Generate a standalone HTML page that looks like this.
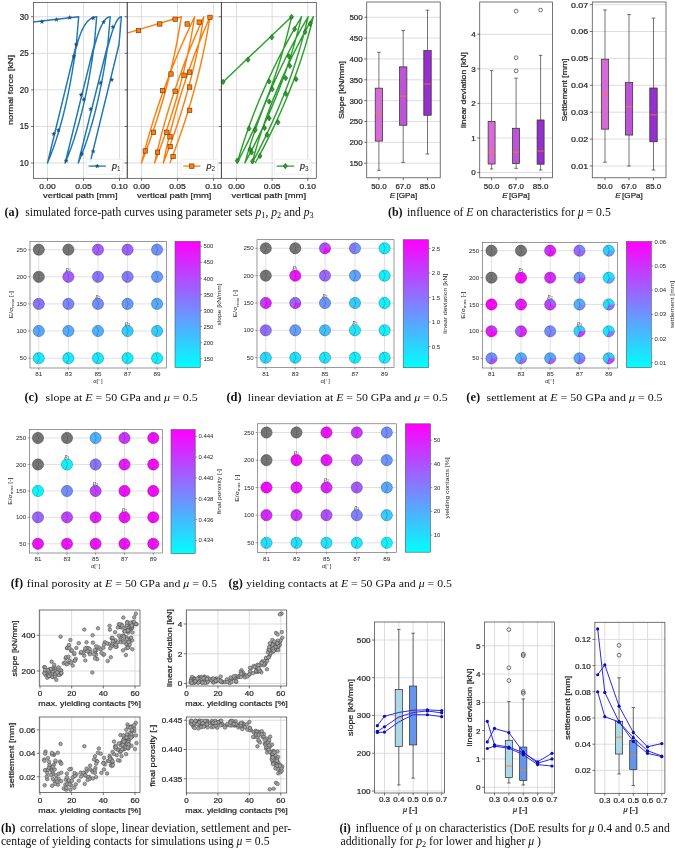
<!DOCTYPE html>
<html><head><meta charset="utf-8"><style>html,body{margin:0;padding:0;background:#fff;overflow:hidden;}svg{display:block;filter:blur(0.3px);}</style></head>
<body><svg width="675" height="849" viewBox="0 0 675 849">
<defs><clipPath id="ca1"><rect x="33.5" y="2.5" width="93.7" height="175.8"/></clipPath><clipPath id="ca2"><rect x="127.2" y="2.5" width="94.1" height="175.8"/></clipPath><clipPath id="ca3"><rect x="221.3" y="2.5" width="95" height="175.8"/></clipPath><linearGradient id="g175" x1="0" y1="1" x2="0" y2="0"><stop offset="0" stop-color="#00ffff"/><stop offset="1" stop-color="#ff00ff"/></linearGradient><linearGradient id="g403" x1="0" y1="1" x2="0" y2="0"><stop offset="0" stop-color="#00ffff"/><stop offset="1" stop-color="#ff00ff"/></linearGradient><linearGradient id="g626" x1="0" y1="1" x2="0" y2="0"><stop offset="0" stop-color="#00ffff"/><stop offset="1" stop-color="#ff00ff"/></linearGradient><linearGradient id="g171" x1="0" y1="1" x2="0" y2="0"><stop offset="0" stop-color="#00ffff"/><stop offset="1" stop-color="#ff00ff"/></linearGradient><linearGradient id="g405" x1="0" y1="1" x2="0" y2="0"><stop offset="0" stop-color="#00ffff"/><stop offset="1" stop-color="#ff00ff"/></linearGradient><clipPath id="c39_610"><rect x="39.25" y="610" width="100.75" height="76"/></clipPath><clipPath id="c186_610"><rect x="186.25" y="610" width="100.5" height="76"/></clipPath><clipPath id="c39_717"><rect x="39.25" y="717" width="100.75" height="75.5"/></clipPath><clipPath id="c186_717"><rect x="186.25" y="717" width="100.5" height="76"/></clipPath></defs>
<rect width="675" height="849" fill="#fff"/>
<line x1="33.5" y1="163" x2="127.2" y2="163" stroke="#d4d4d4" stroke-width="0.8" />
<line x1="33.5" y1="126.44" x2="127.2" y2="126.44" stroke="#d4d4d4" stroke-width="0.8" />
<line x1="33.5" y1="89.88" x2="127.2" y2="89.88" stroke="#d4d4d4" stroke-width="0.8" />
<line x1="33.5" y1="53.31" x2="127.2" y2="53.31" stroke="#d4d4d4" stroke-width="0.8" />
<line x1="33.5" y1="16.75" x2="127.2" y2="16.75" stroke="#d4d4d4" stroke-width="0.8" />
<line x1="47.5" y1="2.5" x2="47.5" y2="178.3" stroke="#d4d4d4" stroke-width="0.8" />
<line x1="83.5" y1="2.5" x2="83.5" y2="178.3" stroke="#d4d4d4" stroke-width="0.8" />
<line x1="119.5" y1="2.5" x2="119.5" y2="178.3" stroke="#d4d4d4" stroke-width="0.8" />
<line x1="127.2" y1="163" x2="221.3" y2="163" stroke="#d4d4d4" stroke-width="0.8" />
<line x1="127.2" y1="126.44" x2="221.3" y2="126.44" stroke="#d4d4d4" stroke-width="0.8" />
<line x1="127.2" y1="89.88" x2="221.3" y2="89.88" stroke="#d4d4d4" stroke-width="0.8" />
<line x1="127.2" y1="53.31" x2="221.3" y2="53.31" stroke="#d4d4d4" stroke-width="0.8" />
<line x1="127.2" y1="16.75" x2="221.3" y2="16.75" stroke="#d4d4d4" stroke-width="0.8" />
<line x1="141.5" y1="2.5" x2="141.5" y2="178.3" stroke="#d4d4d4" stroke-width="0.8" />
<line x1="177.5" y1="2.5" x2="177.5" y2="178.3" stroke="#d4d4d4" stroke-width="0.8" />
<line x1="213.5" y1="2.5" x2="213.5" y2="178.3" stroke="#d4d4d4" stroke-width="0.8" />
<line x1="221.3" y1="163" x2="316.3" y2="163" stroke="#d4d4d4" stroke-width="0.8" />
<line x1="221.3" y1="126.44" x2="316.3" y2="126.44" stroke="#d4d4d4" stroke-width="0.8" />
<line x1="221.3" y1="89.88" x2="316.3" y2="89.88" stroke="#d4d4d4" stroke-width="0.8" />
<line x1="221.3" y1="53.31" x2="316.3" y2="53.31" stroke="#d4d4d4" stroke-width="0.8" />
<line x1="221.3" y1="16.75" x2="316.3" y2="16.75" stroke="#d4d4d4" stroke-width="0.8" />
<line x1="236.5" y1="2.5" x2="236.5" y2="178.3" stroke="#d4d4d4" stroke-width="0.8" />
<line x1="272.12" y1="2.5" x2="272.12" y2="178.3" stroke="#d4d4d4" stroke-width="0.8" />
<line x1="307.75" y1="2.5" x2="307.75" y2="178.3" stroke="#d4d4d4" stroke-width="0.8" />
<polyline points="33.03,22.09 78.68,16.75 77.81,26.99 76.3,44.54 47.5,163 50.53,155.51 53.44,147.66 56.23,139.46 58.89,130.91 61.42,121.99 63.83,112.73 66.11,103.1 68.26,93.12 70.29,82.79 72.2,72.1 73.98,61.06 75.63,49.66 76.65,45.67 77.71,41.94 78.81,38.47 79.95,35.26 81.12,32.3 82.34,29.6 83.6,27.16 84.89,24.98 86.23,23.05 87.6,21.38 89.02,19.96 90.47,18.81 91.96,17.91 93.49,17.26 95.07,16.88 96.68,16.75 95.81,26.99 94.3,44.54 65.14,163 68.2,155.51 71.13,147.66 73.94,139.46 76.62,130.91 79.18,121.99 81.62,112.73 83.93,103.1 86.12,93.12 88.18,82.79 90.11,72.1 91.93,61.06 93.62,49.66 94.63,45.67 95.65,41.94 96.67,38.47 97.69,35.26 98.72,32.3 99.75,29.6 100.78,27.16 101.81,24.98 102.85,23.05 103.9,21.38 104.94,19.96 105.99,18.81 107.04,17.91 108.09,17.26 109.15,16.88 110.21,16.75 109.35,26.99 107.84,44.54 78.24,163 81.33,155.51 84.29,147.66 87.13,139.46 89.85,130.91 92.44,121.99 94.91,112.73 97.25,103.1 99.47,93.12 101.57,82.79 103.55,72.1 105.4,61.06 107.13,49.66 108.15,45.67 109.15,41.94 110.14,38.47 111.11,35.26 112.06,32.3 112.99,29.6 113.9,27.16 114.8,24.98 115.68,23.05 116.55,21.38 117.4,19.96 118.23,18.81 119.04,17.91 119.83,17.26 120.61,16.88 121.37,16.75 120.51,26.99 119,44.54 90.36,161.76" fill="none" stroke="#1f77b4" stroke-width="1.45" stroke-linejoin="round" clip-path="url(#ca1)"/>
<polyline points="127.03,33.13 181.39,16.75 179.68,27.2 177.81,37.64 175.75,48.09 173.52,58.54 171.11,68.98 168.52,79.43 165.76,89.88 162.83,100.32 159.71,110.77 156.42,121.21 152.96,131.66 149.31,142.11 145.5,152.55 141.5,163 144.15,152.55 146.97,142.11 149.98,131.66 153.16,121.21 156.51,110.77 160.04,100.32 163.75,89.88 167.63,79.43 171.69,68.98 175.93,58.54 180.34,48.09 184.93,37.64 189.69,27.2 194.64,16.75 192.92,27.2 191.03,37.64 188.97,48.09 186.72,58.54 184.31,68.98 181.71,79.43 178.94,89.88 175.99,100.32 172.87,110.77 169.57,121.21 166.09,131.66 162.44,142.11 158.61,152.55 154.6,163 156.97,152.55 159.51,142.11 162.23,131.66 165.13,121.21 168.2,110.77 171.45,100.32 174.87,89.88 178.47,79.43 182.25,68.98 186.2,58.54 190.33,48.09 194.64,37.64 199.12,27.2 203.78,16.75 202.04,27.2 200.12,37.64 198.02,48.09 195.75,58.54 193.3,68.98 190.67,79.43 187.87,89.88 184.89,100.32 181.73,110.77 178.4,121.21 174.9,131.66 171.21,142.11 167.35,152.55 163.32,163 165.5,152.55 167.87,142.11 170.4,131.66 173.12,121.21 176.01,110.77 179.08,100.32 182.32,89.88 185.74,79.43 189.34,68.98 193.12,58.54 197.06,48.09 201.19,37.64 205.49,27.2 209.97,16.75 208.26,27.2 206.37,37.64 204.3,48.09 202.06,58.54 199.64,68.98 197.05,79.43 194.28,89.88 191.33,100.32 188.2,110.77 184.9,121.21 181.43,131.66 177.77,142.11 173.95,152.55 169.94,163" fill="none" stroke="#ff7f0e" stroke-width="1.45" stroke-linejoin="round" clip-path="url(#ca2)"/>
<polyline points="223.1,81.9 291.5,16.75 289.14,27.2 286.54,37.64 283.71,48.09 280.65,58.54 277.35,68.98 273.82,79.43 270.06,89.88 266.06,100.32 261.84,110.77 257.38,121.21 252.69,131.66 247.76,142.11 242.6,152.55 237.21,163 240.29,152.55 243.6,142.11 247.15,131.66 250.92,121.21 254.93,110.77 259.17,100.32 263.65,89.88 268.35,79.43 273.29,68.98 278.46,58.54 283.87,48.09 289.51,37.64 295.38,27.2 301.48,16.75 298.95,27.2 296.19,37.64 293.2,48.09 289.97,58.54 286.51,68.98 282.82,79.43 278.89,89.88 274.74,100.32 270.35,110.77 265.72,121.21 260.87,131.66 255.78,142.11 250.46,152.55 244.91,163 247.91,152.55 251.14,142.11 254.61,131.66 258.31,121.21 262.24,110.77 266.41,100.32 270.81,89.88 275.44,79.43 280.3,68.98 285.4,58.54 290.72,48.09 296.29,37.64 302.08,27.2 308.11,16.75 305.62,27.2 302.9,37.64 299.94,48.09 296.76,58.54 293.34,68.98 289.69,79.43 285.81,89.88 281.69,100.32 277.34,110.77 272.76,121.21 267.94,131.66 262.9,142.11 257.62,152.55 252.1,163 254.96,152.55 258.06,142.11 261.38,131.66 264.94,121.21 268.73,110.77 272.75,100.32 277.01,89.88 281.49,79.43 286.21,68.98 291.17,58.54 296.35,48.09 301.77,37.64 307.42,27.2 313.31,16.75 310.67,27.2 307.8,37.64 304.7,48.09 301.37,58.54 297.8,68.98 294,79.43 289.97,89.88 285.71,100.32 281.21,110.77 276.48,121.21 271.52,131.66 266.33,142.11 260.9,152.55 255.24,163" fill="none" stroke="#2ca02c" stroke-width="1.45" stroke-linejoin="round" clip-path="url(#ca3)"/>
<polygon points="41.92,19.51 42.46,20.96 44.01,21.03 42.8,22 43.21,23.49 41.92,22.63 40.63,23.49 41.04,22 39.83,21.03 41.38,20.96" fill="#1f4e79" stroke="#1f4e79" stroke-width="0.3"/>
<polygon points="56.44,17.43 56.99,18.89 58.54,18.96 57.32,19.92 57.74,21.41 56.44,20.56 55.15,21.41 55.57,19.92 54.35,18.96 55.9,18.89" fill="#1f4e79" stroke="#1f4e79" stroke-width="0.3"/>
<polygon points="69.72,15.36 70.27,16.81 71.81,16.88 70.6,17.85 71.02,19.34 69.72,18.48 68.43,19.34 68.84,17.85 67.63,16.88 69.18,16.81" fill="#1f4e79" stroke="#1f4e79" stroke-width="0.3"/>
<polygon points="93.17,15.98 93.71,17.44 95.26,17.5 94.04,18.47 94.46,19.96 93.17,19.11 91.87,19.96 92.29,18.47 91.07,17.5 92.62,17.44" fill="#1f4e79" stroke="#1f4e79" stroke-width="0.3"/>
<polygon points="103.54,19.92 104.08,21.38 105.63,21.44 104.42,22.41 104.83,23.9 103.54,23.05 102.25,23.9 102.66,22.41 101.45,21.44 103,21.38" fill="#1f4e79" stroke="#1f4e79" stroke-width="0.3"/>
<polygon points="112.88,24.7 113.42,26.15 114.97,26.22 113.75,27.18 114.17,28.68 112.88,27.82 111.58,28.68 112,27.18 110.78,26.22 112.33,26.15" fill="#1f4e79" stroke="#1f4e79" stroke-width="0.3"/>
<polygon points="76.15,42.33 76.7,43.78 78.25,43.85 77.03,44.82 77.45,46.31 76.15,45.46 74.86,46.31 75.27,44.82 74.06,43.85 75.61,43.78" fill="#1f4e79" stroke="#1f4e79" stroke-width="0.3"/>
<polygon points="73.87,54.16 74.41,55.61 75.96,55.68 74.75,56.64 75.16,58.14 73.87,57.28 72.58,58.14 72.99,56.64 71.78,55.68 73.33,55.61" fill="#1f4e79" stroke="#1f4e79" stroke-width="0.3"/>
<polygon points="81.13,92.54 81.68,93.99 83.23,94.06 82.01,95.02 82.43,96.52 81.13,95.66 79.84,96.52 80.25,95.02 79.04,94.06 80.59,93.99" fill="#1f4e79" stroke="#1f4e79" stroke-width="0.3"/>
<polygon points="83.83,97.31 84.37,98.76 85.92,98.83 84.71,99.8 85.12,101.29 83.83,100.43 82.54,101.29 82.95,99.8 81.74,98.83 83.29,98.76" fill="#1f4e79" stroke="#1f4e79" stroke-width="0.3"/>
<polygon points="53.75,131.75 54.29,133.2 55.84,133.27 54.63,134.24 55.04,135.73 53.75,134.87 52.45,135.73 52.87,134.24 51.65,133.27 53.2,133.2" fill="#1f4e79" stroke="#1f4e79" stroke-width="0.3"/>
<polygon points="58.31,128.02 58.85,129.47 60.4,129.54 59.19,130.5 59.6,132 58.31,131.14 57.02,132 57.43,130.5 56.22,129.54 57.77,129.47" fill="#1f4e79" stroke="#1f4e79" stroke-width="0.3"/>
<polygon points="100.43,80.71 100.97,82.17 102.52,82.23 101.31,83.2 101.72,84.69 100.43,83.84 99.13,84.69 99.55,83.2 98.34,82.23 99.88,82.17" fill="#1f4e79" stroke="#1f4e79" stroke-width="0.3"/>
<polygon points="111.84,77.6 112.38,79.05 113.93,79.12 112.72,80.09 113.13,81.58 111.84,80.72 110.55,81.58 110.96,80.09 109.75,79.12 111.3,79.05" fill="#1f4e79" stroke="#1f4e79" stroke-width="0.3"/>
<polygon points="90.68,107.06 91.22,108.51 92.77,108.58 91.56,109.55 91.97,111.04 90.68,110.19 89.38,111.04 89.8,109.55 88.58,108.58 90.13,108.51" fill="#1f4e79" stroke="#1f4e79" stroke-width="0.3"/>
<polygon points="66.2,158.51 66.74,159.97 68.29,160.03 67.07,161 67.49,162.49 66.2,161.64 64.9,162.49 65.32,161 64.1,160.03 65.65,159.97" fill="#1f4e79" stroke="#1f4e79" stroke-width="0.3"/>
<polygon points="81.76,151.87 82.3,153.33 83.85,153.39 82.63,154.36 83.05,155.85 81.76,155 80.46,155.85 80.88,154.36 79.66,153.39 81.21,153.33" fill="#1f4e79" stroke="#1f4e79" stroke-width="0.3"/>
<polygon points="93.17,149.18 93.71,150.63 95.26,150.7 94.04,151.66 94.46,153.16 93.17,152.3 91.87,153.16 92.29,151.66 91.07,150.7 92.62,150.63" fill="#1f4e79" stroke="#1f4e79" stroke-width="0.3"/>
<rect x="136.21" y="28.43" width="4.4" height="4.4" fill="#ff7f0e" stroke="#5a3000" stroke-width="0.6"/>
<rect x="157.58" y="21.79" width="4.4" height="4.4" fill="#ff7f0e" stroke="#5a3000" stroke-width="0.6"/>
<rect x="172.93" y="17.02" width="4.4" height="4.4" fill="#ff7f0e" stroke="#5a3000" stroke-width="0.6"/>
<rect x="184.97" y="21.79" width="4.4" height="4.4" fill="#ff7f0e" stroke="#5a3000" stroke-width="0.6"/>
<rect x="197" y="19.92" width="4.4" height="4.4" fill="#ff7f0e" stroke="#5a3000" stroke-width="0.6"/>
<rect x="207.79" y="15.15" width="4.4" height="4.4" fill="#ff7f0e" stroke="#5a3000" stroke-width="0.6"/>
<rect x="168.78" y="71.79" width="4.4" height="4.4" fill="#ff7f0e" stroke="#5a3000" stroke-width="0.6"/>
<rect x="181.85" y="73.04" width="4.4" height="4.4" fill="#ff7f0e" stroke="#5a3000" stroke-width="0.6"/>
<rect x="187.46" y="69.92" width="4.4" height="4.4" fill="#ff7f0e" stroke="#5a3000" stroke-width="0.6"/>
<rect x="160.48" y="88.39" width="4.4" height="4.4" fill="#ff7f0e" stroke="#5a3000" stroke-width="0.6"/>
<rect x="172.93" y="89.01" width="4.4" height="4.4" fill="#ff7f0e" stroke="#5a3000" stroke-width="0.6"/>
<rect x="187.46" y="84.86" width="4.4" height="4.4" fill="#ff7f0e" stroke="#5a3000" stroke-width="0.6"/>
<rect x="187.46" y="108.1" width="4.4" height="4.4" fill="#ff7f0e" stroke="#5a3000" stroke-width="0.6"/>
<rect x="151.36" y="130.09" width="4.4" height="4.4" fill="#ff7f0e" stroke="#5a3000" stroke-width="0.6"/>
<rect x="164.63" y="130.09" width="4.4" height="4.4" fill="#ff7f0e" stroke="#5a3000" stroke-width="0.6"/>
<rect x="167.75" y="134.65" width="4.4" height="4.4" fill="#ff7f0e" stroke="#5a3000" stroke-width="0.6"/>
<rect x="143.06" y="148.76" width="4.4" height="4.4" fill="#ff7f0e" stroke="#5a3000" stroke-width="0.6"/>
<rect x="155.3" y="150.01" width="4.4" height="4.4" fill="#ff7f0e" stroke="#5a3000" stroke-width="0.6"/>
<rect x="167.95" y="144.41" width="4.4" height="4.4" fill="#ff7f0e" stroke="#5a3000" stroke-width="0.6"/>
<rect x="170.86" y="154.36" width="4.4" height="4.4" fill="#ff7f0e" stroke="#5a3000" stroke-width="0.6"/>
<polygon points="223.07,79.18 225.07,81.88 223.07,84.58 221.07,81.88" fill="#2ca02c" stroke="#145214" stroke-width="0.6"/>
<polygon points="247.97,56.98 249.97,59.68 247.97,62.38 245.97,59.68" fill="#2ca02c" stroke="#145214" stroke-width="0.6"/>
<polygon points="271.83,34.57 273.83,37.27 271.83,39.97 269.83,37.27" fill="#2ca02c" stroke="#145214" stroke-width="0.6"/>
<polygon points="291.54,14.24 293.54,16.94 291.54,19.64 289.54,16.94" fill="#2ca02c" stroke="#145214" stroke-width="0.6"/>
<polygon points="294.65,26.27 296.65,28.97 294.65,31.67 292.65,28.97" fill="#2ca02c" stroke="#145214" stroke-width="0.6"/>
<polygon points="305.02,29.38 307.02,32.08 305.02,34.78 303.02,32.08" fill="#2ca02c" stroke="#145214" stroke-width="0.6"/>
<polygon points="310.21,21.08 312.21,23.78 310.21,26.48 308.21,23.78" fill="#2ca02c" stroke="#145214" stroke-width="0.6"/>
<polygon points="288.84,53.66 290.84,56.36 288.84,59.06 286.84,56.36" fill="#2ca02c" stroke="#145214" stroke-width="0.6"/>
<polygon points="289.88,63.2 291.88,65.9 289.88,68.6 287.88,65.9" fill="#2ca02c" stroke="#145214" stroke-width="0.6"/>
<polygon points="285.73,75.44 287.73,78.14 285.73,80.84 283.73,78.14" fill="#2ca02c" stroke="#145214" stroke-width="0.6"/>
<polygon points="296.1,76.48 298.1,79.18 296.1,81.88 294.1,79.18" fill="#2ca02c" stroke="#145214" stroke-width="0.6"/>
<polygon points="269.13,78.76 271.13,81.46 269.13,84.16 267.13,81.46" fill="#2ca02c" stroke="#145214" stroke-width="0.6"/>
<polygon points="272.24,86.44 274.24,89.14 272.24,91.84 270.24,89.14" fill="#2ca02c" stroke="#145214" stroke-width="0.6"/>
<polygon points="269.13,98.89 271.13,101.59 269.13,104.29 267.13,101.59" fill="#2ca02c" stroke="#145214" stroke-width="0.6"/>
<polygon points="285.73,91 287.73,93.7 285.73,96.4 283.73,93.7" fill="#2ca02c" stroke="#145214" stroke-width="0.6"/>
<polygon points="269.13,115.48 271.13,118.18 269.13,120.88 267.13,118.18" fill="#2ca02c" stroke="#145214" stroke-width="0.6"/>
<polygon points="278.05,119.63 280.05,122.33 278.05,125.03 276.05,122.33" fill="#2ca02c" stroke="#145214" stroke-width="0.6"/>
<polygon points="249.01,125.86 251.01,128.56 249.01,131.26 247.01,128.56" fill="#2ca02c" stroke="#145214" stroke-width="0.6"/>
<polygon points="255.23,127.31 257.23,130.01 255.23,132.71 253.23,130.01" fill="#2ca02c" stroke="#145214" stroke-width="0.6"/>
<polygon points="264.57,125.23 266.57,127.93 264.57,130.63 262.57,127.93" fill="#2ca02c" stroke="#145214" stroke-width="0.6"/>
<polygon points="267.06,132.08 269.06,134.78 267.06,137.48 265.06,134.78" fill="#2ca02c" stroke="#145214" stroke-width="0.6"/>
<polygon points="250.05,146.6 252.05,149.3 250.05,152 248.05,149.3" fill="#2ca02c" stroke="#145214" stroke-width="0.6"/>
<polygon points="251.71,149.71 253.71,152.41 251.71,155.11 249.71,152.41" fill="#2ca02c" stroke="#145214" stroke-width="0.6"/>
<polygon points="260,153.24 262,155.94 260,158.64 258,155.94" fill="#2ca02c" stroke="#145214" stroke-width="0.6"/>
<polygon points="237.18,158.01 239.18,160.71 237.18,163.41 235.18,160.71" fill="#2ca02c" stroke="#145214" stroke-width="0.6"/>
<polygon points="252.54,158.64 254.54,161.34 252.54,164.04 250.54,161.34" fill="#2ca02c" stroke="#145214" stroke-width="0.6"/>
<rect x="86.4" y="159.2" width="36.6" height="15.2" rx="1.5" fill="#ffffff" fill-opacity="0.8" stroke="#e6e6e6" stroke-width="0.7"/>
<line x1="88.6" y1="166.1" x2="105.9" y2="166.1" stroke="#1f77b4" stroke-width="1.3" />
<polygon points="97.2,163.9 97.74,165.35 99.29,165.42 98.08,166.39 98.49,167.88 97.2,167.02 95.91,167.88 96.32,166.39 95.11,165.42 96.66,165.35" fill="#1f4e79" stroke="#1f4e79" stroke-width="0.3"/>
<text x="112" y="168.9" font-size="9" font-family="Liberation Sans" fill="#2a2a2a" font-style="italic" stroke="#2a2a2a" stroke-width="0.22">p</text>
<text x="117" y="170.6" font-size="6.4" font-family="Liberation Sans" fill="#2a2a2a">1</text>
<rect x="181" y="159.2" width="36.6" height="15.2" rx="1.5" fill="#ffffff" fill-opacity="0.8" stroke="#e6e6e6" stroke-width="0.7"/>
<line x1="183.2" y1="166.1" x2="200.5" y2="166.1" stroke="#ff7f0e" stroke-width="1.3" />
<rect x="189.6" y="163.9" width="4.4" height="4.4" fill="#ff7f0e" stroke="#5a3000" stroke-width="0.6"/>
<text x="206.6" y="168.9" font-size="9" font-family="Liberation Sans" fill="#2a2a2a" font-style="italic" stroke="#2a2a2a" stroke-width="0.22">p</text>
<text x="211.6" y="170.6" font-size="6.4" font-family="Liberation Sans" fill="#2a2a2a">2</text>
<rect x="274.5" y="159.2" width="36.6" height="15.2" rx="1.5" fill="#ffffff" fill-opacity="0.8" stroke="#e6e6e6" stroke-width="0.7"/>
<line x1="276.7" y1="166.1" x2="294" y2="166.1" stroke="#2ca02c" stroke-width="1.3" />
<polygon points="285.3,163.4 287.3,166.1 285.3,168.8 283.3,166.1" fill="#2ca02c" stroke="#145214" stroke-width="0.6"/>
<text x="300.1" y="168.9" font-size="9" font-family="Liberation Sans" fill="#2a2a2a" font-style="italic" stroke="#2a2a2a" stroke-width="0.22">p</text>
<text x="305.1" y="170.6" font-size="6.4" font-family="Liberation Sans" fill="#2a2a2a">3</text>
<rect x="33.5" y="2.5" width="93.7" height="175.8" fill="none" stroke="#3a3a3a" stroke-width="0.7"/>
<line x1="47.5" y1="178.3" x2="47.5" y2="180.8" stroke="#3a3a3a" stroke-width="0.7" />
<text x="47.5" y="188.6" font-size="8" font-family="Liberation Sans" fill="#262626" text-anchor="middle" textLength="16.6" lengthAdjust="spacingAndGlyphs" stroke="#262626" stroke-width="0.22">0.00</text>
<line x1="83.5" y1="178.3" x2="83.5" y2="180.8" stroke="#3a3a3a" stroke-width="0.7" />
<text x="83.5" y="188.6" font-size="8" font-family="Liberation Sans" fill="#262626" text-anchor="middle" textLength="16.6" lengthAdjust="spacingAndGlyphs" stroke="#262626" stroke-width="0.22">0.05</text>
<line x1="119.5" y1="178.3" x2="119.5" y2="180.8" stroke="#3a3a3a" stroke-width="0.7" />
<text x="119.5" y="188.6" font-size="8" font-family="Liberation Sans" fill="#262626" text-anchor="middle" textLength="16.6" lengthAdjust="spacingAndGlyphs" stroke="#262626" stroke-width="0.22">0.10</text>
<line x1="31" y1="163" x2="33.5" y2="163" stroke="#3a3a3a" stroke-width="0.7" />
<line x1="31" y1="126.44" x2="33.5" y2="126.44" stroke="#3a3a3a" stroke-width="0.7" />
<line x1="31" y1="89.88" x2="33.5" y2="89.88" stroke="#3a3a3a" stroke-width="0.7" />
<line x1="31" y1="53.31" x2="33.5" y2="53.31" stroke="#3a3a3a" stroke-width="0.7" />
<line x1="31" y1="16.75" x2="33.5" y2="16.75" stroke="#3a3a3a" stroke-width="0.7" />
<text x="80.35" y="197.6" font-size="8" font-family="Liberation Sans" fill="#262626" text-anchor="middle" textLength="74.5" lengthAdjust="spacingAndGlyphs" stroke="#262626" stroke-width="0.22">vertical path [mm]</text>
<rect x="127.2" y="2.5" width="94.1" height="175.8" fill="none" stroke="#3a3a3a" stroke-width="0.7"/>
<line x1="141.5" y1="178.3" x2="141.5" y2="180.8" stroke="#3a3a3a" stroke-width="0.7" />
<text x="141.5" y="188.6" font-size="8" font-family="Liberation Sans" fill="#262626" text-anchor="middle" textLength="16.6" lengthAdjust="spacingAndGlyphs" stroke="#262626" stroke-width="0.22">0.00</text>
<line x1="177.5" y1="178.3" x2="177.5" y2="180.8" stroke="#3a3a3a" stroke-width="0.7" />
<text x="177.5" y="188.6" font-size="8" font-family="Liberation Sans" fill="#262626" text-anchor="middle" textLength="16.6" lengthAdjust="spacingAndGlyphs" stroke="#262626" stroke-width="0.22">0.05</text>
<line x1="213.5" y1="178.3" x2="213.5" y2="180.8" stroke="#3a3a3a" stroke-width="0.7" />
<text x="213.5" y="188.6" font-size="8" font-family="Liberation Sans" fill="#262626" text-anchor="middle" textLength="16.6" lengthAdjust="spacingAndGlyphs" stroke="#262626" stroke-width="0.22">0.10</text>
<line x1="124.7" y1="163" x2="127.2" y2="163" stroke="#3a3a3a" stroke-width="0.7" />
<line x1="124.7" y1="126.44" x2="127.2" y2="126.44" stroke="#3a3a3a" stroke-width="0.7" />
<line x1="124.7" y1="89.88" x2="127.2" y2="89.88" stroke="#3a3a3a" stroke-width="0.7" />
<line x1="124.7" y1="53.31" x2="127.2" y2="53.31" stroke="#3a3a3a" stroke-width="0.7" />
<line x1="124.7" y1="16.75" x2="127.2" y2="16.75" stroke="#3a3a3a" stroke-width="0.7" />
<text x="174.25" y="197.6" font-size="8" font-family="Liberation Sans" fill="#262626" text-anchor="middle" textLength="74.5" lengthAdjust="spacingAndGlyphs" stroke="#262626" stroke-width="0.22">vertical path [mm]</text>
<rect x="221.3" y="2.5" width="95" height="175.8" fill="none" stroke="#3a3a3a" stroke-width="0.7"/>
<line x1="236.5" y1="178.3" x2="236.5" y2="180.8" stroke="#3a3a3a" stroke-width="0.7" />
<text x="236.5" y="188.6" font-size="8" font-family="Liberation Sans" fill="#262626" text-anchor="middle" textLength="16.6" lengthAdjust="spacingAndGlyphs" stroke="#262626" stroke-width="0.22">0.00</text>
<line x1="272.12" y1="178.3" x2="272.12" y2="180.8" stroke="#3a3a3a" stroke-width="0.7" />
<text x="272.12" y="188.6" font-size="8" font-family="Liberation Sans" fill="#262626" text-anchor="middle" textLength="16.6" lengthAdjust="spacingAndGlyphs" stroke="#262626" stroke-width="0.22">0.05</text>
<line x1="307.75" y1="178.3" x2="307.75" y2="180.8" stroke="#3a3a3a" stroke-width="0.7" />
<text x="307.75" y="188.6" font-size="8" font-family="Liberation Sans" fill="#262626" text-anchor="middle" textLength="16.6" lengthAdjust="spacingAndGlyphs" stroke="#262626" stroke-width="0.22">0.10</text>
<line x1="218.8" y1="163" x2="221.3" y2="163" stroke="#3a3a3a" stroke-width="0.7" />
<line x1="218.8" y1="126.44" x2="221.3" y2="126.44" stroke="#3a3a3a" stroke-width="0.7" />
<line x1="218.8" y1="89.88" x2="221.3" y2="89.88" stroke="#3a3a3a" stroke-width="0.7" />
<line x1="218.8" y1="53.31" x2="221.3" y2="53.31" stroke="#3a3a3a" stroke-width="0.7" />
<line x1="218.8" y1="16.75" x2="221.3" y2="16.75" stroke="#3a3a3a" stroke-width="0.7" />
<text x="268.8" y="197.6" font-size="8" font-family="Liberation Sans" fill="#262626" text-anchor="middle" textLength="74.5" lengthAdjust="spacingAndGlyphs" stroke="#262626" stroke-width="0.22">vertical path [mm]</text>
<text x="28.6" y="166" font-size="8.4" font-family="Liberation Sans" fill="#262626" text-anchor="end" textLength="8.9" lengthAdjust="spacingAndGlyphs" stroke="#262626" stroke-width="0.22">10</text>
<text x="28.6" y="129.44" font-size="8.4" font-family="Liberation Sans" fill="#262626" text-anchor="end" textLength="8.9" lengthAdjust="spacingAndGlyphs" stroke="#262626" stroke-width="0.22">15</text>
<text x="28.6" y="92.88" font-size="8.4" font-family="Liberation Sans" fill="#262626" text-anchor="end" textLength="8.9" lengthAdjust="spacingAndGlyphs" stroke="#262626" stroke-width="0.22">20</text>
<text x="28.6" y="56.31" font-size="8.4" font-family="Liberation Sans" fill="#262626" text-anchor="end" textLength="8.9" lengthAdjust="spacingAndGlyphs" stroke="#262626" stroke-width="0.22">25</text>
<text x="28.6" y="19.75" font-size="8.4" font-family="Liberation Sans" fill="#262626" text-anchor="end" textLength="8.9" lengthAdjust="spacingAndGlyphs" stroke="#262626" stroke-width="0.22">30</text>
<text x="13" y="90" font-size="8" font-family="Liberation Sans" fill="#262626" text-anchor="middle" textLength="70" lengthAdjust="spacingAndGlyphs" transform="rotate(-90 13 90)" stroke="#262626" stroke-width="0.22">normal force [kN]</text>
<line x1="366.75" y1="163.2" x2="440.2" y2="163.2" stroke="#d4d4d4" stroke-width="0.8" />
<line x1="366.75" y1="142.35" x2="440.2" y2="142.35" stroke="#d4d4d4" stroke-width="0.8" />
<line x1="366.75" y1="121.5" x2="440.2" y2="121.5" stroke="#d4d4d4" stroke-width="0.8" />
<line x1="366.75" y1="100.65" x2="440.2" y2="100.65" stroke="#d4d4d4" stroke-width="0.8" />
<line x1="366.75" y1="79.8" x2="440.2" y2="79.8" stroke="#d4d4d4" stroke-width="0.8" />
<line x1="366.75" y1="58.95" x2="440.2" y2="58.95" stroke="#d4d4d4" stroke-width="0.8" />
<line x1="366.75" y1="38.1" x2="440.2" y2="38.1" stroke="#d4d4d4" stroke-width="0.8" />
<line x1="366.75" y1="17.25" x2="440.2" y2="17.25" stroke="#d4d4d4" stroke-width="0.8" />
<line x1="479.75" y1="172.5" x2="552.5" y2="172.5" stroke="#d4d4d4" stroke-width="0.8" />
<line x1="479.75" y1="137.94" x2="552.5" y2="137.94" stroke="#d4d4d4" stroke-width="0.8" />
<line x1="479.75" y1="103.38" x2="552.5" y2="103.38" stroke="#d4d4d4" stroke-width="0.8" />
<line x1="479.75" y1="68.82" x2="552.5" y2="68.82" stroke="#d4d4d4" stroke-width="0.8" />
<line x1="479.75" y1="34.26" x2="552.5" y2="34.26" stroke="#d4d4d4" stroke-width="0.8" />
<line x1="592.25" y1="166" x2="666" y2="166" stroke="#d4d4d4" stroke-width="0.8" />
<line x1="592.25" y1="139.1" x2="666" y2="139.1" stroke="#d4d4d4" stroke-width="0.8" />
<line x1="592.25" y1="112.2" x2="666" y2="112.2" stroke="#d4d4d4" stroke-width="0.8" />
<line x1="592.25" y1="85.3" x2="666" y2="85.3" stroke="#d4d4d4" stroke-width="0.8" />
<line x1="592.25" y1="58.4" x2="666" y2="58.4" stroke="#d4d4d4" stroke-width="0.8" />
<line x1="592.25" y1="31.5" x2="666" y2="31.5" stroke="#d4d4d4" stroke-width="0.8" />
<line x1="592.25" y1="4.6" x2="666" y2="4.6" stroke="#d4d4d4" stroke-width="0.8" />
<line x1="378.9" y1="88.14" x2="378.9" y2="52.28" stroke="#3a3a3a" stroke-width="0.7" />
<line x1="378.9" y1="141.1" x2="378.9" y2="170.29" stroke="#3a3a3a" stroke-width="0.7" />
<line x1="377.05" y1="52.28" x2="380.75" y2="52.28" stroke="#3a3a3a" stroke-width="0.7" />
<line x1="377.05" y1="170.29" x2="380.75" y2="170.29" stroke="#3a3a3a" stroke-width="0.7" />
<rect x="375.2" y="88.14" width="7.4" height="52.96" fill="#d66ad6" stroke="#2a2a2a" stroke-width="0.7"/>
<line x1="375.6" y1="112.33" x2="382.2" y2="112.33" stroke="#ff7f0e" stroke-width="0.8" />
<line x1="491.6" y1="121.35" x2="491.6" y2="70.55" stroke="#3a3a3a" stroke-width="0.7" />
<line x1="491.6" y1="164.03" x2="491.6" y2="169.04" stroke="#3a3a3a" stroke-width="0.7" />
<line x1="489.85" y1="70.55" x2="493.35" y2="70.55" stroke="#3a3a3a" stroke-width="0.7" />
<line x1="489.85" y1="169.04" x2="493.35" y2="169.04" stroke="#3a3a3a" stroke-width="0.7" />
<rect x="488.1" y="121.35" width="7" height="42.68" fill="#d66ad6" stroke="#2a2a2a" stroke-width="0.7"/>
<line x1="488.5" y1="152.11" x2="494.7" y2="152.11" stroke="#ff7f0e" stroke-width="0.8" />
<line x1="605" y1="59.21" x2="605" y2="9.98" stroke="#3a3a3a" stroke-width="0.7" />
<line x1="605" y1="129.15" x2="605" y2="162.23" stroke="#3a3a3a" stroke-width="0.7" />
<line x1="603.15" y1="9.98" x2="606.85" y2="9.98" stroke="#3a3a3a" stroke-width="0.7" />
<line x1="603.15" y1="162.23" x2="606.85" y2="162.23" stroke="#3a3a3a" stroke-width="0.7" />
<rect x="601.3" y="59.21" width="7.4" height="69.94" fill="#d66ad6" stroke="#2a2a2a" stroke-width="0.7"/>
<line x1="601.7" y1="94.18" x2="608.3" y2="94.18" stroke="#ff7f0e" stroke-width="0.8" />
<line x1="403.2" y1="66.87" x2="403.2" y2="30.59" stroke="#3a3a3a" stroke-width="0.7" />
<line x1="403.2" y1="125.25" x2="403.2" y2="162.37" stroke="#3a3a3a" stroke-width="0.7" />
<line x1="401.35" y1="30.59" x2="405.05" y2="30.59" stroke="#3a3a3a" stroke-width="0.7" />
<line x1="401.35" y1="162.37" x2="405.05" y2="162.37" stroke="#3a3a3a" stroke-width="0.7" />
<rect x="399.5" y="66.87" width="7.4" height="58.38" fill="#bb55d6" stroke="#2a2a2a" stroke-width="0.7"/>
<line x1="399.9" y1="96.06" x2="406.5" y2="96.06" stroke="#ff7f0e" stroke-width="0.8" />
<line x1="516.1" y1="128.26" x2="516.1" y2="78.15" stroke="#3a3a3a" stroke-width="0.7" />
<line x1="516.1" y1="163.51" x2="516.1" y2="168.35" stroke="#3a3a3a" stroke-width="0.7" />
<line x1="514.35" y1="78.15" x2="517.85" y2="78.15" stroke="#3a3a3a" stroke-width="0.7" />
<line x1="514.35" y1="168.35" x2="517.85" y2="168.35" stroke="#3a3a3a" stroke-width="0.7" />
<rect x="512.6" y="128.26" width="7" height="35.25" fill="#bb55d6" stroke="#2a2a2a" stroke-width="0.7"/>
<line x1="513" y1="152.11" x2="519.2" y2="152.11" stroke="#ff7f0e" stroke-width="0.8" />
<circle cx="516.1" cy="70.89" r="1.9" fill="none" stroke="#3a3a3a" stroke-width="0.7"/>
<circle cx="516.1" cy="57.76" r="1.9" fill="none" stroke="#3a3a3a" stroke-width="0.7"/>
<circle cx="516.1" cy="11.1" r="1.9" fill="none" stroke="#3a3a3a" stroke-width="0.7"/>
<line x1="629" y1="82.61" x2="629" y2="14.55" stroke="#3a3a3a" stroke-width="0.7" />
<line x1="629" y1="135.06" x2="629" y2="166" stroke="#3a3a3a" stroke-width="0.7" />
<line x1="627.15" y1="14.55" x2="630.85" y2="14.55" stroke="#3a3a3a" stroke-width="0.7" />
<line x1="627.15" y1="166" x2="630.85" y2="166" stroke="#3a3a3a" stroke-width="0.7" />
<rect x="625.3" y="82.61" width="7.4" height="52.45" fill="#bb55d6" stroke="#2a2a2a" stroke-width="0.7"/>
<line x1="625.7" y1="106.82" x2="632.3" y2="106.82" stroke="#ff7f0e" stroke-width="0.8" />
<line x1="427.5" y1="50.61" x2="427.5" y2="10.16" stroke="#3a3a3a" stroke-width="0.7" />
<line x1="427.5" y1="115.24" x2="427.5" y2="154.03" stroke="#3a3a3a" stroke-width="0.7" />
<line x1="425.65" y1="10.16" x2="429.35" y2="10.16" stroke="#3a3a3a" stroke-width="0.7" />
<line x1="425.65" y1="154.03" x2="429.35" y2="154.03" stroke="#3a3a3a" stroke-width="0.7" />
<rect x="423.8" y="50.61" width="7.4" height="64.63" fill="#9530cc" stroke="#2a2a2a" stroke-width="0.7"/>
<line x1="424.2" y1="83.97" x2="430.8" y2="83.97" stroke="#ff7f0e" stroke-width="0.8" />
<line x1="540.6" y1="119.97" x2="540.6" y2="55.34" stroke="#3a3a3a" stroke-width="0.7" />
<line x1="540.6" y1="164.21" x2="540.6" y2="170.08" stroke="#3a3a3a" stroke-width="0.7" />
<line x1="538.85" y1="55.34" x2="542.35" y2="55.34" stroke="#3a3a3a" stroke-width="0.7" />
<line x1="538.85" y1="170.08" x2="542.35" y2="170.08" stroke="#3a3a3a" stroke-width="0.7" />
<rect x="537.1" y="119.97" width="7" height="44.24" fill="#9530cc" stroke="#2a2a2a" stroke-width="0.7"/>
<line x1="537.5" y1="151.07" x2="543.7" y2="151.07" stroke="#ff7f0e" stroke-width="0.8" />
<circle cx="540.6" cy="10.07" r="1.9" fill="none" stroke="#3a3a3a" stroke-width="0.7"/>
<line x1="653.5" y1="87.99" x2="653.5" y2="18.05" stroke="#3a3a3a" stroke-width="0.7" />
<line x1="653.5" y1="141.79" x2="653.5" y2="170.03" stroke="#3a3a3a" stroke-width="0.7" />
<line x1="651.65" y1="18.05" x2="655.35" y2="18.05" stroke="#3a3a3a" stroke-width="0.7" />
<line x1="651.65" y1="170.03" x2="655.35" y2="170.03" stroke="#3a3a3a" stroke-width="0.7" />
<rect x="649.8" y="87.99" width="7.4" height="53.8" fill="#9530cc" stroke="#2a2a2a" stroke-width="0.7"/>
<line x1="650.2" y1="114.89" x2="656.8" y2="114.89" stroke="#ff7f0e" stroke-width="0.8" />
<rect x="366.75" y="2" width="73.45" height="175.8" fill="none" stroke="#3a3a3a" stroke-width="0.7"/>
<line x1="378.9" y1="177.8" x2="378.9" y2="180.3" stroke="#3a3a3a" stroke-width="0.7" />
<text x="378.9" y="188.6" font-size="8" font-family="Liberation Sans" fill="#262626" text-anchor="middle" textLength="15.5" lengthAdjust="spacingAndGlyphs" stroke="#262626" stroke-width="0.22">50.0</text>
<line x1="403.2" y1="177.8" x2="403.2" y2="180.3" stroke="#3a3a3a" stroke-width="0.7" />
<text x="403.2" y="188.6" font-size="8" font-family="Liberation Sans" fill="#262626" text-anchor="middle" textLength="15.5" lengthAdjust="spacingAndGlyphs" stroke="#262626" stroke-width="0.22">67.0</text>
<line x1="427.5" y1="177.8" x2="427.5" y2="180.3" stroke="#3a3a3a" stroke-width="0.7" />
<text x="427.5" y="188.6" font-size="8" font-family="Liberation Sans" fill="#262626" text-anchor="middle" textLength="15.5" lengthAdjust="spacingAndGlyphs" stroke="#262626" stroke-width="0.22">85.0</text>
<text x="389.68" y="197.6" font-size="8" font-family="Liberation Sans" fill="#262626" font-style="italic" stroke="#262626" stroke-width="0.22">E</text>
<text x="396.48" y="197.6" font-size="8" font-family="Liberation Sans" fill="#262626" textLength="20.7" lengthAdjust="spacingAndGlyphs" stroke="#262626" stroke-width="0.22">[GPa]</text>
<rect x="479.75" y="2" width="72.75" height="175.8" fill="none" stroke="#3a3a3a" stroke-width="0.7"/>
<line x1="491.6" y1="177.8" x2="491.6" y2="180.3" stroke="#3a3a3a" stroke-width="0.7" />
<text x="491.6" y="188.6" font-size="8" font-family="Liberation Sans" fill="#262626" text-anchor="middle" textLength="15.5" lengthAdjust="spacingAndGlyphs" stroke="#262626" stroke-width="0.22">50.0</text>
<line x1="516.1" y1="177.8" x2="516.1" y2="180.3" stroke="#3a3a3a" stroke-width="0.7" />
<text x="516.1" y="188.6" font-size="8" font-family="Liberation Sans" fill="#262626" text-anchor="middle" textLength="15.5" lengthAdjust="spacingAndGlyphs" stroke="#262626" stroke-width="0.22">67.0</text>
<line x1="540.6" y1="177.8" x2="540.6" y2="180.3" stroke="#3a3a3a" stroke-width="0.7" />
<text x="540.6" y="188.6" font-size="8" font-family="Liberation Sans" fill="#262626" text-anchor="middle" textLength="15.5" lengthAdjust="spacingAndGlyphs" stroke="#262626" stroke-width="0.22">85.0</text>
<text x="502.32" y="197.6" font-size="8" font-family="Liberation Sans" fill="#262626" font-style="italic" stroke="#262626" stroke-width="0.22">E</text>
<text x="509.12" y="197.6" font-size="8" font-family="Liberation Sans" fill="#262626" textLength="20.7" lengthAdjust="spacingAndGlyphs" stroke="#262626" stroke-width="0.22">[GPa]</text>
<rect x="592.25" y="2" width="73.75" height="175.8" fill="none" stroke="#3a3a3a" stroke-width="0.7"/>
<line x1="605" y1="177.8" x2="605" y2="180.3" stroke="#3a3a3a" stroke-width="0.7" />
<text x="605" y="188.6" font-size="8" font-family="Liberation Sans" fill="#262626" text-anchor="middle" textLength="15.5" lengthAdjust="spacingAndGlyphs" stroke="#262626" stroke-width="0.22">50.0</text>
<line x1="629" y1="177.8" x2="629" y2="180.3" stroke="#3a3a3a" stroke-width="0.7" />
<text x="629" y="188.6" font-size="8" font-family="Liberation Sans" fill="#262626" text-anchor="middle" textLength="15.5" lengthAdjust="spacingAndGlyphs" stroke="#262626" stroke-width="0.22">67.0</text>
<line x1="653.5" y1="177.8" x2="653.5" y2="180.3" stroke="#3a3a3a" stroke-width="0.7" />
<text x="653.5" y="188.6" font-size="8" font-family="Liberation Sans" fill="#262626" text-anchor="middle" textLength="15.5" lengthAdjust="spacingAndGlyphs" stroke="#262626" stroke-width="0.22">85.0</text>
<text x="615.33" y="197.6" font-size="8" font-family="Liberation Sans" fill="#262626" font-style="italic" stroke="#262626" stroke-width="0.22">E</text>
<text x="622.12" y="197.6" font-size="8" font-family="Liberation Sans" fill="#262626" textLength="20.7" lengthAdjust="spacingAndGlyphs" stroke="#262626" stroke-width="0.22">[GPa]</text>
<line x1="364.25" y1="163.2" x2="366.75" y2="163.2" stroke="#3a3a3a" stroke-width="0.7" />
<text x="362.75" y="166.1" font-size="8" font-family="Liberation Sans" fill="#262626" text-anchor="end" textLength="13.3" lengthAdjust="spacingAndGlyphs" stroke="#262626" stroke-width="0.22">150</text>
<line x1="364.25" y1="142.35" x2="366.75" y2="142.35" stroke="#3a3a3a" stroke-width="0.7" />
<text x="362.75" y="145.25" font-size="8" font-family="Liberation Sans" fill="#262626" text-anchor="end" textLength="13.3" lengthAdjust="spacingAndGlyphs" stroke="#262626" stroke-width="0.22">200</text>
<line x1="364.25" y1="121.5" x2="366.75" y2="121.5" stroke="#3a3a3a" stroke-width="0.7" />
<text x="362.75" y="124.4" font-size="8" font-family="Liberation Sans" fill="#262626" text-anchor="end" textLength="13.3" lengthAdjust="spacingAndGlyphs" stroke="#262626" stroke-width="0.22">250</text>
<line x1="364.25" y1="100.65" x2="366.75" y2="100.65" stroke="#3a3a3a" stroke-width="0.7" />
<text x="362.75" y="103.55" font-size="8" font-family="Liberation Sans" fill="#262626" text-anchor="end" textLength="13.3" lengthAdjust="spacingAndGlyphs" stroke="#262626" stroke-width="0.22">300</text>
<line x1="364.25" y1="79.8" x2="366.75" y2="79.8" stroke="#3a3a3a" stroke-width="0.7" />
<text x="362.75" y="82.7" font-size="8" font-family="Liberation Sans" fill="#262626" text-anchor="end" textLength="13.3" lengthAdjust="spacingAndGlyphs" stroke="#262626" stroke-width="0.22">350</text>
<line x1="364.25" y1="58.95" x2="366.75" y2="58.95" stroke="#3a3a3a" stroke-width="0.7" />
<text x="362.75" y="61.85" font-size="8" font-family="Liberation Sans" fill="#262626" text-anchor="end" textLength="13.3" lengthAdjust="spacingAndGlyphs" stroke="#262626" stroke-width="0.22">400</text>
<line x1="364.25" y1="38.1" x2="366.75" y2="38.1" stroke="#3a3a3a" stroke-width="0.7" />
<text x="362.75" y="41" font-size="8" font-family="Liberation Sans" fill="#262626" text-anchor="end" textLength="13.3" lengthAdjust="spacingAndGlyphs" stroke="#262626" stroke-width="0.22">450</text>
<line x1="364.25" y1="17.25" x2="366.75" y2="17.25" stroke="#3a3a3a" stroke-width="0.7" />
<text x="362.75" y="20.15" font-size="8" font-family="Liberation Sans" fill="#262626" text-anchor="end" textLength="13.3" lengthAdjust="spacingAndGlyphs" stroke="#262626" stroke-width="0.22">500</text>
<line x1="477.25" y1="172.5" x2="479.75" y2="172.5" stroke="#3a3a3a" stroke-width="0.7" />
<text x="475.75" y="175.4" font-size="8" font-family="Liberation Sans" fill="#262626" text-anchor="end" textLength="4.5" lengthAdjust="spacingAndGlyphs" stroke="#262626" stroke-width="0.22">0</text>
<line x1="477.25" y1="137.94" x2="479.75" y2="137.94" stroke="#3a3a3a" stroke-width="0.7" />
<text x="475.75" y="140.84" font-size="8" font-family="Liberation Sans" fill="#262626" text-anchor="end" textLength="4.5" lengthAdjust="spacingAndGlyphs" stroke="#262626" stroke-width="0.22">1</text>
<line x1="477.25" y1="103.38" x2="479.75" y2="103.38" stroke="#3a3a3a" stroke-width="0.7" />
<text x="475.75" y="106.28" font-size="8" font-family="Liberation Sans" fill="#262626" text-anchor="end" textLength="4.5" lengthAdjust="spacingAndGlyphs" stroke="#262626" stroke-width="0.22">2</text>
<line x1="477.25" y1="68.82" x2="479.75" y2="68.82" stroke="#3a3a3a" stroke-width="0.7" />
<text x="475.75" y="71.72" font-size="8" font-family="Liberation Sans" fill="#262626" text-anchor="end" textLength="4.5" lengthAdjust="spacingAndGlyphs" stroke="#262626" stroke-width="0.22">3</text>
<line x1="477.25" y1="34.26" x2="479.75" y2="34.26" stroke="#3a3a3a" stroke-width="0.7" />
<text x="475.75" y="37.16" font-size="8" font-family="Liberation Sans" fill="#262626" text-anchor="end" textLength="4.5" lengthAdjust="spacingAndGlyphs" stroke="#262626" stroke-width="0.22">4</text>
<line x1="589.75" y1="166" x2="592.25" y2="166" stroke="#3a3a3a" stroke-width="0.7" />
<text x="588.25" y="168.9" font-size="8" font-family="Liberation Sans" fill="#262626" text-anchor="end" textLength="17.3" lengthAdjust="spacingAndGlyphs" stroke="#262626" stroke-width="0.22">0.01</text>
<line x1="589.75" y1="139.1" x2="592.25" y2="139.1" stroke="#3a3a3a" stroke-width="0.7" />
<text x="588.25" y="142" font-size="8" font-family="Liberation Sans" fill="#262626" text-anchor="end" textLength="17.3" lengthAdjust="spacingAndGlyphs" stroke="#262626" stroke-width="0.22">0.02</text>
<line x1="589.75" y1="112.2" x2="592.25" y2="112.2" stroke="#3a3a3a" stroke-width="0.7" />
<text x="588.25" y="115.1" font-size="8" font-family="Liberation Sans" fill="#262626" text-anchor="end" textLength="17.3" lengthAdjust="spacingAndGlyphs" stroke="#262626" stroke-width="0.22">0.03</text>
<line x1="589.75" y1="85.3" x2="592.25" y2="85.3" stroke="#3a3a3a" stroke-width="0.7" />
<text x="588.25" y="88.2" font-size="8" font-family="Liberation Sans" fill="#262626" text-anchor="end" textLength="17.3" lengthAdjust="spacingAndGlyphs" stroke="#262626" stroke-width="0.22">0.04</text>
<line x1="589.75" y1="58.4" x2="592.25" y2="58.4" stroke="#3a3a3a" stroke-width="0.7" />
<text x="588.25" y="61.3" font-size="8" font-family="Liberation Sans" fill="#262626" text-anchor="end" textLength="17.3" lengthAdjust="spacingAndGlyphs" stroke="#262626" stroke-width="0.22">0.05</text>
<line x1="589.75" y1="31.5" x2="592.25" y2="31.5" stroke="#3a3a3a" stroke-width="0.7" />
<text x="588.25" y="34.4" font-size="8" font-family="Liberation Sans" fill="#262626" text-anchor="end" textLength="17.3" lengthAdjust="spacingAndGlyphs" stroke="#262626" stroke-width="0.22">0.06</text>
<line x1="589.75" y1="4.6" x2="592.25" y2="4.6" stroke="#3a3a3a" stroke-width="0.7" />
<text x="588.25" y="7.5" font-size="8" font-family="Liberation Sans" fill="#262626" text-anchor="end" textLength="17.3" lengthAdjust="spacingAndGlyphs" stroke="#262626" stroke-width="0.22">0.07</text>
<text x="344" y="90" font-size="7.6" font-family="Liberation Sans" fill="#262626" text-anchor="middle" textLength="58" lengthAdjust="spacingAndGlyphs" transform="rotate(-90 344 90)" stroke="#262626" stroke-width="0.22">Slope [kN/mm]</text>
<text x="466" y="90" font-size="7.6" font-family="Liberation Sans" fill="#262626" text-anchor="middle" textLength="76" lengthAdjust="spacingAndGlyphs" transform="rotate(-90 466 90)" stroke="#262626" stroke-width="0.22">linear deviation [kN]</text>
<text x="567" y="90" font-size="7.6" font-family="Liberation Sans" fill="#262626" text-anchor="middle" textLength="63" lengthAdjust="spacingAndGlyphs" transform="rotate(-90 567 90)" stroke="#262626" stroke-width="0.22">Settlement [mm]</text>
<line x1="38.8" y1="241.3" x2="38.8" y2="368" stroke="#d4d4d4" stroke-width="0.7" />
<line x1="68.4" y1="241.3" x2="68.4" y2="368" stroke="#d4d4d4" stroke-width="0.7" />
<line x1="98" y1="241.3" x2="98" y2="368" stroke="#d4d4d4" stroke-width="0.7" />
<line x1="127.6" y1="241.3" x2="127.6" y2="368" stroke="#d4d4d4" stroke-width="0.7" />
<line x1="157.1" y1="241.3" x2="157.1" y2="368" stroke="#d4d4d4" stroke-width="0.7" />
<line x1="30" y1="249.7" x2="166.3" y2="249.7" stroke="#d4d4d4" stroke-width="0.7" />
<line x1="30" y1="276.8" x2="166.3" y2="276.8" stroke="#d4d4d4" stroke-width="0.7" />
<line x1="30" y1="303.9" x2="166.3" y2="303.9" stroke="#d4d4d4" stroke-width="0.7" />
<line x1="30" y1="331" x2="166.3" y2="331" stroke="#d4d4d4" stroke-width="0.7" />
<line x1="30" y1="358.2" x2="166.3" y2="358.2" stroke="#d4d4d4" stroke-width="0.7" />
<path d="M38.8,249.7 L44.4,249.7 A5.6,5.6 0 0 0 37.07,244.37 Z" fill="#747474" stroke="#747474" stroke-width="0.3"/>
<path d="M38.8,249.7 L37.07,244.37 A5.6,5.6 0 0 0 37.07,255.03 Z" fill="#747474" stroke="#747474" stroke-width="0.3"/>
<path d="M38.8,249.7 L37.07,255.03 A5.6,5.6 0 0 0 44.4,249.7 Z" fill="#747474" stroke="#747474" stroke-width="0.3"/>
<path d="M37.07,244.37 L39.4,249.7 L37.07,255.03" fill="none" stroke="#1e1e1e" stroke-opacity="0.6" stroke-width="0.5"/>
<circle cx="38.8" cy="249.7" r="5.6" fill="none" stroke="#1e1e1e" stroke-opacity="0.5" stroke-width="0.5"/>
<path d="M68.4,249.7 L74,249.7 A5.6,5.6 0 0 0 66.67,244.37 Z" fill="#747474" stroke="#747474" stroke-width="0.3"/>
<path d="M68.4,249.7 L66.67,244.37 A5.6,5.6 0 0 0 66.67,255.03 Z" fill="#747474" stroke="#747474" stroke-width="0.3"/>
<path d="M68.4,249.7 L66.67,255.03 A5.6,5.6 0 0 0 74,249.7 Z" fill="#747474" stroke="#747474" stroke-width="0.3"/>
<path d="M66.67,244.37 L69,249.7 L66.67,255.03" fill="none" stroke="#1e1e1e" stroke-opacity="0.6" stroke-width="0.5"/>
<circle cx="68.4" cy="249.7" r="5.6" fill="none" stroke="#1e1e1e" stroke-opacity="0.5" stroke-width="0.5"/>
<path d="M98,249.7 L103.6,249.7 A5.6,5.6 0 0 0 96.27,244.37 Z" fill="#a35cff" stroke="#a35cff" stroke-width="0.3"/>
<path d="M98,249.7 L96.27,244.37 A5.6,5.6 0 0 0 96.27,255.03 Z" fill="#a35cff" stroke="#a35cff" stroke-width="0.3"/>
<path d="M98,249.7 L96.27,255.03 A5.6,5.6 0 0 0 103.6,249.7 Z" fill="#a35cff" stroke="#a35cff" stroke-width="0.3"/>
<path d="M96.27,244.37 L98.6,249.7 L96.27,255.03" fill="none" stroke="#1e1e1e" stroke-opacity="0.6" stroke-width="0.5"/>
<circle cx="98" cy="249.7" r="5.6" fill="none" stroke="#1e1e1e" stroke-opacity="0.5" stroke-width="0.5"/>
<path d="M127.6,249.7 L133.2,249.7 A5.6,5.6 0 0 0 125.87,244.37 Z" fill="#9e61ff" stroke="#9e61ff" stroke-width="0.3"/>
<path d="M127.6,249.7 L125.87,244.37 A5.6,5.6 0 0 0 125.87,255.03 Z" fill="#9e61ff" stroke="#9e61ff" stroke-width="0.3"/>
<path d="M127.6,249.7 L125.87,255.03 A5.6,5.6 0 0 0 133.2,249.7 Z" fill="#9e61ff" stroke="#9e61ff" stroke-width="0.3"/>
<path d="M125.87,244.37 L128.2,249.7 L125.87,255.03" fill="none" stroke="#1e1e1e" stroke-opacity="0.6" stroke-width="0.5"/>
<circle cx="127.6" cy="249.7" r="5.6" fill="none" stroke="#1e1e1e" stroke-opacity="0.5" stroke-width="0.5"/>
<path d="M157.1,249.7 L162.7,249.7 A5.6,5.6 0 0 0 155.37,244.37 Z" fill="#708fff" stroke="#708fff" stroke-width="0.3"/>
<path d="M157.1,249.7 L155.37,244.37 A5.6,5.6 0 0 0 155.37,255.03 Z" fill="#708fff" stroke="#708fff" stroke-width="0.3"/>
<path d="M157.1,249.7 L155.37,255.03 A5.6,5.6 0 0 0 162.7,249.7 Z" fill="#708fff" stroke="#708fff" stroke-width="0.3"/>
<path d="M155.37,244.37 L157.7,249.7 L155.37,255.03" fill="none" stroke="#1e1e1e" stroke-opacity="0.6" stroke-width="0.5"/>
<circle cx="157.1" cy="249.7" r="5.6" fill="none" stroke="#1e1e1e" stroke-opacity="0.5" stroke-width="0.5"/>
<path d="M38.8,276.8 L44.4,276.8 A5.6,5.6 0 0 0 37.07,271.47 Z" fill="#747474" stroke="#747474" stroke-width="0.3"/>
<path d="M38.8,276.8 L37.07,271.47 A5.6,5.6 0 0 0 37.07,282.13 Z" fill="#747474" stroke="#747474" stroke-width="0.3"/>
<path d="M38.8,276.8 L37.07,282.13 A5.6,5.6 0 0 0 44.4,276.8 Z" fill="#747474" stroke="#747474" stroke-width="0.3"/>
<path d="M37.07,271.47 L39.4,276.8 L37.07,282.13" fill="none" stroke="#1e1e1e" stroke-opacity="0.6" stroke-width="0.5"/>
<circle cx="38.8" cy="276.8" r="5.6" fill="none" stroke="#1e1e1e" stroke-opacity="0.5" stroke-width="0.5"/>
<path d="M68.4,276.8 L74,276.8 A5.6,5.6 0 0 0 66.67,271.47 Z" fill="#a35cff" stroke="#a35cff" stroke-width="0.3"/>
<path d="M68.4,276.8 L66.67,271.47 A5.6,5.6 0 0 0 66.67,282.13 Z" fill="#a35cff" stroke="#a35cff" stroke-width="0.3"/>
<path d="M68.4,276.8 L66.67,282.13 A5.6,5.6 0 0 0 74,276.8 Z" fill="#a35cff" stroke="#a35cff" stroke-width="0.3"/>
<path d="M66.67,271.47 L69,276.8 L66.67,282.13" fill="none" stroke="#1e1e1e" stroke-opacity="0.6" stroke-width="0.5"/>
<circle cx="68.4" cy="276.8" r="5.6" fill="none" stroke="#1e1e1e" stroke-opacity="0.5" stroke-width="0.5"/>
<path d="M98,276.8 L103.6,276.8 A5.6,5.6 0 0 0 96.27,271.47 Z" fill="#8c73ff" stroke="#8c73ff" stroke-width="0.3"/>
<path d="M98,276.8 L96.27,271.47 A5.6,5.6 0 0 0 96.27,282.13 Z" fill="#8c73ff" stroke="#8c73ff" stroke-width="0.3"/>
<path d="M98,276.8 L96.27,282.13 A5.6,5.6 0 0 0 103.6,276.8 Z" fill="#8c73ff" stroke="#8c73ff" stroke-width="0.3"/>
<path d="M96.27,271.47 L98.6,276.8 L96.27,282.13" fill="none" stroke="#1e1e1e" stroke-opacity="0.6" stroke-width="0.5"/>
<circle cx="98" cy="276.8" r="5.6" fill="none" stroke="#1e1e1e" stroke-opacity="0.5" stroke-width="0.5"/>
<path d="M127.6,276.8 L133.2,276.8 A5.6,5.6 0 0 0 125.87,271.47 Z" fill="#857aff" stroke="#857aff" stroke-width="0.3"/>
<path d="M127.6,276.8 L125.87,271.47 A5.6,5.6 0 0 0 125.87,282.13 Z" fill="#857aff" stroke="#857aff" stroke-width="0.3"/>
<path d="M127.6,276.8 L125.87,282.13 A5.6,5.6 0 0 0 133.2,276.8 Z" fill="#857aff" stroke="#857aff" stroke-width="0.3"/>
<path d="M125.87,271.47 L128.2,276.8 L125.87,282.13" fill="none" stroke="#1e1e1e" stroke-opacity="0.6" stroke-width="0.5"/>
<circle cx="127.6" cy="276.8" r="5.6" fill="none" stroke="#1e1e1e" stroke-opacity="0.5" stroke-width="0.5"/>
<path d="M157.1,276.8 L162.7,276.8 A5.6,5.6 0 0 0 155.37,271.47 Z" fill="#6699ff" stroke="#6699ff" stroke-width="0.3"/>
<path d="M157.1,276.8 L155.37,271.47 A5.6,5.6 0 0 0 155.37,282.13 Z" fill="#6699ff" stroke="#6699ff" stroke-width="0.3"/>
<path d="M157.1,276.8 L155.37,282.13 A5.6,5.6 0 0 0 162.7,276.8 Z" fill="#6699ff" stroke="#6699ff" stroke-width="0.3"/>
<path d="M155.37,271.47 L157.7,276.8 L155.37,282.13" fill="none" stroke="#1e1e1e" stroke-opacity="0.6" stroke-width="0.5"/>
<circle cx="157.1" cy="276.8" r="5.6" fill="none" stroke="#1e1e1e" stroke-opacity="0.5" stroke-width="0.5"/>
<path d="M38.8,303.9 L44.4,303.9 A5.6,5.6 0 0 0 37.07,298.57 Z" fill="#8c73ff" stroke="#8c73ff" stroke-width="0.3"/>
<path d="M38.8,303.9 L37.07,298.57 A5.6,5.6 0 0 0 37.07,309.23 Z" fill="#8c73ff" stroke="#8c73ff" stroke-width="0.3"/>
<path d="M38.8,303.9 L37.07,309.23 A5.6,5.6 0 0 0 44.4,303.9 Z" fill="#8c73ff" stroke="#8c73ff" stroke-width="0.3"/>
<path d="M37.07,298.57 L39.4,303.9 L37.07,309.23" fill="none" stroke="#1e1e1e" stroke-opacity="0.6" stroke-width="0.5"/>
<circle cx="38.8" cy="303.9" r="5.6" fill="none" stroke="#1e1e1e" stroke-opacity="0.5" stroke-width="0.5"/>
<path d="M68.4,303.9 L74,303.9 A5.6,5.6 0 0 0 66.67,298.57 Z" fill="#7a85ff" stroke="#7a85ff" stroke-width="0.3"/>
<path d="M68.4,303.9 L66.67,298.57 A5.6,5.6 0 0 0 66.67,309.23 Z" fill="#7a85ff" stroke="#7a85ff" stroke-width="0.3"/>
<path d="M68.4,303.9 L66.67,309.23 A5.6,5.6 0 0 0 74,303.9 Z" fill="#7a85ff" stroke="#7a85ff" stroke-width="0.3"/>
<path d="M66.67,298.57 L69,303.9 L66.67,309.23" fill="none" stroke="#1e1e1e" stroke-opacity="0.6" stroke-width="0.5"/>
<circle cx="68.4" cy="303.9" r="5.6" fill="none" stroke="#1e1e1e" stroke-opacity="0.5" stroke-width="0.5"/>
<path d="M98,303.9 L103.6,303.9 A5.6,5.6 0 0 0 96.27,298.57 Z" fill="#708fff" stroke="#708fff" stroke-width="0.3"/>
<path d="M98,303.9 L96.27,298.57 A5.6,5.6 0 0 0 96.27,309.23 Z" fill="#708fff" stroke="#708fff" stroke-width="0.3"/>
<path d="M98,303.9 L96.27,309.23 A5.6,5.6 0 0 0 103.6,303.9 Z" fill="#708fff" stroke="#708fff" stroke-width="0.3"/>
<path d="M96.27,298.57 L98.6,303.9 L96.27,309.23" fill="none" stroke="#1e1e1e" stroke-opacity="0.6" stroke-width="0.5"/>
<circle cx="98" cy="303.9" r="5.6" fill="none" stroke="#1e1e1e" stroke-opacity="0.5" stroke-width="0.5"/>
<path d="M127.6,303.9 L133.2,303.9 A5.6,5.6 0 0 0 125.87,298.57 Z" fill="#6699ff" stroke="#6699ff" stroke-width="0.3"/>
<path d="M127.6,303.9 L125.87,298.57 A5.6,5.6 0 0 0 125.87,309.23 Z" fill="#6699ff" stroke="#6699ff" stroke-width="0.3"/>
<path d="M127.6,303.9 L125.87,309.23 A5.6,5.6 0 0 0 133.2,303.9 Z" fill="#6699ff" stroke="#6699ff" stroke-width="0.3"/>
<path d="M125.87,298.57 L128.2,303.9 L125.87,309.23" fill="none" stroke="#1e1e1e" stroke-opacity="0.6" stroke-width="0.5"/>
<circle cx="127.6" cy="303.9" r="5.6" fill="none" stroke="#1e1e1e" stroke-opacity="0.5" stroke-width="0.5"/>
<path d="M157.1,303.9 L162.7,303.9 A5.6,5.6 0 0 0 155.37,298.57 Z" fill="#54abff" stroke="#54abff" stroke-width="0.3"/>
<path d="M157.1,303.9 L155.37,298.57 A5.6,5.6 0 0 0 155.37,309.23 Z" fill="#54abff" stroke="#54abff" stroke-width="0.3"/>
<path d="M157.1,303.9 L155.37,309.23 A5.6,5.6 0 0 0 162.7,303.9 Z" fill="#54abff" stroke="#54abff" stroke-width="0.3"/>
<path d="M155.37,298.57 L157.7,303.9 L155.37,309.23" fill="none" stroke="#1e1e1e" stroke-opacity="0.6" stroke-width="0.5"/>
<circle cx="157.1" cy="303.9" r="5.6" fill="none" stroke="#1e1e1e" stroke-opacity="0.5" stroke-width="0.5"/>
<path d="M38.8,331 L44.4,331 A5.6,5.6 0 0 0 37.07,325.67 Z" fill="#59a6ff" stroke="#59a6ff" stroke-width="0.3"/>
<path d="M38.8,331 L37.07,325.67 A5.6,5.6 0 0 0 37.07,336.33 Z" fill="#59a6ff" stroke="#59a6ff" stroke-width="0.3"/>
<path d="M38.8,331 L37.07,336.33 A5.6,5.6 0 0 0 44.4,331 Z" fill="#59a6ff" stroke="#59a6ff" stroke-width="0.3"/>
<path d="M37.07,325.67 L39.4,331 L37.07,336.33" fill="none" stroke="#1e1e1e" stroke-opacity="0.6" stroke-width="0.5"/>
<circle cx="38.8" cy="331" r="5.6" fill="none" stroke="#1e1e1e" stroke-opacity="0.5" stroke-width="0.5"/>
<path d="M68.4,331 L74,331 A5.6,5.6 0 0 0 66.67,325.67 Z" fill="#54abff" stroke="#54abff" stroke-width="0.3"/>
<path d="M68.4,331 L66.67,325.67 A5.6,5.6 0 0 0 66.67,336.33 Z" fill="#54abff" stroke="#54abff" stroke-width="0.3"/>
<path d="M68.4,331 L66.67,336.33 A5.6,5.6 0 0 0 74,331 Z" fill="#54abff" stroke="#54abff" stroke-width="0.3"/>
<path d="M66.67,325.67 L69,331 L66.67,336.33" fill="none" stroke="#1e1e1e" stroke-opacity="0.6" stroke-width="0.5"/>
<circle cx="68.4" cy="331" r="5.6" fill="none" stroke="#1e1e1e" stroke-opacity="0.5" stroke-width="0.5"/>
<path d="M98,331 L103.6,331 A5.6,5.6 0 0 0 96.27,325.67 Z" fill="#4fb0ff" stroke="#4fb0ff" stroke-width="0.3"/>
<path d="M98,331 L96.27,325.67 A5.6,5.6 0 0 0 96.27,336.33 Z" fill="#4fb0ff" stroke="#4fb0ff" stroke-width="0.3"/>
<path d="M98,331 L96.27,336.33 A5.6,5.6 0 0 0 103.6,331 Z" fill="#4fb0ff" stroke="#4fb0ff" stroke-width="0.3"/>
<path d="M96.27,325.67 L98.6,331 L96.27,336.33" fill="none" stroke="#1e1e1e" stroke-opacity="0.6" stroke-width="0.5"/>
<circle cx="98" cy="331" r="5.6" fill="none" stroke="#1e1e1e" stroke-opacity="0.5" stroke-width="0.5"/>
<path d="M127.6,331 L133.2,331 A5.6,5.6 0 0 0 125.87,325.67 Z" fill="#33ccff" stroke="#33ccff" stroke-width="0.3"/>
<path d="M127.6,331 L125.87,325.67 A5.6,5.6 0 0 0 125.87,336.33 Z" fill="#33ccff" stroke="#33ccff" stroke-width="0.3"/>
<path d="M127.6,331 L125.87,336.33 A5.6,5.6 0 0 0 133.2,331 Z" fill="#33ccff" stroke="#33ccff" stroke-width="0.3"/>
<path d="M125.87,325.67 L128.2,331 L125.87,336.33" fill="none" stroke="#1e1e1e" stroke-opacity="0.6" stroke-width="0.5"/>
<circle cx="127.6" cy="331" r="5.6" fill="none" stroke="#1e1e1e" stroke-opacity="0.5" stroke-width="0.5"/>
<path d="M157.1,331 L162.7,331 A5.6,5.6 0 0 0 155.37,325.67 Z" fill="#33ccff" stroke="#33ccff" stroke-width="0.3"/>
<path d="M157.1,331 L155.37,325.67 A5.6,5.6 0 0 0 155.37,336.33 Z" fill="#33ccff" stroke="#33ccff" stroke-width="0.3"/>
<path d="M157.1,331 L155.37,336.33 A5.6,5.6 0 0 0 162.7,331 Z" fill="#33ccff" stroke="#33ccff" stroke-width="0.3"/>
<path d="M155.37,325.67 L157.7,331 L155.37,336.33" fill="none" stroke="#1e1e1e" stroke-opacity="0.6" stroke-width="0.5"/>
<circle cx="157.1" cy="331" r="5.6" fill="none" stroke="#1e1e1e" stroke-opacity="0.5" stroke-width="0.5"/>
<path d="M38.8,358.2 L44.4,358.2 A5.6,5.6 0 0 0 37.07,352.87 Z" fill="#14ebff" stroke="#14ebff" stroke-width="0.3"/>
<path d="M38.8,358.2 L37.07,352.87 A5.6,5.6 0 0 0 37.07,363.53 Z" fill="#14ebff" stroke="#14ebff" stroke-width="0.3"/>
<path d="M38.8,358.2 L37.07,363.53 A5.6,5.6 0 0 0 44.4,358.2 Z" fill="#14ebff" stroke="#14ebff" stroke-width="0.3"/>
<path d="M37.07,352.87 L39.4,358.2 L37.07,363.53" fill="none" stroke="#1e1e1e" stroke-opacity="0.6" stroke-width="0.5"/>
<circle cx="38.8" cy="358.2" r="5.6" fill="none" stroke="#1e1e1e" stroke-opacity="0.5" stroke-width="0.5"/>
<path d="M68.4,358.2 L74,358.2 A5.6,5.6 0 0 0 66.67,352.87 Z" fill="#14ebff" stroke="#14ebff" stroke-width="0.3"/>
<path d="M68.4,358.2 L66.67,352.87 A5.6,5.6 0 0 0 66.67,363.53 Z" fill="#14ebff" stroke="#14ebff" stroke-width="0.3"/>
<path d="M68.4,358.2 L66.67,363.53 A5.6,5.6 0 0 0 74,358.2 Z" fill="#14ebff" stroke="#14ebff" stroke-width="0.3"/>
<path d="M66.67,352.87 L69,358.2 L66.67,363.53" fill="none" stroke="#1e1e1e" stroke-opacity="0.6" stroke-width="0.5"/>
<circle cx="68.4" cy="358.2" r="5.6" fill="none" stroke="#1e1e1e" stroke-opacity="0.5" stroke-width="0.5"/>
<path d="M98,358.2 L103.6,358.2 A5.6,5.6 0 0 0 96.27,352.87 Z" fill="#14ebff" stroke="#14ebff" stroke-width="0.3"/>
<path d="M98,358.2 L96.27,352.87 A5.6,5.6 0 0 0 96.27,363.53 Z" fill="#14ebff" stroke="#14ebff" stroke-width="0.3"/>
<path d="M98,358.2 L96.27,363.53 A5.6,5.6 0 0 0 103.6,358.2 Z" fill="#14ebff" stroke="#14ebff" stroke-width="0.3"/>
<path d="M96.27,352.87 L98.6,358.2 L96.27,363.53" fill="none" stroke="#1e1e1e" stroke-opacity="0.6" stroke-width="0.5"/>
<circle cx="98" cy="358.2" r="5.6" fill="none" stroke="#1e1e1e" stroke-opacity="0.5" stroke-width="0.5"/>
<path d="M127.6,358.2 L133.2,358.2 A5.6,5.6 0 0 0 125.87,352.87 Z" fill="#12edff" stroke="#12edff" stroke-width="0.3"/>
<path d="M127.6,358.2 L125.87,352.87 A5.6,5.6 0 0 0 125.87,363.53 Z" fill="#12edff" stroke="#12edff" stroke-width="0.3"/>
<path d="M127.6,358.2 L125.87,363.53 A5.6,5.6 0 0 0 133.2,358.2 Z" fill="#12edff" stroke="#12edff" stroke-width="0.3"/>
<path d="M125.87,352.87 L128.2,358.2 L125.87,363.53" fill="none" stroke="#1e1e1e" stroke-opacity="0.6" stroke-width="0.5"/>
<circle cx="127.6" cy="358.2" r="5.6" fill="none" stroke="#1e1e1e" stroke-opacity="0.5" stroke-width="0.5"/>
<path d="M157.1,358.2 L162.7,358.2 A5.6,5.6 0 0 0 155.37,352.87 Z" fill="#0df2ff" stroke="#0df2ff" stroke-width="0.3"/>
<path d="M157.1,358.2 L155.37,352.87 A5.6,5.6 0 0 0 155.37,363.53 Z" fill="#0df2ff" stroke="#0df2ff" stroke-width="0.3"/>
<path d="M157.1,358.2 L155.37,363.53 A5.6,5.6 0 0 0 162.7,358.2 Z" fill="#0df2ff" stroke="#0df2ff" stroke-width="0.3"/>
<path d="M155.37,352.87 L157.7,358.2 L155.37,363.53" fill="none" stroke="#1e1e1e" stroke-opacity="0.6" stroke-width="0.5"/>
<circle cx="157.1" cy="358.2" r="5.6" fill="none" stroke="#1e1e1e" stroke-opacity="0.5" stroke-width="0.5"/>
<text x="65.8" y="270.5" font-size="6.0" font-family="Liberation Serif" fill="#3a3a3a" font-style="italic">p</text>
<text x="68.9" y="271.4" font-size="4.0" font-family="Liberation Serif" fill="#3a3a3a">1</text>
<text x="95.4" y="297.6" font-size="6.0" font-family="Liberation Serif" fill="#3a3a3a" font-style="italic">p</text>
<text x="98.5" y="298.5" font-size="4.0" font-family="Liberation Serif" fill="#3a3a3a">2</text>
<text x="125" y="324.7" font-size="6.0" font-family="Liberation Serif" fill="#3a3a3a" font-style="italic">p</text>
<text x="128.1" y="325.6" font-size="4.0" font-family="Liberation Serif" fill="#3a3a3a">3</text>
<rect x="30" y="241.3" width="136.3" height="126.7" fill="none" stroke="#555" stroke-width="0.6"/>
<line x1="38.8" y1="368" x2="38.8" y2="369.8" stroke="#555" stroke-width="0.6" />
<text x="38.8" y="376.2" font-size="5.8" font-family="Liberation Sans" fill="#262626" text-anchor="middle" textLength="7" lengthAdjust="spacingAndGlyphs">81</text>
<line x1="68.4" y1="368" x2="68.4" y2="369.8" stroke="#555" stroke-width="0.6" />
<text x="68.4" y="376.2" font-size="5.8" font-family="Liberation Sans" fill="#262626" text-anchor="middle" textLength="7" lengthAdjust="spacingAndGlyphs">83</text>
<line x1="98" y1="368" x2="98" y2="369.8" stroke="#555" stroke-width="0.6" />
<text x="98" y="376.2" font-size="5.8" font-family="Liberation Sans" fill="#262626" text-anchor="middle" textLength="7" lengthAdjust="spacingAndGlyphs">85</text>
<line x1="127.6" y1="368" x2="127.6" y2="369.8" stroke="#555" stroke-width="0.6" />
<text x="127.6" y="376.2" font-size="5.8" font-family="Liberation Sans" fill="#262626" text-anchor="middle" textLength="7" lengthAdjust="spacingAndGlyphs">87</text>
<line x1="157.1" y1="368" x2="157.1" y2="369.8" stroke="#555" stroke-width="0.6" />
<text x="157.1" y="376.2" font-size="5.8" font-family="Liberation Sans" fill="#262626" text-anchor="middle" textLength="7" lengthAdjust="spacingAndGlyphs">89</text>
<line x1="28.2" y1="249.7" x2="30" y2="249.7" stroke="#555" stroke-width="0.6" />
<text x="26.6" y="251.8" font-size="5.8" font-family="Liberation Sans" fill="#262626" text-anchor="end" textLength="10.2" lengthAdjust="spacingAndGlyphs">250</text>
<line x1="28.2" y1="276.8" x2="30" y2="276.8" stroke="#555" stroke-width="0.6" />
<text x="26.6" y="278.9" font-size="5.8" font-family="Liberation Sans" fill="#262626" text-anchor="end" textLength="10.2" lengthAdjust="spacingAndGlyphs">200</text>
<line x1="28.2" y1="303.9" x2="30" y2="303.9" stroke="#555" stroke-width="0.6" />
<text x="26.6" y="306" font-size="5.8" font-family="Liberation Sans" fill="#262626" text-anchor="end" textLength="10.2" lengthAdjust="spacingAndGlyphs">150</text>
<line x1="28.2" y1="331" x2="30" y2="331" stroke="#555" stroke-width="0.6" />
<text x="26.6" y="333.1" font-size="5.8" font-family="Liberation Sans" fill="#262626" text-anchor="end" textLength="10.2" lengthAdjust="spacingAndGlyphs">100</text>
<line x1="28.2" y1="358.2" x2="30" y2="358.2" stroke="#555" stroke-width="0.6" />
<text x="26.6" y="360.3" font-size="5.8" font-family="Liberation Sans" fill="#262626" text-anchor="end" textLength="6.8" lengthAdjust="spacingAndGlyphs">50</text>
<text x="93.15" y="383" font-size="5.8" font-family="Liberation Sans" fill="#262626">α[</text>
<text x="98.35" y="382.2" font-size="4.2" font-family="Liberation Sans" fill="#262626">°</text>
<text x="100.95" y="383" font-size="5.8" font-family="Liberation Sans" fill="#262626">]</text>
<text transform="translate(12.7,304.65) rotate(-90)" font-family="Liberation Sans" font-size="5.8" fill="#262626" text-anchor="middle" textLength="27" lengthAdjust="spacingAndGlyphs">E/σ<tspan font-size="4.0" dy="1.3">max</tspan><tspan dy="-1.3"> [-]</tspan></text>
<rect x="175" y="241.3" width="25.2" height="126.2" fill="url(#g175)" stroke="#555" stroke-width="0.6"/>
<line x1="200.2" y1="358.7" x2="202" y2="358.7" stroke="#555" stroke-width="0.6" />
<text x="203.4" y="360.8" font-size="5.8" font-family="Liberation Sans" fill="#262626" textLength="9.9" lengthAdjust="spacingAndGlyphs">150</text>
<line x1="200.2" y1="342.65" x2="202" y2="342.65" stroke="#555" stroke-width="0.6" />
<text x="203.4" y="344.75" font-size="5.8" font-family="Liberation Sans" fill="#262626" textLength="9.9" lengthAdjust="spacingAndGlyphs">200</text>
<line x1="200.2" y1="326.59" x2="202" y2="326.59" stroke="#555" stroke-width="0.6" />
<text x="203.4" y="328.69" font-size="5.8" font-family="Liberation Sans" fill="#262626" textLength="9.9" lengthAdjust="spacingAndGlyphs">250</text>
<line x1="200.2" y1="310.53" x2="202" y2="310.53" stroke="#555" stroke-width="0.6" />
<text x="203.4" y="312.63" font-size="5.8" font-family="Liberation Sans" fill="#262626" textLength="9.9" lengthAdjust="spacingAndGlyphs">300</text>
<line x1="200.2" y1="294.48" x2="202" y2="294.48" stroke="#555" stroke-width="0.6" />
<text x="203.4" y="296.58" font-size="5.8" font-family="Liberation Sans" fill="#262626" textLength="9.9" lengthAdjust="spacingAndGlyphs">350</text>
<line x1="200.2" y1="278.42" x2="202" y2="278.42" stroke="#555" stroke-width="0.6" />
<text x="203.4" y="280.52" font-size="5.8" font-family="Liberation Sans" fill="#262626" textLength="9.9" lengthAdjust="spacingAndGlyphs">400</text>
<line x1="200.2" y1="262.37" x2="202" y2="262.37" stroke="#555" stroke-width="0.6" />
<text x="203.4" y="264.47" font-size="5.8" font-family="Liberation Sans" fill="#262626" textLength="9.9" lengthAdjust="spacingAndGlyphs">450</text>
<line x1="200.2" y1="246.31" x2="202" y2="246.31" stroke="#555" stroke-width="0.6" />
<text x="203.4" y="248.41" font-size="5.8" font-family="Liberation Sans" fill="#262626" textLength="9.9" lengthAdjust="spacingAndGlyphs">500</text>
<text transform="translate(220.8,304.4) rotate(-90)" font-family="Liberation Sans" font-size="5.8" fill="#262626" text-anchor="middle" textLength="42" lengthAdjust="spacingAndGlyphs">slope [kN/mm]</text>
<line x1="265.8" y1="239.7" x2="265.8" y2="367.6" stroke="#d4d4d4" stroke-width="0.7" />
<line x1="295.3" y1="239.7" x2="295.3" y2="367.6" stroke="#d4d4d4" stroke-width="0.7" />
<line x1="325" y1="239.7" x2="325" y2="367.6" stroke="#d4d4d4" stroke-width="0.7" />
<line x1="355" y1="239.7" x2="355" y2="367.6" stroke="#d4d4d4" stroke-width="0.7" />
<line x1="384.6" y1="239.7" x2="384.6" y2="367.6" stroke="#d4d4d4" stroke-width="0.7" />
<line x1="257" y1="248.3" x2="394" y2="248.3" stroke="#d4d4d4" stroke-width="0.7" />
<line x1="257" y1="275.7" x2="394" y2="275.7" stroke="#d4d4d4" stroke-width="0.7" />
<line x1="257" y1="303" x2="394" y2="303" stroke="#d4d4d4" stroke-width="0.7" />
<line x1="257" y1="330.3" x2="394" y2="330.3" stroke="#d4d4d4" stroke-width="0.7" />
<line x1="257" y1="357.7" x2="394" y2="357.7" stroke="#d4d4d4" stroke-width="0.7" />
<path d="M265.8,248.3 L271.4,248.3 A5.6,5.6 0 0 0 264.07,242.97 Z" fill="#747474" stroke="#747474" stroke-width="0.3"/>
<path d="M265.8,248.3 L264.07,242.97 A5.6,5.6 0 0 0 264.07,253.63 Z" fill="#747474" stroke="#747474" stroke-width="0.3"/>
<path d="M265.8,248.3 L264.07,253.63 A5.6,5.6 0 0 0 271.4,248.3 Z" fill="#747474" stroke="#747474" stroke-width="0.3"/>
<path d="M264.07,242.97 L266.4,248.3 L264.07,253.63" fill="none" stroke="#1e1e1e" stroke-opacity="0.6" stroke-width="0.5"/>
<circle cx="265.8" cy="248.3" r="5.6" fill="none" stroke="#1e1e1e" stroke-opacity="0.5" stroke-width="0.5"/>
<path d="M295.3,248.3 L300.9,248.3 A5.6,5.6 0 0 0 293.57,242.97 Z" fill="#747474" stroke="#747474" stroke-width="0.3"/>
<path d="M295.3,248.3 L293.57,242.97 A5.6,5.6 0 0 0 293.57,253.63 Z" fill="#747474" stroke="#747474" stroke-width="0.3"/>
<path d="M295.3,248.3 L293.57,253.63 A5.6,5.6 0 0 0 300.9,248.3 Z" fill="#747474" stroke="#747474" stroke-width="0.3"/>
<path d="M293.57,242.97 L295.9,248.3 L293.57,253.63" fill="none" stroke="#1e1e1e" stroke-opacity="0.6" stroke-width="0.5"/>
<circle cx="295.3" cy="248.3" r="5.6" fill="none" stroke="#1e1e1e" stroke-opacity="0.5" stroke-width="0.5"/>
<path d="M325,248.3 L330.6,248.3 A5.6,5.6 0 0 0 323.27,242.97 Z" fill="#b24dff" stroke="#b24dff" stroke-width="0.3"/>
<path d="M325,248.3 L323.27,242.97 A5.6,5.6 0 0 0 323.27,253.63 Z" fill="#b24dff" stroke="#b24dff" stroke-width="0.3"/>
<path d="M325,248.3 L323.27,253.63 A5.6,5.6 0 0 0 330.6,248.3 Z" fill="#f708ff" stroke="#f708ff" stroke-width="0.3"/>
<path d="M323.27,242.97 L325.6,248.3 L323.27,253.63" fill="none" stroke="#1e1e1e" stroke-opacity="0.6" stroke-width="0.5"/>
<circle cx="325" cy="248.3" r="5.6" fill="none" stroke="#1e1e1e" stroke-opacity="0.5" stroke-width="0.5"/>
<path d="M355,248.3 L360.6,248.3 A5.6,5.6 0 0 0 353.27,242.97 Z" fill="#6b94ff" stroke="#6b94ff" stroke-width="0.3"/>
<path d="M355,248.3 L353.27,242.97 A5.6,5.6 0 0 0 353.27,253.63 Z" fill="#8c73ff" stroke="#8c73ff" stroke-width="0.3"/>
<path d="M355,248.3 L353.27,253.63 A5.6,5.6 0 0 0 360.6,248.3 Z" fill="#6b94ff" stroke="#6b94ff" stroke-width="0.3"/>
<path d="M353.27,242.97 L355.6,248.3 L353.27,253.63" fill="none" stroke="#1e1e1e" stroke-opacity="0.6" stroke-width="0.5"/>
<circle cx="355" cy="248.3" r="5.6" fill="none" stroke="#1e1e1e" stroke-opacity="0.5" stroke-width="0.5"/>
<path d="M384.6,248.3 L390.2,248.3 A5.6,5.6 0 0 0 382.87,242.97 Z" fill="#0df2ff" stroke="#0df2ff" stroke-width="0.3"/>
<path d="M384.6,248.3 L382.87,242.97 A5.6,5.6 0 0 0 382.87,253.63 Z" fill="#0df2ff" stroke="#0df2ff" stroke-width="0.3"/>
<path d="M384.6,248.3 L382.87,253.63 A5.6,5.6 0 0 0 390.2,248.3 Z" fill="#0df2ff" stroke="#0df2ff" stroke-width="0.3"/>
<path d="M382.87,242.97 L385.2,248.3 L382.87,253.63" fill="none" stroke="#1e1e1e" stroke-opacity="0.6" stroke-width="0.5"/>
<circle cx="384.6" cy="248.3" r="5.6" fill="none" stroke="#1e1e1e" stroke-opacity="0.5" stroke-width="0.5"/>
<path d="M265.8,275.7 L271.4,275.7 A5.6,5.6 0 0 0 264.07,270.37 Z" fill="#747474" stroke="#747474" stroke-width="0.3"/>
<path d="M265.8,275.7 L264.07,270.37 A5.6,5.6 0 0 0 264.07,281.03 Z" fill="#747474" stroke="#747474" stroke-width="0.3"/>
<path d="M265.8,275.7 L264.07,281.03 A5.6,5.6 0 0 0 271.4,275.7 Z" fill="#747474" stroke="#747474" stroke-width="0.3"/>
<path d="M264.07,270.37 L266.4,275.7 L264.07,281.03" fill="none" stroke="#1e1e1e" stroke-opacity="0.6" stroke-width="0.5"/>
<circle cx="265.8" cy="275.7" r="5.6" fill="none" stroke="#1e1e1e" stroke-opacity="0.5" stroke-width="0.5"/>
<path d="M295.3,275.7 L300.9,275.7 A5.6,5.6 0 0 0 293.57,270.37 Z" fill="#f20dff" stroke="#f20dff" stroke-width="0.3"/>
<path d="M295.3,275.7 L293.57,270.37 A5.6,5.6 0 0 0 293.57,281.03 Z" fill="#e619ff" stroke="#e619ff" stroke-width="0.3"/>
<path d="M295.3,275.7 L293.57,281.03 A5.6,5.6 0 0 0 300.9,275.7 Z" fill="#f20dff" stroke="#f20dff" stroke-width="0.3"/>
<path d="M293.57,270.37 L295.9,275.7 L293.57,281.03" fill="none" stroke="#1e1e1e" stroke-opacity="0.6" stroke-width="0.5"/>
<circle cx="295.3" cy="275.7" r="5.6" fill="none" stroke="#1e1e1e" stroke-opacity="0.5" stroke-width="0.5"/>
<path d="M325,275.7 L330.6,275.7 A5.6,5.6 0 0 0 323.27,270.37 Z" fill="#9966ff" stroke="#9966ff" stroke-width="0.3"/>
<path d="M325,275.7 L323.27,270.37 A5.6,5.6 0 0 0 323.27,281.03 Z" fill="#9966ff" stroke="#9966ff" stroke-width="0.3"/>
<path d="M325,275.7 L323.27,281.03 A5.6,5.6 0 0 0 330.6,275.7 Z" fill="#9966ff" stroke="#9966ff" stroke-width="0.3"/>
<path d="M323.27,270.37 L325.6,275.7 L323.27,281.03" fill="none" stroke="#1e1e1e" stroke-opacity="0.6" stroke-width="0.5"/>
<circle cx="325" cy="275.7" r="5.6" fill="none" stroke="#1e1e1e" stroke-opacity="0.5" stroke-width="0.5"/>
<path d="M355,275.7 L360.6,275.7 A5.6,5.6 0 0 0 353.27,270.37 Z" fill="#619eff" stroke="#619eff" stroke-width="0.3"/>
<path d="M355,275.7 L353.27,270.37 A5.6,5.6 0 0 0 353.27,281.03 Z" fill="#54abff" stroke="#54abff" stroke-width="0.3"/>
<path d="M355,275.7 L353.27,281.03 A5.6,5.6 0 0 0 360.6,275.7 Z" fill="#619eff" stroke="#619eff" stroke-width="0.3"/>
<path d="M353.27,270.37 L355.6,275.7 L353.27,281.03" fill="none" stroke="#1e1e1e" stroke-opacity="0.6" stroke-width="0.5"/>
<circle cx="355" cy="275.7" r="5.6" fill="none" stroke="#1e1e1e" stroke-opacity="0.5" stroke-width="0.5"/>
<path d="M384.6,275.7 L390.2,275.7 A5.6,5.6 0 0 0 382.87,270.37 Z" fill="#0df2ff" stroke="#0df2ff" stroke-width="0.3"/>
<path d="M384.6,275.7 L382.87,270.37 A5.6,5.6 0 0 0 382.87,281.03 Z" fill="#0df2ff" stroke="#0df2ff" stroke-width="0.3"/>
<path d="M384.6,275.7 L382.87,281.03 A5.6,5.6 0 0 0 390.2,275.7 Z" fill="#0df2ff" stroke="#0df2ff" stroke-width="0.3"/>
<path d="M382.87,270.37 L385.2,275.7 L382.87,281.03" fill="none" stroke="#1e1e1e" stroke-opacity="0.6" stroke-width="0.5"/>
<circle cx="384.6" cy="275.7" r="5.6" fill="none" stroke="#1e1e1e" stroke-opacity="0.5" stroke-width="0.5"/>
<path d="M265.8,303 L271.4,303 A5.6,5.6 0 0 0 264.07,297.67 Z" fill="#d926ff" stroke="#d926ff" stroke-width="0.3"/>
<path d="M265.8,303 L264.07,297.67 A5.6,5.6 0 0 0 264.07,308.33 Z" fill="#bf40ff" stroke="#bf40ff" stroke-width="0.3"/>
<path d="M265.8,303 L264.07,308.33 A5.6,5.6 0 0 0 271.4,303 Z" fill="#e619ff" stroke="#e619ff" stroke-width="0.3"/>
<path d="M264.07,297.67 L266.4,303 L264.07,308.33" fill="none" stroke="#1e1e1e" stroke-opacity="0.6" stroke-width="0.5"/>
<circle cx="265.8" cy="303" r="5.6" fill="none" stroke="#1e1e1e" stroke-opacity="0.5" stroke-width="0.5"/>
<path d="M295.3,303 L300.9,303 A5.6,5.6 0 0 0 293.57,297.67 Z" fill="#9966ff" stroke="#9966ff" stroke-width="0.3"/>
<path d="M295.3,303 L293.57,297.67 A5.6,5.6 0 0 0 293.57,308.33 Z" fill="#9966ff" stroke="#9966ff" stroke-width="0.3"/>
<path d="M295.3,303 L293.57,308.33 A5.6,5.6 0 0 0 300.9,303 Z" fill="#d926ff" stroke="#d926ff" stroke-width="0.3"/>
<path d="M293.57,297.67 L295.9,303 L293.57,308.33" fill="none" stroke="#1e1e1e" stroke-opacity="0.6" stroke-width="0.5"/>
<circle cx="295.3" cy="303" r="5.6" fill="none" stroke="#1e1e1e" stroke-opacity="0.5" stroke-width="0.5"/>
<path d="M325,303 L330.6,303 A5.6,5.6 0 0 0 323.27,297.67 Z" fill="#6b94ff" stroke="#6b94ff" stroke-width="0.3"/>
<path d="M325,303 L323.27,297.67 A5.6,5.6 0 0 0 323.27,308.33 Z" fill="#6b94ff" stroke="#6b94ff" stroke-width="0.3"/>
<path d="M325,303 L323.27,308.33 A5.6,5.6 0 0 0 330.6,303 Z" fill="#6b94ff" stroke="#6b94ff" stroke-width="0.3"/>
<path d="M323.27,297.67 L325.6,303 L323.27,308.33" fill="none" stroke="#1e1e1e" stroke-opacity="0.6" stroke-width="0.5"/>
<circle cx="325" cy="303" r="5.6" fill="none" stroke="#1e1e1e" stroke-opacity="0.5" stroke-width="0.5"/>
<path d="M355,303 L360.6,303 A5.6,5.6 0 0 0 353.27,297.67 Z" fill="#33ccff" stroke="#33ccff" stroke-width="0.3"/>
<path d="M355,303 L353.27,297.67 A5.6,5.6 0 0 0 353.27,308.33 Z" fill="#33ccff" stroke="#33ccff" stroke-width="0.3"/>
<path d="M355,303 L353.27,308.33 A5.6,5.6 0 0 0 360.6,303 Z" fill="#33ccff" stroke="#33ccff" stroke-width="0.3"/>
<path d="M353.27,297.67 L355.6,303 L353.27,308.33" fill="none" stroke="#1e1e1e" stroke-opacity="0.6" stroke-width="0.5"/>
<circle cx="355" cy="303" r="5.6" fill="none" stroke="#1e1e1e" stroke-opacity="0.5" stroke-width="0.5"/>
<path d="M384.6,303 L390.2,303 A5.6,5.6 0 0 0 382.87,297.67 Z" fill="#0df2ff" stroke="#0df2ff" stroke-width="0.3"/>
<path d="M384.6,303 L382.87,297.67 A5.6,5.6 0 0 0 382.87,308.33 Z" fill="#0df2ff" stroke="#0df2ff" stroke-width="0.3"/>
<path d="M384.6,303 L382.87,308.33 A5.6,5.6 0 0 0 390.2,303 Z" fill="#0df2ff" stroke="#0df2ff" stroke-width="0.3"/>
<path d="M382.87,297.67 L385.2,303 L382.87,308.33" fill="none" stroke="#1e1e1e" stroke-opacity="0.6" stroke-width="0.5"/>
<circle cx="384.6" cy="303" r="5.6" fill="none" stroke="#1e1e1e" stroke-opacity="0.5" stroke-width="0.5"/>
<path d="M265.8,330.3 L271.4,330.3 A5.6,5.6 0 0 0 264.07,324.97 Z" fill="#8c73ff" stroke="#8c73ff" stroke-width="0.3"/>
<path d="M265.8,330.3 L264.07,324.97 A5.6,5.6 0 0 0 264.07,335.63 Z" fill="#9966ff" stroke="#9966ff" stroke-width="0.3"/>
<path d="M265.8,330.3 L264.07,335.63 A5.6,5.6 0 0 0 271.4,330.3 Z" fill="#8c73ff" stroke="#8c73ff" stroke-width="0.3"/>
<path d="M264.07,324.97 L266.4,330.3 L264.07,335.63" fill="none" stroke="#1e1e1e" stroke-opacity="0.6" stroke-width="0.5"/>
<circle cx="265.8" cy="330.3" r="5.6" fill="none" stroke="#1e1e1e" stroke-opacity="0.5" stroke-width="0.5"/>
<path d="M295.3,330.3 L300.9,330.3 A5.6,5.6 0 0 0 293.57,324.97 Z" fill="#619eff" stroke="#619eff" stroke-width="0.3"/>
<path d="M295.3,330.3 L293.57,324.97 A5.6,5.6 0 0 0 293.57,335.63 Z" fill="#619eff" stroke="#619eff" stroke-width="0.3"/>
<path d="M295.3,330.3 L293.57,335.63 A5.6,5.6 0 0 0 300.9,330.3 Z" fill="#619eff" stroke="#619eff" stroke-width="0.3"/>
<path d="M293.57,324.97 L295.9,330.3 L293.57,335.63" fill="none" stroke="#1e1e1e" stroke-opacity="0.6" stroke-width="0.5"/>
<circle cx="295.3" cy="330.3" r="5.6" fill="none" stroke="#1e1e1e" stroke-opacity="0.5" stroke-width="0.5"/>
<path d="M325,330.3 L330.6,330.3 A5.6,5.6 0 0 0 323.27,324.97 Z" fill="#40bfff" stroke="#40bfff" stroke-width="0.3"/>
<path d="M325,330.3 L323.27,324.97 A5.6,5.6 0 0 0 323.27,335.63 Z" fill="#40bfff" stroke="#40bfff" stroke-width="0.3"/>
<path d="M325,330.3 L323.27,335.63 A5.6,5.6 0 0 0 330.6,330.3 Z" fill="#40bfff" stroke="#40bfff" stroke-width="0.3"/>
<path d="M323.27,324.97 L325.6,330.3 L323.27,335.63" fill="none" stroke="#1e1e1e" stroke-opacity="0.6" stroke-width="0.5"/>
<circle cx="325" cy="330.3" r="5.6" fill="none" stroke="#1e1e1e" stroke-opacity="0.5" stroke-width="0.5"/>
<path d="M355,330.3 L360.6,330.3 A5.6,5.6 0 0 0 353.27,324.97 Z" fill="#1ae6ff" stroke="#1ae6ff" stroke-width="0.3"/>
<path d="M355,330.3 L353.27,324.97 A5.6,5.6 0 0 0 353.27,335.63 Z" fill="#1ae6ff" stroke="#1ae6ff" stroke-width="0.3"/>
<path d="M355,330.3 L353.27,335.63 A5.6,5.6 0 0 0 360.6,330.3 Z" fill="#1ae6ff" stroke="#1ae6ff" stroke-width="0.3"/>
<path d="M353.27,324.97 L355.6,330.3 L353.27,335.63" fill="none" stroke="#1e1e1e" stroke-opacity="0.6" stroke-width="0.5"/>
<circle cx="355" cy="330.3" r="5.6" fill="none" stroke="#1e1e1e" stroke-opacity="0.5" stroke-width="0.5"/>
<path d="M384.6,330.3 L390.2,330.3 A5.6,5.6 0 0 0 382.87,324.97 Z" fill="#0df2ff" stroke="#0df2ff" stroke-width="0.3"/>
<path d="M384.6,330.3 L382.87,324.97 A5.6,5.6 0 0 0 382.87,335.63 Z" fill="#0df2ff" stroke="#0df2ff" stroke-width="0.3"/>
<path d="M384.6,330.3 L382.87,335.63 A5.6,5.6 0 0 0 390.2,330.3 Z" fill="#0df2ff" stroke="#0df2ff" stroke-width="0.3"/>
<path d="M382.87,324.97 L385.2,330.3 L382.87,335.63" fill="none" stroke="#1e1e1e" stroke-opacity="0.6" stroke-width="0.5"/>
<circle cx="384.6" cy="330.3" r="5.6" fill="none" stroke="#1e1e1e" stroke-opacity="0.5" stroke-width="0.5"/>
<path d="M265.8,357.7 L271.4,357.7 A5.6,5.6 0 0 0 264.07,352.37 Z" fill="#26d9ff" stroke="#26d9ff" stroke-width="0.3"/>
<path d="M265.8,357.7 L264.07,352.37 A5.6,5.6 0 0 0 264.07,363.03 Z" fill="#26d9ff" stroke="#26d9ff" stroke-width="0.3"/>
<path d="M265.8,357.7 L264.07,363.03 A5.6,5.6 0 0 0 271.4,357.7 Z" fill="#26d9ff" stroke="#26d9ff" stroke-width="0.3"/>
<path d="M264.07,352.37 L266.4,357.7 L264.07,363.03" fill="none" stroke="#1e1e1e" stroke-opacity="0.6" stroke-width="0.5"/>
<circle cx="265.8" cy="357.7" r="5.6" fill="none" stroke="#1e1e1e" stroke-opacity="0.5" stroke-width="0.5"/>
<path d="M295.3,357.7 L300.9,357.7 A5.6,5.6 0 0 0 293.57,352.37 Z" fill="#1fe0ff" stroke="#1fe0ff" stroke-width="0.3"/>
<path d="M295.3,357.7 L293.57,352.37 A5.6,5.6 0 0 0 293.57,363.03 Z" fill="#1fe0ff" stroke="#1fe0ff" stroke-width="0.3"/>
<path d="M295.3,357.7 L293.57,363.03 A5.6,5.6 0 0 0 300.9,357.7 Z" fill="#1fe0ff" stroke="#1fe0ff" stroke-width="0.3"/>
<path d="M293.57,352.37 L295.9,357.7 L293.57,363.03" fill="none" stroke="#1e1e1e" stroke-opacity="0.6" stroke-width="0.5"/>
<circle cx="295.3" cy="357.7" r="5.6" fill="none" stroke="#1e1e1e" stroke-opacity="0.5" stroke-width="0.5"/>
<path d="M325,357.7 L330.6,357.7 A5.6,5.6 0 0 0 323.27,352.37 Z" fill="#1ae6ff" stroke="#1ae6ff" stroke-width="0.3"/>
<path d="M325,357.7 L323.27,352.37 A5.6,5.6 0 0 0 323.27,363.03 Z" fill="#1ae6ff" stroke="#1ae6ff" stroke-width="0.3"/>
<path d="M325,357.7 L323.27,363.03 A5.6,5.6 0 0 0 330.6,357.7 Z" fill="#1ae6ff" stroke="#1ae6ff" stroke-width="0.3"/>
<path d="M323.27,352.37 L325.6,357.7 L323.27,363.03" fill="none" stroke="#1e1e1e" stroke-opacity="0.6" stroke-width="0.5"/>
<circle cx="325" cy="357.7" r="5.6" fill="none" stroke="#1e1e1e" stroke-opacity="0.5" stroke-width="0.5"/>
<path d="M355,357.7 L360.6,357.7 A5.6,5.6 0 0 0 353.27,352.37 Z" fill="#0ff0ff" stroke="#0ff0ff" stroke-width="0.3"/>
<path d="M355,357.7 L353.27,352.37 A5.6,5.6 0 0 0 353.27,363.03 Z" fill="#0ff0ff" stroke="#0ff0ff" stroke-width="0.3"/>
<path d="M355,357.7 L353.27,363.03 A5.6,5.6 0 0 0 360.6,357.7 Z" fill="#0ff0ff" stroke="#0ff0ff" stroke-width="0.3"/>
<path d="M353.27,352.37 L355.6,357.7 L353.27,363.03" fill="none" stroke="#1e1e1e" stroke-opacity="0.6" stroke-width="0.5"/>
<circle cx="355" cy="357.7" r="5.6" fill="none" stroke="#1e1e1e" stroke-opacity="0.5" stroke-width="0.5"/>
<path d="M384.6,357.7 L390.2,357.7 A5.6,5.6 0 0 0 382.87,352.37 Z" fill="#0ff0ff" stroke="#0ff0ff" stroke-width="0.3"/>
<path d="M384.6,357.7 L382.87,352.37 A5.6,5.6 0 0 0 382.87,363.03 Z" fill="#0ff0ff" stroke="#0ff0ff" stroke-width="0.3"/>
<path d="M384.6,357.7 L382.87,363.03 A5.6,5.6 0 0 0 390.2,357.7 Z" fill="#0ff0ff" stroke="#0ff0ff" stroke-width="0.3"/>
<path d="M382.87,352.37 L385.2,357.7 L382.87,363.03" fill="none" stroke="#1e1e1e" stroke-opacity="0.6" stroke-width="0.5"/>
<circle cx="384.6" cy="357.7" r="5.6" fill="none" stroke="#1e1e1e" stroke-opacity="0.5" stroke-width="0.5"/>
<text x="292.7" y="269.4" font-size="6.0" font-family="Liberation Serif" fill="#3a3a3a" font-style="italic">p</text>
<text x="295.8" y="270.3" font-size="4.0" font-family="Liberation Serif" fill="#3a3a3a">1</text>
<text x="322.4" y="296.7" font-size="6.0" font-family="Liberation Serif" fill="#3a3a3a" font-style="italic">p</text>
<text x="325.5" y="297.6" font-size="4.0" font-family="Liberation Serif" fill="#3a3a3a">2</text>
<text x="352.4" y="324" font-size="6.0" font-family="Liberation Serif" fill="#3a3a3a" font-style="italic">p</text>
<text x="355.5" y="324.9" font-size="4.0" font-family="Liberation Serif" fill="#3a3a3a">3</text>
<rect x="257" y="239.7" width="137" height="127.9" fill="none" stroke="#555" stroke-width="0.6"/>
<line x1="265.8" y1="367.6" x2="265.8" y2="369.4" stroke="#555" stroke-width="0.6" />
<text x="265.8" y="375.8" font-size="5.8" font-family="Liberation Sans" fill="#262626" text-anchor="middle" textLength="7" lengthAdjust="spacingAndGlyphs">81</text>
<line x1="295.3" y1="367.6" x2="295.3" y2="369.4" stroke="#555" stroke-width="0.6" />
<text x="295.3" y="375.8" font-size="5.8" font-family="Liberation Sans" fill="#262626" text-anchor="middle" textLength="7" lengthAdjust="spacingAndGlyphs">83</text>
<line x1="325" y1="367.6" x2="325" y2="369.4" stroke="#555" stroke-width="0.6" />
<text x="325" y="375.8" font-size="5.8" font-family="Liberation Sans" fill="#262626" text-anchor="middle" textLength="7" lengthAdjust="spacingAndGlyphs">85</text>
<line x1="355" y1="367.6" x2="355" y2="369.4" stroke="#555" stroke-width="0.6" />
<text x="355" y="375.8" font-size="5.8" font-family="Liberation Sans" fill="#262626" text-anchor="middle" textLength="7" lengthAdjust="spacingAndGlyphs">87</text>
<line x1="384.6" y1="367.6" x2="384.6" y2="369.4" stroke="#555" stroke-width="0.6" />
<text x="384.6" y="375.8" font-size="5.8" font-family="Liberation Sans" fill="#262626" text-anchor="middle" textLength="7" lengthAdjust="spacingAndGlyphs">89</text>
<line x1="255.2" y1="248.3" x2="257" y2="248.3" stroke="#555" stroke-width="0.6" />
<text x="253.6" y="250.4" font-size="5.8" font-family="Liberation Sans" fill="#262626" text-anchor="end" textLength="10.2" lengthAdjust="spacingAndGlyphs">250</text>
<line x1="255.2" y1="275.7" x2="257" y2="275.7" stroke="#555" stroke-width="0.6" />
<text x="253.6" y="277.8" font-size="5.8" font-family="Liberation Sans" fill="#262626" text-anchor="end" textLength="10.2" lengthAdjust="spacingAndGlyphs">200</text>
<line x1="255.2" y1="303" x2="257" y2="303" stroke="#555" stroke-width="0.6" />
<text x="253.6" y="305.1" font-size="5.8" font-family="Liberation Sans" fill="#262626" text-anchor="end" textLength="10.2" lengthAdjust="spacingAndGlyphs">150</text>
<line x1="255.2" y1="330.3" x2="257" y2="330.3" stroke="#555" stroke-width="0.6" />
<text x="253.6" y="332.4" font-size="5.8" font-family="Liberation Sans" fill="#262626" text-anchor="end" textLength="10.2" lengthAdjust="spacingAndGlyphs">100</text>
<line x1="255.2" y1="357.7" x2="257" y2="357.7" stroke="#555" stroke-width="0.6" />
<text x="253.6" y="359.8" font-size="5.8" font-family="Liberation Sans" fill="#262626" text-anchor="end" textLength="6.8" lengthAdjust="spacingAndGlyphs">50</text>
<text x="320.5" y="382.6" font-size="5.8" font-family="Liberation Sans" fill="#262626">α[</text>
<text x="325.7" y="381.8" font-size="4.2" font-family="Liberation Sans" fill="#262626">°</text>
<text x="328.3" y="382.6" font-size="5.8" font-family="Liberation Sans" fill="#262626">]</text>
<text transform="translate(237.2,303.65) rotate(-90)" font-family="Liberation Sans" font-size="5.8" fill="#262626" text-anchor="middle" textLength="27" lengthAdjust="spacingAndGlyphs">E/σ<tspan font-size="4.0" dy="1.3">max</tspan><tspan dy="-1.3"> [-]</tspan></text>
<rect x="403.2" y="239.7" width="25.4" height="128" fill="url(#g403)" stroke="#555" stroke-width="0.6"/>
<line x1="428.6" y1="346.61" x2="430.4" y2="346.61" stroke="#555" stroke-width="0.6" />
<text x="431.8" y="348.71" font-size="5.8" font-family="Liberation Sans" fill="#262626" textLength="8.4" lengthAdjust="spacingAndGlyphs">0.5</text>
<line x1="428.6" y1="322.09" x2="430.4" y2="322.09" stroke="#555" stroke-width="0.6" />
<text x="431.8" y="324.19" font-size="5.8" font-family="Liberation Sans" fill="#262626" textLength="8.4" lengthAdjust="spacingAndGlyphs">1.0</text>
<line x1="428.6" y1="297.57" x2="430.4" y2="297.57" stroke="#555" stroke-width="0.6" />
<text x="431.8" y="299.67" font-size="5.8" font-family="Liberation Sans" fill="#262626" textLength="8.4" lengthAdjust="spacingAndGlyphs">1.5</text>
<line x1="428.6" y1="273.05" x2="430.4" y2="273.05" stroke="#555" stroke-width="0.6" />
<text x="431.8" y="275.15" font-size="5.8" font-family="Liberation Sans" fill="#262626" textLength="8.4" lengthAdjust="spacingAndGlyphs">2.0</text>
<line x1="428.6" y1="248.53" x2="430.4" y2="248.53" stroke="#555" stroke-width="0.6" />
<text x="431.8" y="250.63" font-size="5.8" font-family="Liberation Sans" fill="#262626" textLength="8.4" lengthAdjust="spacingAndGlyphs">2.5</text>
<text transform="translate(447.1,303.7) rotate(-90)" font-family="Liberation Sans" font-size="5.8" fill="#262626" text-anchor="middle" textLength="60" lengthAdjust="spacingAndGlyphs">linear deviation [kN]</text>
<line x1="491.5" y1="242.3" x2="491.5" y2="368" stroke="#d4d4d4" stroke-width="0.7" />
<line x1="521" y1="242.3" x2="521" y2="368" stroke="#d4d4d4" stroke-width="0.7" />
<line x1="550.2" y1="242.3" x2="550.2" y2="368" stroke="#d4d4d4" stroke-width="0.7" />
<line x1="579.5" y1="242.3" x2="579.5" y2="368" stroke="#d4d4d4" stroke-width="0.7" />
<line x1="608.8" y1="242.3" x2="608.8" y2="368" stroke="#d4d4d4" stroke-width="0.7" />
<line x1="482.5" y1="250.7" x2="617.5" y2="250.7" stroke="#d4d4d4" stroke-width="0.7" />
<line x1="482.5" y1="277.7" x2="617.5" y2="277.7" stroke="#d4d4d4" stroke-width="0.7" />
<line x1="482.5" y1="304.5" x2="617.5" y2="304.5" stroke="#d4d4d4" stroke-width="0.7" />
<line x1="482.5" y1="331.3" x2="617.5" y2="331.3" stroke="#d4d4d4" stroke-width="0.7" />
<line x1="482.5" y1="358.3" x2="617.5" y2="358.3" stroke="#d4d4d4" stroke-width="0.7" />
<path d="M491.5,250.7 L497.1,250.7 A5.6,5.6 0 0 0 489.77,245.37 Z" fill="#747474" stroke="#747474" stroke-width="0.3"/>
<path d="M491.5,250.7 L489.77,245.37 A5.6,5.6 0 0 0 489.77,256.03 Z" fill="#747474" stroke="#747474" stroke-width="0.3"/>
<path d="M491.5,250.7 L489.77,256.03 A5.6,5.6 0 0 0 497.1,250.7 Z" fill="#747474" stroke="#747474" stroke-width="0.3"/>
<path d="M489.77,245.37 L492.1,250.7 L489.77,256.03" fill="none" stroke="#1e1e1e" stroke-opacity="0.6" stroke-width="0.5"/>
<circle cx="491.5" cy="250.7" r="5.6" fill="none" stroke="#1e1e1e" stroke-opacity="0.5" stroke-width="0.5"/>
<path d="M521,250.7 L526.6,250.7 A5.6,5.6 0 0 0 519.27,245.37 Z" fill="#747474" stroke="#747474" stroke-width="0.3"/>
<path d="M521,250.7 L519.27,245.37 A5.6,5.6 0 0 0 519.27,256.03 Z" fill="#747474" stroke="#747474" stroke-width="0.3"/>
<path d="M521,250.7 L519.27,256.03 A5.6,5.6 0 0 0 526.6,250.7 Z" fill="#747474" stroke="#747474" stroke-width="0.3"/>
<path d="M519.27,245.37 L521.6,250.7 L519.27,256.03" fill="none" stroke="#1e1e1e" stroke-opacity="0.6" stroke-width="0.5"/>
<circle cx="521" cy="250.7" r="5.6" fill="none" stroke="#1e1e1e" stroke-opacity="0.5" stroke-width="0.5"/>
<path d="M550.2,250.7 L555.8,250.7 A5.6,5.6 0 0 0 548.47,245.37 Z" fill="#d926ff" stroke="#d926ff" stroke-width="0.3"/>
<path d="M550.2,250.7 L548.47,245.37 A5.6,5.6 0 0 0 548.47,256.03 Z" fill="#cc33ff" stroke="#cc33ff" stroke-width="0.3"/>
<path d="M550.2,250.7 L548.47,256.03 A5.6,5.6 0 0 0 555.8,250.7 Z" fill="#f20dff" stroke="#f20dff" stroke-width="0.3"/>
<path d="M548.47,245.37 L550.8,250.7 L548.47,256.03" fill="none" stroke="#1e1e1e" stroke-opacity="0.6" stroke-width="0.5"/>
<circle cx="550.2" cy="250.7" r="5.6" fill="none" stroke="#1e1e1e" stroke-opacity="0.5" stroke-width="0.5"/>
<path d="M579.5,250.7 L585.1,250.7 A5.6,5.6 0 0 0 577.77,245.37 Z" fill="#738cff" stroke="#738cff" stroke-width="0.3"/>
<path d="M579.5,250.7 L577.77,245.37 A5.6,5.6 0 0 0 577.77,256.03 Z" fill="#9966ff" stroke="#9966ff" stroke-width="0.3"/>
<path d="M579.5,250.7 L577.77,256.03 A5.6,5.6 0 0 0 585.1,250.7 Z" fill="#9966ff" stroke="#9966ff" stroke-width="0.3"/>
<path d="M577.77,245.37 L580.1,250.7 L577.77,256.03" fill="none" stroke="#1e1e1e" stroke-opacity="0.6" stroke-width="0.5"/>
<circle cx="579.5" cy="250.7" r="5.6" fill="none" stroke="#1e1e1e" stroke-opacity="0.5" stroke-width="0.5"/>
<path d="M608.8,250.7 L614.4,250.7 A5.6,5.6 0 0 0 607.07,245.37 Z" fill="#26d9ff" stroke="#26d9ff" stroke-width="0.3"/>
<path d="M608.8,250.7 L607.07,245.37 A5.6,5.6 0 0 0 607.07,256.03 Z" fill="#33ccff" stroke="#33ccff" stroke-width="0.3"/>
<path d="M608.8,250.7 L607.07,256.03 A5.6,5.6 0 0 0 614.4,250.7 Z" fill="#59a6ff" stroke="#59a6ff" stroke-width="0.3"/>
<path d="M607.07,245.37 L609.4,250.7 L607.07,256.03" fill="none" stroke="#1e1e1e" stroke-opacity="0.6" stroke-width="0.5"/>
<circle cx="608.8" cy="250.7" r="5.6" fill="none" stroke="#1e1e1e" stroke-opacity="0.5" stroke-width="0.5"/>
<path d="M491.5,277.7 L497.1,277.7 A5.6,5.6 0 0 0 489.77,272.37 Z" fill="#747474" stroke="#747474" stroke-width="0.3"/>
<path d="M491.5,277.7 L489.77,272.37 A5.6,5.6 0 0 0 489.77,283.03 Z" fill="#747474" stroke="#747474" stroke-width="0.3"/>
<path d="M491.5,277.7 L489.77,283.03 A5.6,5.6 0 0 0 497.1,277.7 Z" fill="#747474" stroke="#747474" stroke-width="0.3"/>
<path d="M489.77,272.37 L492.1,277.7 L489.77,283.03" fill="none" stroke="#1e1e1e" stroke-opacity="0.6" stroke-width="0.5"/>
<circle cx="491.5" cy="277.7" r="5.6" fill="none" stroke="#1e1e1e" stroke-opacity="0.5" stroke-width="0.5"/>
<path d="M521,277.7 L526.6,277.7 A5.6,5.6 0 0 0 519.27,272.37 Z" fill="#f708ff" stroke="#f708ff" stroke-width="0.3"/>
<path d="M521,277.7 L519.27,272.37 A5.6,5.6 0 0 0 519.27,283.03 Z" fill="#f708ff" stroke="#f708ff" stroke-width="0.3"/>
<path d="M521,277.7 L519.27,283.03 A5.6,5.6 0 0 0 526.6,277.7 Z" fill="#f708ff" stroke="#f708ff" stroke-width="0.3"/>
<path d="M519.27,272.37 L521.6,277.7 L519.27,283.03" fill="none" stroke="#1e1e1e" stroke-opacity="0.6" stroke-width="0.5"/>
<circle cx="521" cy="277.7" r="5.6" fill="none" stroke="#1e1e1e" stroke-opacity="0.5" stroke-width="0.5"/>
<path d="M550.2,277.7 L555.8,277.7 A5.6,5.6 0 0 0 548.47,272.37 Z" fill="#d926ff" stroke="#d926ff" stroke-width="0.3"/>
<path d="M550.2,277.7 L548.47,272.37 A5.6,5.6 0 0 0 548.47,283.03 Z" fill="#d926ff" stroke="#d926ff" stroke-width="0.3"/>
<path d="M550.2,277.7 L548.47,283.03 A5.6,5.6 0 0 0 555.8,277.7 Z" fill="#d926ff" stroke="#d926ff" stroke-width="0.3"/>
<path d="M548.47,272.37 L550.8,277.7 L548.47,283.03" fill="none" stroke="#1e1e1e" stroke-opacity="0.6" stroke-width="0.5"/>
<circle cx="550.2" cy="277.7" r="5.6" fill="none" stroke="#1e1e1e" stroke-opacity="0.5" stroke-width="0.5"/>
<path d="M579.5,277.7 L585.1,277.7 A5.6,5.6 0 0 0 577.77,272.37 Z" fill="#6699ff" stroke="#6699ff" stroke-width="0.3"/>
<path d="M579.5,277.7 L577.77,272.37 A5.6,5.6 0 0 0 577.77,283.03 Z" fill="#6699ff" stroke="#6699ff" stroke-width="0.3"/>
<path d="M579.5,277.7 L577.77,283.03 A5.6,5.6 0 0 0 585.1,277.7 Z" fill="#bf40ff" stroke="#bf40ff" stroke-width="0.3"/>
<path d="M577.77,272.37 L580.1,277.7 L577.77,283.03" fill="none" stroke="#1e1e1e" stroke-opacity="0.6" stroke-width="0.5"/>
<circle cx="579.5" cy="277.7" r="5.6" fill="none" stroke="#1e1e1e" stroke-opacity="0.5" stroke-width="0.5"/>
<path d="M608.8,277.7 L614.4,277.7 A5.6,5.6 0 0 0 607.07,272.37 Z" fill="#1ae6ff" stroke="#1ae6ff" stroke-width="0.3"/>
<path d="M608.8,277.7 L607.07,272.37 A5.6,5.6 0 0 0 607.07,283.03 Z" fill="#1ae6ff" stroke="#1ae6ff" stroke-width="0.3"/>
<path d="M608.8,277.7 L607.07,283.03 A5.6,5.6 0 0 0 614.4,277.7 Z" fill="#4cb2ff" stroke="#4cb2ff" stroke-width="0.3"/>
<path d="M607.07,272.37 L609.4,277.7 L607.07,283.03" fill="none" stroke="#1e1e1e" stroke-opacity="0.6" stroke-width="0.5"/>
<circle cx="608.8" cy="277.7" r="5.6" fill="none" stroke="#1e1e1e" stroke-opacity="0.5" stroke-width="0.5"/>
<path d="M491.5,304.5 L497.1,304.5 A5.6,5.6 0 0 0 489.77,299.17 Z" fill="#ff00ff" stroke="#ff00ff" stroke-width="0.3"/>
<path d="M491.5,304.5 L489.77,299.17 A5.6,5.6 0 0 0 489.77,309.83 Z" fill="#ff00ff" stroke="#ff00ff" stroke-width="0.3"/>
<path d="M491.5,304.5 L489.77,309.83 A5.6,5.6 0 0 0 497.1,304.5 Z" fill="#ff00ff" stroke="#ff00ff" stroke-width="0.3"/>
<path d="M489.77,299.17 L492.1,304.5 L489.77,309.83" fill="none" stroke="#1e1e1e" stroke-opacity="0.6" stroke-width="0.5"/>
<circle cx="491.5" cy="304.5" r="5.6" fill="none" stroke="#1e1e1e" stroke-opacity="0.5" stroke-width="0.5"/>
<path d="M521,304.5 L526.6,304.5 A5.6,5.6 0 0 0 519.27,299.17 Z" fill="#e619ff" stroke="#e619ff" stroke-width="0.3"/>
<path d="M521,304.5 L519.27,299.17 A5.6,5.6 0 0 0 519.27,309.83 Z" fill="#d926ff" stroke="#d926ff" stroke-width="0.3"/>
<path d="M521,304.5 L519.27,309.83 A5.6,5.6 0 0 0 526.6,304.5 Z" fill="#f20dff" stroke="#f20dff" stroke-width="0.3"/>
<path d="M519.27,299.17 L521.6,304.5 L519.27,309.83" fill="none" stroke="#1e1e1e" stroke-opacity="0.6" stroke-width="0.5"/>
<circle cx="521" cy="304.5" r="5.6" fill="none" stroke="#1e1e1e" stroke-opacity="0.5" stroke-width="0.5"/>
<path d="M550.2,304.5 L555.8,304.5 A5.6,5.6 0 0 0 548.47,299.17 Z" fill="#9966ff" stroke="#9966ff" stroke-width="0.3"/>
<path d="M550.2,304.5 L548.47,299.17 A5.6,5.6 0 0 0 548.47,309.83 Z" fill="#bf40ff" stroke="#bf40ff" stroke-width="0.3"/>
<path d="M550.2,304.5 L548.47,309.83 A5.6,5.6 0 0 0 555.8,304.5 Z" fill="#cc33ff" stroke="#cc33ff" stroke-width="0.3"/>
<path d="M548.47,299.17 L550.8,304.5 L548.47,309.83" fill="none" stroke="#1e1e1e" stroke-opacity="0.6" stroke-width="0.5"/>
<circle cx="550.2" cy="304.5" r="5.6" fill="none" stroke="#1e1e1e" stroke-opacity="0.5" stroke-width="0.5"/>
<path d="M579.5,304.5 L585.1,304.5 A5.6,5.6 0 0 0 577.77,299.17 Z" fill="#4cb2ff" stroke="#4cb2ff" stroke-width="0.3"/>
<path d="M579.5,304.5 L577.77,299.17 A5.6,5.6 0 0 0 577.77,309.83 Z" fill="#4cb2ff" stroke="#4cb2ff" stroke-width="0.3"/>
<path d="M579.5,304.5 L577.77,309.83 A5.6,5.6 0 0 0 585.1,304.5 Z" fill="#738cff" stroke="#738cff" stroke-width="0.3"/>
<path d="M577.77,299.17 L580.1,304.5 L577.77,309.83" fill="none" stroke="#1e1e1e" stroke-opacity="0.6" stroke-width="0.5"/>
<circle cx="579.5" cy="304.5" r="5.6" fill="none" stroke="#1e1e1e" stroke-opacity="0.5" stroke-width="0.5"/>
<path d="M608.8,304.5 L614.4,304.5 A5.6,5.6 0 0 0 607.07,299.17 Z" fill="#1ae6ff" stroke="#1ae6ff" stroke-width="0.3"/>
<path d="M608.8,304.5 L607.07,299.17 A5.6,5.6 0 0 0 607.07,309.83 Z" fill="#26d9ff" stroke="#26d9ff" stroke-width="0.3"/>
<path d="M608.8,304.5 L607.07,309.83 A5.6,5.6 0 0 0 614.4,304.5 Z" fill="#8c73ff" stroke="#8c73ff" stroke-width="0.3"/>
<path d="M607.07,299.17 L609.4,304.5 L607.07,309.83" fill="none" stroke="#1e1e1e" stroke-opacity="0.6" stroke-width="0.5"/>
<circle cx="608.8" cy="304.5" r="5.6" fill="none" stroke="#1e1e1e" stroke-opacity="0.5" stroke-width="0.5"/>
<path d="M491.5,331.3 L497.1,331.3 A5.6,5.6 0 0 0 489.77,325.97 Z" fill="#cc33ff" stroke="#cc33ff" stroke-width="0.3"/>
<path d="M491.5,331.3 L489.77,325.97 A5.6,5.6 0 0 0 489.77,336.63 Z" fill="#e619ff" stroke="#e619ff" stroke-width="0.3"/>
<path d="M491.5,331.3 L489.77,336.63 A5.6,5.6 0 0 0 497.1,331.3 Z" fill="#ff00ff" stroke="#ff00ff" stroke-width="0.3"/>
<path d="M489.77,325.97 L492.1,331.3 L489.77,336.63" fill="none" stroke="#1e1e1e" stroke-opacity="0.6" stroke-width="0.5"/>
<circle cx="491.5" cy="331.3" r="5.6" fill="none" stroke="#1e1e1e" stroke-opacity="0.5" stroke-width="0.5"/>
<path d="M521,331.3 L526.6,331.3 A5.6,5.6 0 0 0 519.27,325.97 Z" fill="#d926ff" stroke="#d926ff" stroke-width="0.3"/>
<path d="M521,331.3 L519.27,325.97 A5.6,5.6 0 0 0 519.27,336.63 Z" fill="#a659ff" stroke="#a659ff" stroke-width="0.3"/>
<path d="M521,331.3 L519.27,336.63 A5.6,5.6 0 0 0 526.6,331.3 Z" fill="#e619ff" stroke="#e619ff" stroke-width="0.3"/>
<path d="M519.27,325.97 L521.6,331.3 L519.27,336.63" fill="none" stroke="#1e1e1e" stroke-opacity="0.6" stroke-width="0.5"/>
<circle cx="521" cy="331.3" r="5.6" fill="none" stroke="#1e1e1e" stroke-opacity="0.5" stroke-width="0.5"/>
<path d="M550.2,331.3 L555.8,331.3 A5.6,5.6 0 0 0 548.47,325.97 Z" fill="#738cff" stroke="#738cff" stroke-width="0.3"/>
<path d="M550.2,331.3 L548.47,325.97 A5.6,5.6 0 0 0 548.47,336.63 Z" fill="#738cff" stroke="#738cff" stroke-width="0.3"/>
<path d="M550.2,331.3 L548.47,336.63 A5.6,5.6 0 0 0 555.8,331.3 Z" fill="#8080ff" stroke="#8080ff" stroke-width="0.3"/>
<path d="M548.47,325.97 L550.8,331.3 L548.47,336.63" fill="none" stroke="#1e1e1e" stroke-opacity="0.6" stroke-width="0.5"/>
<circle cx="550.2" cy="331.3" r="5.6" fill="none" stroke="#1e1e1e" stroke-opacity="0.5" stroke-width="0.5"/>
<path d="M579.5,331.3 L585.1,331.3 A5.6,5.6 0 0 0 577.77,325.97 Z" fill="#33ccff" stroke="#33ccff" stroke-width="0.3"/>
<path d="M579.5,331.3 L577.77,325.97 A5.6,5.6 0 0 0 577.77,336.63 Z" fill="#26d9ff" stroke="#26d9ff" stroke-width="0.3"/>
<path d="M579.5,331.3 L577.77,336.63 A5.6,5.6 0 0 0 585.1,331.3 Z" fill="#bf40ff" stroke="#bf40ff" stroke-width="0.3"/>
<path d="M577.77,325.97 L580.1,331.3 L577.77,336.63" fill="none" stroke="#1e1e1e" stroke-opacity="0.6" stroke-width="0.5"/>
<circle cx="579.5" cy="331.3" r="5.6" fill="none" stroke="#1e1e1e" stroke-opacity="0.5" stroke-width="0.5"/>
<path d="M608.8,331.3 L614.4,331.3 A5.6,5.6 0 0 0 607.07,325.97 Z" fill="#1ae6ff" stroke="#1ae6ff" stroke-width="0.3"/>
<path d="M608.8,331.3 L607.07,325.97 A5.6,5.6 0 0 0 607.07,336.63 Z" fill="#1ae6ff" stroke="#1ae6ff" stroke-width="0.3"/>
<path d="M608.8,331.3 L607.07,336.63 A5.6,5.6 0 0 0 614.4,331.3 Z" fill="#8080ff" stroke="#8080ff" stroke-width="0.3"/>
<path d="M607.07,325.97 L609.4,331.3 L607.07,336.63" fill="none" stroke="#1e1e1e" stroke-opacity="0.6" stroke-width="0.5"/>
<circle cx="608.8" cy="331.3" r="5.6" fill="none" stroke="#1e1e1e" stroke-opacity="0.5" stroke-width="0.5"/>
<path d="M491.5,358.3 L497.1,358.3 A5.6,5.6 0 0 0 489.77,352.97 Z" fill="#6699ff" stroke="#6699ff" stroke-width="0.3"/>
<path d="M491.5,358.3 L489.77,352.97 A5.6,5.6 0 0 0 489.77,363.63 Z" fill="#738cff" stroke="#738cff" stroke-width="0.3"/>
<path d="M491.5,358.3 L489.77,363.63 A5.6,5.6 0 0 0 497.1,358.3 Z" fill="#b24dff" stroke="#b24dff" stroke-width="0.3"/>
<path d="M489.77,352.97 L492.1,358.3 L489.77,363.63" fill="none" stroke="#1e1e1e" stroke-opacity="0.6" stroke-width="0.5"/>
<circle cx="491.5" cy="358.3" r="5.6" fill="none" stroke="#1e1e1e" stroke-opacity="0.5" stroke-width="0.5"/>
<path d="M521,358.3 L526.6,358.3 A5.6,5.6 0 0 0 519.27,352.97 Z" fill="#4cb2ff" stroke="#4cb2ff" stroke-width="0.3"/>
<path d="M521,358.3 L519.27,352.97 A5.6,5.6 0 0 0 519.27,363.63 Z" fill="#4cb2ff" stroke="#4cb2ff" stroke-width="0.3"/>
<path d="M521,358.3 L519.27,363.63 A5.6,5.6 0 0 0 526.6,358.3 Z" fill="#8c73ff" stroke="#8c73ff" stroke-width="0.3"/>
<path d="M519.27,352.97 L521.6,358.3 L519.27,363.63" fill="none" stroke="#1e1e1e" stroke-opacity="0.6" stroke-width="0.5"/>
<circle cx="521" cy="358.3" r="5.6" fill="none" stroke="#1e1e1e" stroke-opacity="0.5" stroke-width="0.5"/>
<path d="M550.2,358.3 L555.8,358.3 A5.6,5.6 0 0 0 548.47,352.97 Z" fill="#4cb2ff" stroke="#4cb2ff" stroke-width="0.3"/>
<path d="M550.2,358.3 L548.47,352.97 A5.6,5.6 0 0 0 548.47,363.63 Z" fill="#59a6ff" stroke="#59a6ff" stroke-width="0.3"/>
<path d="M550.2,358.3 L548.47,363.63 A5.6,5.6 0 0 0 555.8,358.3 Z" fill="#9966ff" stroke="#9966ff" stroke-width="0.3"/>
<path d="M548.47,352.97 L550.8,358.3 L548.47,363.63" fill="none" stroke="#1e1e1e" stroke-opacity="0.6" stroke-width="0.5"/>
<circle cx="550.2" cy="358.3" r="5.6" fill="none" stroke="#1e1e1e" stroke-opacity="0.5" stroke-width="0.5"/>
<path d="M579.5,358.3 L585.1,358.3 A5.6,5.6 0 0 0 577.77,352.97 Z" fill="#6699ff" stroke="#6699ff" stroke-width="0.3"/>
<path d="M579.5,358.3 L577.77,352.97 A5.6,5.6 0 0 0 577.77,363.63 Z" fill="#59a6ff" stroke="#59a6ff" stroke-width="0.3"/>
<path d="M579.5,358.3 L577.77,363.63 A5.6,5.6 0 0 0 585.1,358.3 Z" fill="#8c73ff" stroke="#8c73ff" stroke-width="0.3"/>
<path d="M577.77,352.97 L580.1,358.3 L577.77,363.63" fill="none" stroke="#1e1e1e" stroke-opacity="0.6" stroke-width="0.5"/>
<circle cx="579.5" cy="358.3" r="5.6" fill="none" stroke="#1e1e1e" stroke-opacity="0.5" stroke-width="0.5"/>
<path d="M608.8,358.3 L614.4,358.3 A5.6,5.6 0 0 0 607.07,352.97 Z" fill="#33ccff" stroke="#33ccff" stroke-width="0.3"/>
<path d="M608.8,358.3 L607.07,352.97 A5.6,5.6 0 0 0 607.07,363.63 Z" fill="#33ccff" stroke="#33ccff" stroke-width="0.3"/>
<path d="M608.8,358.3 L607.07,363.63 A5.6,5.6 0 0 0 614.4,358.3 Z" fill="#b24dff" stroke="#b24dff" stroke-width="0.3"/>
<path d="M607.07,352.97 L609.4,358.3 L607.07,363.63" fill="none" stroke="#1e1e1e" stroke-opacity="0.6" stroke-width="0.5"/>
<circle cx="608.8" cy="358.3" r="5.6" fill="none" stroke="#1e1e1e" stroke-opacity="0.5" stroke-width="0.5"/>
<text x="518.4" y="271.4" font-size="6.0" font-family="Liberation Serif" fill="#3a3a3a" font-style="italic">p</text>
<text x="521.5" y="272.3" font-size="4.0" font-family="Liberation Serif" fill="#3a3a3a">1</text>
<text x="547.6" y="298.2" font-size="6.0" font-family="Liberation Serif" fill="#3a3a3a" font-style="italic">p</text>
<text x="550.7" y="299.1" font-size="4.0" font-family="Liberation Serif" fill="#3a3a3a">2</text>
<text x="576.9" y="325" font-size="6.0" font-family="Liberation Serif" fill="#3a3a3a" font-style="italic">p</text>
<text x="580" y="325.9" font-size="4.0" font-family="Liberation Serif" fill="#3a3a3a">3</text>
<rect x="482.5" y="242.3" width="135" height="125.7" fill="none" stroke="#555" stroke-width="0.6"/>
<line x1="491.5" y1="368" x2="491.5" y2="369.8" stroke="#555" stroke-width="0.6" />
<text x="491.5" y="376.2" font-size="5.8" font-family="Liberation Sans" fill="#262626" text-anchor="middle" textLength="7" lengthAdjust="spacingAndGlyphs">81</text>
<line x1="521" y1="368" x2="521" y2="369.8" stroke="#555" stroke-width="0.6" />
<text x="521" y="376.2" font-size="5.8" font-family="Liberation Sans" fill="#262626" text-anchor="middle" textLength="7" lengthAdjust="spacingAndGlyphs">83</text>
<line x1="550.2" y1="368" x2="550.2" y2="369.8" stroke="#555" stroke-width="0.6" />
<text x="550.2" y="376.2" font-size="5.8" font-family="Liberation Sans" fill="#262626" text-anchor="middle" textLength="7" lengthAdjust="spacingAndGlyphs">85</text>
<line x1="579.5" y1="368" x2="579.5" y2="369.8" stroke="#555" stroke-width="0.6" />
<text x="579.5" y="376.2" font-size="5.8" font-family="Liberation Sans" fill="#262626" text-anchor="middle" textLength="7" lengthAdjust="spacingAndGlyphs">87</text>
<line x1="608.8" y1="368" x2="608.8" y2="369.8" stroke="#555" stroke-width="0.6" />
<text x="608.8" y="376.2" font-size="5.8" font-family="Liberation Sans" fill="#262626" text-anchor="middle" textLength="7" lengthAdjust="spacingAndGlyphs">89</text>
<line x1="480.7" y1="250.7" x2="482.5" y2="250.7" stroke="#555" stroke-width="0.6" />
<text x="479.1" y="252.8" font-size="5.8" font-family="Liberation Sans" fill="#262626" text-anchor="end" textLength="10.2" lengthAdjust="spacingAndGlyphs">250</text>
<line x1="480.7" y1="277.7" x2="482.5" y2="277.7" stroke="#555" stroke-width="0.6" />
<text x="479.1" y="279.8" font-size="5.8" font-family="Liberation Sans" fill="#262626" text-anchor="end" textLength="10.2" lengthAdjust="spacingAndGlyphs">200</text>
<line x1="480.7" y1="304.5" x2="482.5" y2="304.5" stroke="#555" stroke-width="0.6" />
<text x="479.1" y="306.6" font-size="5.8" font-family="Liberation Sans" fill="#262626" text-anchor="end" textLength="10.2" lengthAdjust="spacingAndGlyphs">150</text>
<line x1="480.7" y1="331.3" x2="482.5" y2="331.3" stroke="#555" stroke-width="0.6" />
<text x="479.1" y="333.4" font-size="5.8" font-family="Liberation Sans" fill="#262626" text-anchor="end" textLength="10.2" lengthAdjust="spacingAndGlyphs">100</text>
<line x1="480.7" y1="358.3" x2="482.5" y2="358.3" stroke="#555" stroke-width="0.6" />
<text x="479.1" y="360.4" font-size="5.8" font-family="Liberation Sans" fill="#262626" text-anchor="end" textLength="6.8" lengthAdjust="spacingAndGlyphs">50</text>
<text x="545" y="383" font-size="5.8" font-family="Liberation Sans" fill="#262626">α[</text>
<text x="550.2" y="382.2" font-size="4.2" font-family="Liberation Sans" fill="#262626">°</text>
<text x="552.8" y="383" font-size="5.8" font-family="Liberation Sans" fill="#262626">]</text>
<text transform="translate(464.6,305.15) rotate(-90)" font-family="Liberation Sans" font-size="5.8" fill="#262626" text-anchor="middle" textLength="27" lengthAdjust="spacingAndGlyphs">E/σ<tspan font-size="4.0" dy="1.3">max</tspan><tspan dy="-1.3"> [-]</tspan></text>
<rect x="626.3" y="241.5" width="25" height="126.1" fill="url(#g626)" stroke="#555" stroke-width="0.6"/>
<line x1="651.3" y1="362.71" x2="653.1" y2="362.71" stroke="#555" stroke-width="0.6" />
<text x="654.5" y="364.81" font-size="5.8" font-family="Liberation Sans" fill="#262626" textLength="11.7" lengthAdjust="spacingAndGlyphs">0.01</text>
<line x1="651.3" y1="338.52" x2="653.1" y2="338.52" stroke="#555" stroke-width="0.6" />
<text x="654.5" y="340.62" font-size="5.8" font-family="Liberation Sans" fill="#262626" textLength="11.7" lengthAdjust="spacingAndGlyphs">0.02</text>
<line x1="651.3" y1="314.32" x2="653.1" y2="314.32" stroke="#555" stroke-width="0.6" />
<text x="654.5" y="316.42" font-size="5.8" font-family="Liberation Sans" fill="#262626" textLength="11.7" lengthAdjust="spacingAndGlyphs">0.03</text>
<line x1="651.3" y1="290.13" x2="653.1" y2="290.13" stroke="#555" stroke-width="0.6" />
<text x="654.5" y="292.23" font-size="5.8" font-family="Liberation Sans" fill="#262626" textLength="11.7" lengthAdjust="spacingAndGlyphs">0.04</text>
<line x1="651.3" y1="265.94" x2="653.1" y2="265.94" stroke="#555" stroke-width="0.6" />
<text x="654.5" y="268.04" font-size="5.8" font-family="Liberation Sans" fill="#262626" textLength="11.7" lengthAdjust="spacingAndGlyphs">0.05</text>
<line x1="651.3" y1="241.74" x2="653.1" y2="241.74" stroke="#555" stroke-width="0.6" />
<text x="654.5" y="243.84" font-size="5.8" font-family="Liberation Sans" fill="#262626" textLength="11.7" lengthAdjust="spacingAndGlyphs">0.06</text>
<text transform="translate(674.4,304.55) rotate(-90)" font-family="Liberation Sans" font-size="5.8" fill="#262626" text-anchor="middle" textLength="47.4" lengthAdjust="spacingAndGlyphs">settlement [mm]</text>
<line x1="38" y1="429.5" x2="38" y2="553" stroke="#d4d4d4" stroke-width="0.7" />
<line x1="67" y1="429.5" x2="67" y2="553" stroke="#d4d4d4" stroke-width="0.7" />
<line x1="95.6" y1="429.5" x2="95.6" y2="553" stroke="#d4d4d4" stroke-width="0.7" />
<line x1="124.5" y1="429.5" x2="124.5" y2="553" stroke="#d4d4d4" stroke-width="0.7" />
<line x1="153.3" y1="429.5" x2="153.3" y2="553" stroke="#d4d4d4" stroke-width="0.7" />
<line x1="29.5" y1="438" x2="162.5" y2="438" stroke="#d4d4d4" stroke-width="0.7" />
<line x1="29.5" y1="464.5" x2="162.5" y2="464.5" stroke="#d4d4d4" stroke-width="0.7" />
<line x1="29.5" y1="491" x2="162.5" y2="491" stroke="#d4d4d4" stroke-width="0.7" />
<line x1="29.5" y1="517.3" x2="162.5" y2="517.3" stroke="#d4d4d4" stroke-width="0.7" />
<line x1="29.5" y1="543.8" x2="162.5" y2="543.8" stroke="#d4d4d4" stroke-width="0.7" />
<path d="M38,438 L43.6,438 A5.6,5.6 0 0 0 36.27,432.67 Z" fill="#747474" stroke="#747474" stroke-width="0.3"/>
<path d="M38,438 L36.27,432.67 A5.6,5.6 0 0 0 36.27,443.33 Z" fill="#747474" stroke="#747474" stroke-width="0.3"/>
<path d="M38,438 L36.27,443.33 A5.6,5.6 0 0 0 43.6,438 Z" fill="#747474" stroke="#747474" stroke-width="0.3"/>
<path d="M36.27,432.67 L38.6,438 L36.27,443.33" fill="none" stroke="#1e1e1e" stroke-opacity="0.6" stroke-width="0.5"/>
<circle cx="38" cy="438" r="5.6" fill="none" stroke="#1e1e1e" stroke-opacity="0.5" stroke-width="0.5"/>
<path d="M67,438 L72.6,438 A5.6,5.6 0 0 0 65.27,432.67 Z" fill="#747474" stroke="#747474" stroke-width="0.3"/>
<path d="M67,438 L65.27,432.67 A5.6,5.6 0 0 0 65.27,443.33 Z" fill="#747474" stroke="#747474" stroke-width="0.3"/>
<path d="M67,438 L65.27,443.33 A5.6,5.6 0 0 0 72.6,438 Z" fill="#747474" stroke="#747474" stroke-width="0.3"/>
<path d="M65.27,432.67 L67.6,438 L65.27,443.33" fill="none" stroke="#1e1e1e" stroke-opacity="0.6" stroke-width="0.5"/>
<circle cx="67" cy="438" r="5.6" fill="none" stroke="#1e1e1e" stroke-opacity="0.5" stroke-width="0.5"/>
<path d="M95.6,438 L101.2,438 A5.6,5.6 0 0 0 93.87,432.67 Z" fill="#4cb2ff" stroke="#4cb2ff" stroke-width="0.3"/>
<path d="M95.6,438 L93.87,432.67 A5.6,5.6 0 0 0 93.87,443.33 Z" fill="#4cb2ff" stroke="#4cb2ff" stroke-width="0.3"/>
<path d="M95.6,438 L93.87,443.33 A5.6,5.6 0 0 0 101.2,438 Z" fill="#4cb2ff" stroke="#4cb2ff" stroke-width="0.3"/>
<path d="M93.87,432.67 L96.2,438 L93.87,443.33" fill="none" stroke="#1e1e1e" stroke-opacity="0.6" stroke-width="0.5"/>
<circle cx="95.6" cy="438" r="5.6" fill="none" stroke="#1e1e1e" stroke-opacity="0.5" stroke-width="0.5"/>
<path d="M124.5,438 L130.1,438 A5.6,5.6 0 0 0 122.77,432.67 Z" fill="#cc33ff" stroke="#cc33ff" stroke-width="0.3"/>
<path d="M124.5,438 L122.77,432.67 A5.6,5.6 0 0 0 122.77,443.33 Z" fill="#cc33ff" stroke="#cc33ff" stroke-width="0.3"/>
<path d="M124.5,438 L122.77,443.33 A5.6,5.6 0 0 0 130.1,438 Z" fill="#cc33ff" stroke="#cc33ff" stroke-width="0.3"/>
<path d="M122.77,432.67 L125.1,438 L122.77,443.33" fill="none" stroke="#1e1e1e" stroke-opacity="0.6" stroke-width="0.5"/>
<circle cx="124.5" cy="438" r="5.6" fill="none" stroke="#1e1e1e" stroke-opacity="0.5" stroke-width="0.5"/>
<path d="M153.3,438 L158.9,438 A5.6,5.6 0 0 0 151.57,432.67 Z" fill="#f20dff" stroke="#f20dff" stroke-width="0.3"/>
<path d="M153.3,438 L151.57,432.67 A5.6,5.6 0 0 0 151.57,443.33 Z" fill="#f20dff" stroke="#f20dff" stroke-width="0.3"/>
<path d="M153.3,438 L151.57,443.33 A5.6,5.6 0 0 0 158.9,438 Z" fill="#f20dff" stroke="#f20dff" stroke-width="0.3"/>
<path d="M151.57,432.67 L153.9,438 L151.57,443.33" fill="none" stroke="#1e1e1e" stroke-opacity="0.6" stroke-width="0.5"/>
<circle cx="153.3" cy="438" r="5.6" fill="none" stroke="#1e1e1e" stroke-opacity="0.5" stroke-width="0.5"/>
<path d="M38,464.5 L43.6,464.5 A5.6,5.6 0 0 0 36.27,459.17 Z" fill="#747474" stroke="#747474" stroke-width="0.3"/>
<path d="M38,464.5 L36.27,459.17 A5.6,5.6 0 0 0 36.27,469.83 Z" fill="#747474" stroke="#747474" stroke-width="0.3"/>
<path d="M38,464.5 L36.27,469.83 A5.6,5.6 0 0 0 43.6,464.5 Z" fill="#747474" stroke="#747474" stroke-width="0.3"/>
<path d="M36.27,459.17 L38.6,464.5 L36.27,469.83" fill="none" stroke="#1e1e1e" stroke-opacity="0.6" stroke-width="0.5"/>
<circle cx="38" cy="464.5" r="5.6" fill="none" stroke="#1e1e1e" stroke-opacity="0.5" stroke-width="0.5"/>
<path d="M67,464.5 L72.6,464.5 A5.6,5.6 0 0 0 65.27,459.17 Z" fill="#0df2ff" stroke="#0df2ff" stroke-width="0.3"/>
<path d="M67,464.5 L65.27,459.17 A5.6,5.6 0 0 0 65.27,469.83 Z" fill="#0df2ff" stroke="#0df2ff" stroke-width="0.3"/>
<path d="M67,464.5 L65.27,469.83 A5.6,5.6 0 0 0 72.6,464.5 Z" fill="#0df2ff" stroke="#0df2ff" stroke-width="0.3"/>
<path d="M65.27,459.17 L67.6,464.5 L65.27,469.83" fill="none" stroke="#1e1e1e" stroke-opacity="0.6" stroke-width="0.5"/>
<circle cx="67" cy="464.5" r="5.6" fill="none" stroke="#1e1e1e" stroke-opacity="0.5" stroke-width="0.5"/>
<path d="M95.6,464.5 L101.2,464.5 A5.6,5.6 0 0 0 93.87,459.17 Z" fill="#8c73ff" stroke="#8c73ff" stroke-width="0.3"/>
<path d="M95.6,464.5 L93.87,459.17 A5.6,5.6 0 0 0 93.87,469.83 Z" fill="#8c73ff" stroke="#8c73ff" stroke-width="0.3"/>
<path d="M95.6,464.5 L93.87,469.83 A5.6,5.6 0 0 0 101.2,464.5 Z" fill="#8c73ff" stroke="#8c73ff" stroke-width="0.3"/>
<path d="M93.87,459.17 L96.2,464.5 L93.87,469.83" fill="none" stroke="#1e1e1e" stroke-opacity="0.6" stroke-width="0.5"/>
<circle cx="95.6" cy="464.5" r="5.6" fill="none" stroke="#1e1e1e" stroke-opacity="0.5" stroke-width="0.5"/>
<path d="M124.5,464.5 L130.1,464.5 A5.6,5.6 0 0 0 122.77,459.17 Z" fill="#e619ff" stroke="#e619ff" stroke-width="0.3"/>
<path d="M124.5,464.5 L122.77,459.17 A5.6,5.6 0 0 0 122.77,469.83 Z" fill="#e619ff" stroke="#e619ff" stroke-width="0.3"/>
<path d="M124.5,464.5 L122.77,469.83 A5.6,5.6 0 0 0 130.1,464.5 Z" fill="#e619ff" stroke="#e619ff" stroke-width="0.3"/>
<path d="M122.77,459.17 L125.1,464.5 L122.77,469.83" fill="none" stroke="#1e1e1e" stroke-opacity="0.6" stroke-width="0.5"/>
<circle cx="124.5" cy="464.5" r="5.6" fill="none" stroke="#1e1e1e" stroke-opacity="0.5" stroke-width="0.5"/>
<path d="M153.3,464.5 L158.9,464.5 A5.6,5.6 0 0 0 151.57,459.17 Z" fill="#f708ff" stroke="#f708ff" stroke-width="0.3"/>
<path d="M153.3,464.5 L151.57,459.17 A5.6,5.6 0 0 0 151.57,469.83 Z" fill="#f708ff" stroke="#f708ff" stroke-width="0.3"/>
<path d="M153.3,464.5 L151.57,469.83 A5.6,5.6 0 0 0 158.9,464.5 Z" fill="#f708ff" stroke="#f708ff" stroke-width="0.3"/>
<path d="M151.57,459.17 L153.9,464.5 L151.57,469.83" fill="none" stroke="#1e1e1e" stroke-opacity="0.6" stroke-width="0.5"/>
<circle cx="153.3" cy="464.5" r="5.6" fill="none" stroke="#1e1e1e" stroke-opacity="0.5" stroke-width="0.5"/>
<path d="M38,491 L43.6,491 A5.6,5.6 0 0 0 36.27,485.67 Z" fill="#05faff" stroke="#05faff" stroke-width="0.3"/>
<path d="M38,491 L36.27,485.67 A5.6,5.6 0 0 0 36.27,496.33 Z" fill="#05faff" stroke="#05faff" stroke-width="0.3"/>
<path d="M38,491 L36.27,496.33 A5.6,5.6 0 0 0 43.6,491 Z" fill="#05faff" stroke="#05faff" stroke-width="0.3"/>
<path d="M36.27,485.67 L38.6,491 L36.27,496.33" fill="none" stroke="#1e1e1e" stroke-opacity="0.6" stroke-width="0.5"/>
<circle cx="38" cy="491" r="5.6" fill="none" stroke="#1e1e1e" stroke-opacity="0.5" stroke-width="0.5"/>
<path d="M67,491 L72.6,491 A5.6,5.6 0 0 0 65.27,485.67 Z" fill="#738cff" stroke="#738cff" stroke-width="0.3"/>
<path d="M67,491 L65.27,485.67 A5.6,5.6 0 0 0 65.27,496.33 Z" fill="#738cff" stroke="#738cff" stroke-width="0.3"/>
<path d="M67,491 L65.27,496.33 A5.6,5.6 0 0 0 72.6,491 Z" fill="#738cff" stroke="#738cff" stroke-width="0.3"/>
<path d="M65.27,485.67 L67.6,491 L65.27,496.33" fill="none" stroke="#1e1e1e" stroke-opacity="0.6" stroke-width="0.5"/>
<circle cx="67" cy="491" r="5.6" fill="none" stroke="#1e1e1e" stroke-opacity="0.5" stroke-width="0.5"/>
<path d="M95.6,491 L101.2,491 A5.6,5.6 0 0 0 93.87,485.67 Z" fill="#bf40ff" stroke="#bf40ff" stroke-width="0.3"/>
<path d="M95.6,491 L93.87,485.67 A5.6,5.6 0 0 0 93.87,496.33 Z" fill="#bf40ff" stroke="#bf40ff" stroke-width="0.3"/>
<path d="M95.6,491 L93.87,496.33 A5.6,5.6 0 0 0 101.2,491 Z" fill="#bf40ff" stroke="#bf40ff" stroke-width="0.3"/>
<path d="M93.87,485.67 L96.2,491 L93.87,496.33" fill="none" stroke="#1e1e1e" stroke-opacity="0.6" stroke-width="0.5"/>
<circle cx="95.6" cy="491" r="5.6" fill="none" stroke="#1e1e1e" stroke-opacity="0.5" stroke-width="0.5"/>
<path d="M124.5,491 L130.1,491 A5.6,5.6 0 0 0 122.77,485.67 Z" fill="#f20dff" stroke="#f20dff" stroke-width="0.3"/>
<path d="M124.5,491 L122.77,485.67 A5.6,5.6 0 0 0 122.77,496.33 Z" fill="#f20dff" stroke="#f20dff" stroke-width="0.3"/>
<path d="M124.5,491 L122.77,496.33 A5.6,5.6 0 0 0 130.1,491 Z" fill="#f20dff" stroke="#f20dff" stroke-width="0.3"/>
<path d="M122.77,485.67 L125.1,491 L122.77,496.33" fill="none" stroke="#1e1e1e" stroke-opacity="0.6" stroke-width="0.5"/>
<circle cx="124.5" cy="491" r="5.6" fill="none" stroke="#1e1e1e" stroke-opacity="0.5" stroke-width="0.5"/>
<path d="M153.3,491 L158.9,491 A5.6,5.6 0 0 0 151.57,485.67 Z" fill="#f708ff" stroke="#f708ff" stroke-width="0.3"/>
<path d="M153.3,491 L151.57,485.67 A5.6,5.6 0 0 0 151.57,496.33 Z" fill="#f708ff" stroke="#f708ff" stroke-width="0.3"/>
<path d="M153.3,491 L151.57,496.33 A5.6,5.6 0 0 0 158.9,491 Z" fill="#f708ff" stroke="#f708ff" stroke-width="0.3"/>
<path d="M151.57,485.67 L153.9,491 L151.57,496.33" fill="none" stroke="#1e1e1e" stroke-opacity="0.6" stroke-width="0.5"/>
<circle cx="153.3" cy="491" r="5.6" fill="none" stroke="#1e1e1e" stroke-opacity="0.5" stroke-width="0.5"/>
<path d="M38,517.3 L43.6,517.3 A5.6,5.6 0 0 0 36.27,511.97 Z" fill="#9966ff" stroke="#9966ff" stroke-width="0.3"/>
<path d="M38,517.3 L36.27,511.97 A5.6,5.6 0 0 0 36.27,522.63 Z" fill="#9966ff" stroke="#9966ff" stroke-width="0.3"/>
<path d="M38,517.3 L36.27,522.63 A5.6,5.6 0 0 0 43.6,517.3 Z" fill="#9966ff" stroke="#9966ff" stroke-width="0.3"/>
<path d="M36.27,511.97 L38.6,517.3 L36.27,522.63" fill="none" stroke="#1e1e1e" stroke-opacity="0.6" stroke-width="0.5"/>
<circle cx="38" cy="517.3" r="5.6" fill="none" stroke="#1e1e1e" stroke-opacity="0.5" stroke-width="0.5"/>
<path d="M67,517.3 L72.6,517.3 A5.6,5.6 0 0 0 65.27,511.97 Z" fill="#bf40ff" stroke="#bf40ff" stroke-width="0.3"/>
<path d="M67,517.3 L65.27,511.97 A5.6,5.6 0 0 0 65.27,522.63 Z" fill="#bf40ff" stroke="#bf40ff" stroke-width="0.3"/>
<path d="M67,517.3 L65.27,522.63 A5.6,5.6 0 0 0 72.6,517.3 Z" fill="#bf40ff" stroke="#bf40ff" stroke-width="0.3"/>
<path d="M65.27,511.97 L67.6,517.3 L65.27,522.63" fill="none" stroke="#1e1e1e" stroke-opacity="0.6" stroke-width="0.5"/>
<circle cx="67" cy="517.3" r="5.6" fill="none" stroke="#1e1e1e" stroke-opacity="0.5" stroke-width="0.5"/>
<path d="M95.6,517.3 L101.2,517.3 A5.6,5.6 0 0 0 93.87,511.97 Z" fill="#e619ff" stroke="#e619ff" stroke-width="0.3"/>
<path d="M95.6,517.3 L93.87,511.97 A5.6,5.6 0 0 0 93.87,522.63 Z" fill="#e619ff" stroke="#e619ff" stroke-width="0.3"/>
<path d="M95.6,517.3 L93.87,522.63 A5.6,5.6 0 0 0 101.2,517.3 Z" fill="#e619ff" stroke="#e619ff" stroke-width="0.3"/>
<path d="M93.87,511.97 L96.2,517.3 L93.87,522.63" fill="none" stroke="#1e1e1e" stroke-opacity="0.6" stroke-width="0.5"/>
<circle cx="95.6" cy="517.3" r="5.6" fill="none" stroke="#1e1e1e" stroke-opacity="0.5" stroke-width="0.5"/>
<path d="M124.5,517.3 L130.1,517.3 A5.6,5.6 0 0 0 122.77,511.97 Z" fill="#f20dff" stroke="#f20dff" stroke-width="0.3"/>
<path d="M124.5,517.3 L122.77,511.97 A5.6,5.6 0 0 0 122.77,522.63 Z" fill="#f20dff" stroke="#f20dff" stroke-width="0.3"/>
<path d="M124.5,517.3 L122.77,522.63 A5.6,5.6 0 0 0 130.1,517.3 Z" fill="#f20dff" stroke="#f20dff" stroke-width="0.3"/>
<path d="M122.77,511.97 L125.1,517.3 L122.77,522.63" fill="none" stroke="#1e1e1e" stroke-opacity="0.6" stroke-width="0.5"/>
<circle cx="124.5" cy="517.3" r="5.6" fill="none" stroke="#1e1e1e" stroke-opacity="0.5" stroke-width="0.5"/>
<path d="M153.3,517.3 L158.9,517.3 A5.6,5.6 0 0 0 151.57,511.97 Z" fill="#f708ff" stroke="#f708ff" stroke-width="0.3"/>
<path d="M153.3,517.3 L151.57,511.97 A5.6,5.6 0 0 0 151.57,522.63 Z" fill="#f708ff" stroke="#f708ff" stroke-width="0.3"/>
<path d="M153.3,517.3 L151.57,522.63 A5.6,5.6 0 0 0 158.9,517.3 Z" fill="#f708ff" stroke="#f708ff" stroke-width="0.3"/>
<path d="M151.57,511.97 L153.9,517.3 L151.57,522.63" fill="none" stroke="#1e1e1e" stroke-opacity="0.6" stroke-width="0.5"/>
<circle cx="153.3" cy="517.3" r="5.6" fill="none" stroke="#1e1e1e" stroke-opacity="0.5" stroke-width="0.5"/>
<path d="M38,543.8 L43.6,543.8 A5.6,5.6 0 0 0 36.27,538.47 Z" fill="#f20dff" stroke="#f20dff" stroke-width="0.3"/>
<path d="M38,543.8 L36.27,538.47 A5.6,5.6 0 0 0 36.27,549.13 Z" fill="#f20dff" stroke="#f20dff" stroke-width="0.3"/>
<path d="M38,543.8 L36.27,549.13 A5.6,5.6 0 0 0 43.6,543.8 Z" fill="#f20dff" stroke="#f20dff" stroke-width="0.3"/>
<path d="M36.27,538.47 L38.6,543.8 L36.27,549.13" fill="none" stroke="#1e1e1e" stroke-opacity="0.6" stroke-width="0.5"/>
<circle cx="38" cy="543.8" r="5.6" fill="none" stroke="#1e1e1e" stroke-opacity="0.5" stroke-width="0.5"/>
<path d="M67,543.8 L72.6,543.8 A5.6,5.6 0 0 0 65.27,538.47 Z" fill="#f20dff" stroke="#f20dff" stroke-width="0.3"/>
<path d="M67,543.8 L65.27,538.47 A5.6,5.6 0 0 0 65.27,549.13 Z" fill="#f20dff" stroke="#f20dff" stroke-width="0.3"/>
<path d="M67,543.8 L65.27,549.13 A5.6,5.6 0 0 0 72.6,543.8 Z" fill="#f20dff" stroke="#f20dff" stroke-width="0.3"/>
<path d="M65.27,538.47 L67.6,543.8 L65.27,549.13" fill="none" stroke="#1e1e1e" stroke-opacity="0.6" stroke-width="0.5"/>
<circle cx="67" cy="543.8" r="5.6" fill="none" stroke="#1e1e1e" stroke-opacity="0.5" stroke-width="0.5"/>
<path d="M95.6,543.8 L101.2,543.8 A5.6,5.6 0 0 0 93.87,538.47 Z" fill="#f20dff" stroke="#f20dff" stroke-width="0.3"/>
<path d="M95.6,543.8 L93.87,538.47 A5.6,5.6 0 0 0 93.87,549.13 Z" fill="#f20dff" stroke="#f20dff" stroke-width="0.3"/>
<path d="M95.6,543.8 L93.87,549.13 A5.6,5.6 0 0 0 101.2,543.8 Z" fill="#f20dff" stroke="#f20dff" stroke-width="0.3"/>
<path d="M93.87,538.47 L96.2,543.8 L93.87,549.13" fill="none" stroke="#1e1e1e" stroke-opacity="0.6" stroke-width="0.5"/>
<circle cx="95.6" cy="543.8" r="5.6" fill="none" stroke="#1e1e1e" stroke-opacity="0.5" stroke-width="0.5"/>
<path d="M124.5,543.8 L130.1,543.8 A5.6,5.6 0 0 0 122.77,538.47 Z" fill="#f20dff" stroke="#f20dff" stroke-width="0.3"/>
<path d="M124.5,543.8 L122.77,538.47 A5.6,5.6 0 0 0 122.77,549.13 Z" fill="#f20dff" stroke="#f20dff" stroke-width="0.3"/>
<path d="M124.5,543.8 L122.77,549.13 A5.6,5.6 0 0 0 130.1,543.8 Z" fill="#f20dff" stroke="#f20dff" stroke-width="0.3"/>
<path d="M122.77,538.47 L125.1,543.8 L122.77,549.13" fill="none" stroke="#1e1e1e" stroke-opacity="0.6" stroke-width="0.5"/>
<circle cx="124.5" cy="543.8" r="5.6" fill="none" stroke="#1e1e1e" stroke-opacity="0.5" stroke-width="0.5"/>
<path d="M153.3,543.8 L158.9,543.8 A5.6,5.6 0 0 0 151.57,538.47 Z" fill="#f20dff" stroke="#f20dff" stroke-width="0.3"/>
<path d="M153.3,543.8 L151.57,538.47 A5.6,5.6 0 0 0 151.57,549.13 Z" fill="#f20dff" stroke="#f20dff" stroke-width="0.3"/>
<path d="M153.3,543.8 L151.57,549.13 A5.6,5.6 0 0 0 158.9,543.8 Z" fill="#f20dff" stroke="#f20dff" stroke-width="0.3"/>
<path d="M151.57,538.47 L153.9,543.8 L151.57,549.13" fill="none" stroke="#1e1e1e" stroke-opacity="0.6" stroke-width="0.5"/>
<circle cx="153.3" cy="543.8" r="5.6" fill="none" stroke="#1e1e1e" stroke-opacity="0.5" stroke-width="0.5"/>
<text x="64.4" y="458.2" font-size="6.0" font-family="Liberation Serif" fill="#3a3a3a" font-style="italic">p</text>
<text x="67.5" y="459.1" font-size="4.0" font-family="Liberation Serif" fill="#3a3a3a">1</text>
<text x="93" y="484.7" font-size="6.0" font-family="Liberation Serif" fill="#3a3a3a" font-style="italic">p</text>
<text x="96.1" y="485.6" font-size="4.0" font-family="Liberation Serif" fill="#3a3a3a">2</text>
<text x="121.9" y="511" font-size="6.0" font-family="Liberation Serif" fill="#3a3a3a" font-style="italic">p</text>
<text x="125" y="511.9" font-size="4.0" font-family="Liberation Serif" fill="#3a3a3a">3</text>
<rect x="29.5" y="429.5" width="133" height="123.5" fill="none" stroke="#555" stroke-width="0.6"/>
<line x1="38" y1="553" x2="38" y2="554.8" stroke="#555" stroke-width="0.6" />
<text x="38" y="561.2" font-size="5.8" font-family="Liberation Sans" fill="#262626" text-anchor="middle" textLength="7" lengthAdjust="spacingAndGlyphs">81</text>
<line x1="67" y1="553" x2="67" y2="554.8" stroke="#555" stroke-width="0.6" />
<text x="67" y="561.2" font-size="5.8" font-family="Liberation Sans" fill="#262626" text-anchor="middle" textLength="7" lengthAdjust="spacingAndGlyphs">83</text>
<line x1="95.6" y1="553" x2="95.6" y2="554.8" stroke="#555" stroke-width="0.6" />
<text x="95.6" y="561.2" font-size="5.8" font-family="Liberation Sans" fill="#262626" text-anchor="middle" textLength="7" lengthAdjust="spacingAndGlyphs">85</text>
<line x1="124.5" y1="553" x2="124.5" y2="554.8" stroke="#555" stroke-width="0.6" />
<text x="124.5" y="561.2" font-size="5.8" font-family="Liberation Sans" fill="#262626" text-anchor="middle" textLength="7" lengthAdjust="spacingAndGlyphs">87</text>
<line x1="153.3" y1="553" x2="153.3" y2="554.8" stroke="#555" stroke-width="0.6" />
<text x="153.3" y="561.2" font-size="5.8" font-family="Liberation Sans" fill="#262626" text-anchor="middle" textLength="7" lengthAdjust="spacingAndGlyphs">89</text>
<line x1="27.7" y1="438" x2="29.5" y2="438" stroke="#555" stroke-width="0.6" />
<text x="26.1" y="440.1" font-size="5.8" font-family="Liberation Sans" fill="#262626" text-anchor="end" textLength="10.2" lengthAdjust="spacingAndGlyphs">250</text>
<line x1="27.7" y1="464.5" x2="29.5" y2="464.5" stroke="#555" stroke-width="0.6" />
<text x="26.1" y="466.6" font-size="5.8" font-family="Liberation Sans" fill="#262626" text-anchor="end" textLength="10.2" lengthAdjust="spacingAndGlyphs">200</text>
<line x1="27.7" y1="491" x2="29.5" y2="491" stroke="#555" stroke-width="0.6" />
<text x="26.1" y="493.1" font-size="5.8" font-family="Liberation Sans" fill="#262626" text-anchor="end" textLength="10.2" lengthAdjust="spacingAndGlyphs">150</text>
<line x1="27.7" y1="517.3" x2="29.5" y2="517.3" stroke="#555" stroke-width="0.6" />
<text x="26.1" y="519.4" font-size="5.8" font-family="Liberation Sans" fill="#262626" text-anchor="end" textLength="10.2" lengthAdjust="spacingAndGlyphs">100</text>
<line x1="27.7" y1="543.8" x2="29.5" y2="543.8" stroke="#555" stroke-width="0.6" />
<text x="26.1" y="545.9" font-size="5.8" font-family="Liberation Sans" fill="#262626" text-anchor="end" textLength="6.8" lengthAdjust="spacingAndGlyphs">50</text>
<text x="91" y="568" font-size="5.8" font-family="Liberation Sans" fill="#262626">α[</text>
<text x="96.2" y="567.2" font-size="4.2" font-family="Liberation Sans" fill="#262626">°</text>
<text x="98.8" y="568" font-size="5.8" font-family="Liberation Sans" fill="#262626">]</text>
<text transform="translate(12,491.25) rotate(-90)" font-family="Liberation Sans" font-size="5.8" fill="#262626" text-anchor="middle" textLength="27" lengthAdjust="spacingAndGlyphs">E/σ<tspan font-size="4.0" dy="1.3">max</tspan><tspan dy="-1.3"> [-]</tspan></text>
<rect x="171" y="429.5" width="24.2" height="124.1" fill="url(#g171)" stroke="#555" stroke-width="0.6"/>
<line x1="195.2" y1="540.38" x2="197" y2="540.38" stroke="#555" stroke-width="0.6" />
<text x="198.4" y="542.48" font-size="5.8" font-family="Liberation Sans" fill="#262626" textLength="15" lengthAdjust="spacingAndGlyphs">0.434</text>
<line x1="195.2" y1="519.56" x2="197" y2="519.56" stroke="#555" stroke-width="0.6" />
<text x="198.4" y="521.66" font-size="5.8" font-family="Liberation Sans" fill="#262626" textLength="15" lengthAdjust="spacingAndGlyphs">0.436</text>
<line x1="195.2" y1="498.73" x2="197" y2="498.73" stroke="#555" stroke-width="0.6" />
<text x="198.4" y="500.83" font-size="5.8" font-family="Liberation Sans" fill="#262626" textLength="15" lengthAdjust="spacingAndGlyphs">0.438</text>
<line x1="195.2" y1="477.91" x2="197" y2="477.91" stroke="#555" stroke-width="0.6" />
<text x="198.4" y="480.01" font-size="5.8" font-family="Liberation Sans" fill="#262626" textLength="15" lengthAdjust="spacingAndGlyphs">0.440</text>
<line x1="195.2" y1="457.09" x2="197" y2="457.09" stroke="#555" stroke-width="0.6" />
<text x="198.4" y="459.19" font-size="5.8" font-family="Liberation Sans" fill="#262626" textLength="15" lengthAdjust="spacingAndGlyphs">0.442</text>
<line x1="195.2" y1="436.27" x2="197" y2="436.27" stroke="#555" stroke-width="0.6" />
<text x="198.4" y="438.37" font-size="5.8" font-family="Liberation Sans" fill="#262626" textLength="15" lengthAdjust="spacingAndGlyphs">0.444</text>
<text transform="translate(221.1,491.55) rotate(-90)" font-family="Liberation Sans" font-size="5.8" fill="#262626" text-anchor="middle" textLength="45" lengthAdjust="spacingAndGlyphs">final porosity [-]</text>
<line x1="266.5" y1="423.8" x2="266.5" y2="552.5" stroke="#d4d4d4" stroke-width="0.7" />
<line x1="296.5" y1="423.8" x2="296.5" y2="552.5" stroke="#d4d4d4" stroke-width="0.7" />
<line x1="326.5" y1="423.8" x2="326.5" y2="552.5" stroke="#d4d4d4" stroke-width="0.7" />
<line x1="356.8" y1="423.8" x2="356.8" y2="552.5" stroke="#d4d4d4" stroke-width="0.7" />
<line x1="386.8" y1="423.8" x2="386.8" y2="552.5" stroke="#d4d4d4" stroke-width="0.7" />
<line x1="257.5" y1="432.5" x2="396.3" y2="432.5" stroke="#d4d4d4" stroke-width="0.7" />
<line x1="257.5" y1="460.2" x2="396.3" y2="460.2" stroke="#d4d4d4" stroke-width="0.7" />
<line x1="257.5" y1="487.5" x2="396.3" y2="487.5" stroke="#d4d4d4" stroke-width="0.7" />
<line x1="257.5" y1="515.2" x2="396.3" y2="515.2" stroke="#d4d4d4" stroke-width="0.7" />
<line x1="257.5" y1="542.8" x2="396.3" y2="542.8" stroke="#d4d4d4" stroke-width="0.7" />
<path d="M266.5,432.5 L272.1,432.5 A5.6,5.6 0 0 0 264.77,427.17 Z" fill="#747474" stroke="#747474" stroke-width="0.3"/>
<path d="M266.5,432.5 L264.77,427.17 A5.6,5.6 0 0 0 264.77,437.83 Z" fill="#747474" stroke="#747474" stroke-width="0.3"/>
<path d="M266.5,432.5 L264.77,437.83 A5.6,5.6 0 0 0 272.1,432.5 Z" fill="#747474" stroke="#747474" stroke-width="0.3"/>
<path d="M264.77,427.17 L267.1,432.5 L264.77,437.83" fill="none" stroke="#1e1e1e" stroke-opacity="0.6" stroke-width="0.5"/>
<circle cx="266.5" cy="432.5" r="5.6" fill="none" stroke="#1e1e1e" stroke-opacity="0.5" stroke-width="0.5"/>
<path d="M296.5,432.5 L302.1,432.5 A5.6,5.6 0 0 0 294.77,427.17 Z" fill="#747474" stroke="#747474" stroke-width="0.3"/>
<path d="M296.5,432.5 L294.77,427.17 A5.6,5.6 0 0 0 294.77,437.83 Z" fill="#747474" stroke="#747474" stroke-width="0.3"/>
<path d="M296.5,432.5 L294.77,437.83 A5.6,5.6 0 0 0 302.1,432.5 Z" fill="#747474" stroke="#747474" stroke-width="0.3"/>
<path d="M294.77,427.17 L297.1,432.5 L294.77,437.83" fill="none" stroke="#1e1e1e" stroke-opacity="0.6" stroke-width="0.5"/>
<circle cx="296.5" cy="432.5" r="5.6" fill="none" stroke="#1e1e1e" stroke-opacity="0.5" stroke-width="0.5"/>
<path d="M326.5,432.5 L332.1,432.5 A5.6,5.6 0 0 0 324.77,427.17 Z" fill="#f20dff" stroke="#f20dff" stroke-width="0.3"/>
<path d="M326.5,432.5 L324.77,427.17 A5.6,5.6 0 0 0 324.77,437.83 Z" fill="#f20dff" stroke="#f20dff" stroke-width="0.3"/>
<path d="M326.5,432.5 L324.77,437.83 A5.6,5.6 0 0 0 332.1,432.5 Z" fill="#f20dff" stroke="#f20dff" stroke-width="0.3"/>
<path d="M324.77,427.17 L327.1,432.5 L324.77,437.83" fill="none" stroke="#1e1e1e" stroke-opacity="0.6" stroke-width="0.5"/>
<circle cx="326.5" cy="432.5" r="5.6" fill="none" stroke="#1e1e1e" stroke-opacity="0.5" stroke-width="0.5"/>
<path d="M356.8,432.5 L362.4,432.5 A5.6,5.6 0 0 0 355.07,427.17 Z" fill="#cc33ff" stroke="#cc33ff" stroke-width="0.3"/>
<path d="M356.8,432.5 L355.07,427.17 A5.6,5.6 0 0 0 355.07,437.83 Z" fill="#cc33ff" stroke="#cc33ff" stroke-width="0.3"/>
<path d="M356.8,432.5 L355.07,437.83 A5.6,5.6 0 0 0 362.4,432.5 Z" fill="#cc33ff" stroke="#cc33ff" stroke-width="0.3"/>
<path d="M355.07,427.17 L357.4,432.5 L355.07,437.83" fill="none" stroke="#1e1e1e" stroke-opacity="0.6" stroke-width="0.5"/>
<circle cx="356.8" cy="432.5" r="5.6" fill="none" stroke="#1e1e1e" stroke-opacity="0.5" stroke-width="0.5"/>
<path d="M386.8,432.5 L392.4,432.5 A5.6,5.6 0 0 0 385.07,427.17 Z" fill="#738cff" stroke="#738cff" stroke-width="0.3"/>
<path d="M386.8,432.5 L385.07,427.17 A5.6,5.6 0 0 0 385.07,437.83 Z" fill="#738cff" stroke="#738cff" stroke-width="0.3"/>
<path d="M386.8,432.5 L385.07,437.83 A5.6,5.6 0 0 0 392.4,432.5 Z" fill="#738cff" stroke="#738cff" stroke-width="0.3"/>
<path d="M385.07,427.17 L387.4,432.5 L385.07,437.83" fill="none" stroke="#1e1e1e" stroke-opacity="0.6" stroke-width="0.5"/>
<circle cx="386.8" cy="432.5" r="5.6" fill="none" stroke="#1e1e1e" stroke-opacity="0.5" stroke-width="0.5"/>
<path d="M266.5,460.2 L272.1,460.2 A5.6,5.6 0 0 0 264.77,454.87 Z" fill="#747474" stroke="#747474" stroke-width="0.3"/>
<path d="M266.5,460.2 L264.77,454.87 A5.6,5.6 0 0 0 264.77,465.53 Z" fill="#747474" stroke="#747474" stroke-width="0.3"/>
<path d="M266.5,460.2 L264.77,465.53 A5.6,5.6 0 0 0 272.1,460.2 Z" fill="#747474" stroke="#747474" stroke-width="0.3"/>
<path d="M264.77,454.87 L267.1,460.2 L264.77,465.53" fill="none" stroke="#1e1e1e" stroke-opacity="0.6" stroke-width="0.5"/>
<circle cx="266.5" cy="460.2" r="5.6" fill="none" stroke="#1e1e1e" stroke-opacity="0.5" stroke-width="0.5"/>
<path d="M296.5,460.2 L302.1,460.2 A5.6,5.6 0 0 0 294.77,454.87 Z" fill="#f708ff" stroke="#f708ff" stroke-width="0.3"/>
<path d="M296.5,460.2 L294.77,454.87 A5.6,5.6 0 0 0 294.77,465.53 Z" fill="#f708ff" stroke="#f708ff" stroke-width="0.3"/>
<path d="M296.5,460.2 L294.77,465.53 A5.6,5.6 0 0 0 302.1,460.2 Z" fill="#f708ff" stroke="#f708ff" stroke-width="0.3"/>
<path d="M294.77,454.87 L297.1,460.2 L294.77,465.53" fill="none" stroke="#1e1e1e" stroke-opacity="0.6" stroke-width="0.5"/>
<circle cx="296.5" cy="460.2" r="5.6" fill="none" stroke="#1e1e1e" stroke-opacity="0.5" stroke-width="0.5"/>
<path d="M326.5,460.2 L332.1,460.2 A5.6,5.6 0 0 0 324.77,454.87 Z" fill="#ed12ff" stroke="#ed12ff" stroke-width="0.3"/>
<path d="M326.5,460.2 L324.77,454.87 A5.6,5.6 0 0 0 324.77,465.53 Z" fill="#ed12ff" stroke="#ed12ff" stroke-width="0.3"/>
<path d="M326.5,460.2 L324.77,465.53 A5.6,5.6 0 0 0 332.1,460.2 Z" fill="#ed12ff" stroke="#ed12ff" stroke-width="0.3"/>
<path d="M324.77,454.87 L327.1,460.2 L324.77,465.53" fill="none" stroke="#1e1e1e" stroke-opacity="0.6" stroke-width="0.5"/>
<circle cx="326.5" cy="460.2" r="5.6" fill="none" stroke="#1e1e1e" stroke-opacity="0.5" stroke-width="0.5"/>
<path d="M356.8,460.2 L362.4,460.2 A5.6,5.6 0 0 0 355.07,454.87 Z" fill="#b24dff" stroke="#b24dff" stroke-width="0.3"/>
<path d="M356.8,460.2 L355.07,454.87 A5.6,5.6 0 0 0 355.07,465.53 Z" fill="#b24dff" stroke="#b24dff" stroke-width="0.3"/>
<path d="M356.8,460.2 L355.07,465.53 A5.6,5.6 0 0 0 362.4,460.2 Z" fill="#b24dff" stroke="#b24dff" stroke-width="0.3"/>
<path d="M355.07,454.87 L357.4,460.2 L355.07,465.53" fill="none" stroke="#1e1e1e" stroke-opacity="0.6" stroke-width="0.5"/>
<circle cx="356.8" cy="460.2" r="5.6" fill="none" stroke="#1e1e1e" stroke-opacity="0.5" stroke-width="0.5"/>
<path d="M386.8,460.2 L392.4,460.2 A5.6,5.6 0 0 0 385.07,454.87 Z" fill="#6b94ff" stroke="#6b94ff" stroke-width="0.3"/>
<path d="M386.8,460.2 L385.07,454.87 A5.6,5.6 0 0 0 385.07,465.53 Z" fill="#6b94ff" stroke="#6b94ff" stroke-width="0.3"/>
<path d="M386.8,460.2 L385.07,465.53 A5.6,5.6 0 0 0 392.4,460.2 Z" fill="#6b94ff" stroke="#6b94ff" stroke-width="0.3"/>
<path d="M385.07,454.87 L387.4,460.2 L385.07,465.53" fill="none" stroke="#1e1e1e" stroke-opacity="0.6" stroke-width="0.5"/>
<circle cx="386.8" cy="460.2" r="5.6" fill="none" stroke="#1e1e1e" stroke-opacity="0.5" stroke-width="0.5"/>
<path d="M266.5,487.5 L272.1,487.5 A5.6,5.6 0 0 0 264.77,482.17 Z" fill="#fa05ff" stroke="#fa05ff" stroke-width="0.3"/>
<path d="M266.5,487.5 L264.77,482.17 A5.6,5.6 0 0 0 264.77,492.83 Z" fill="#fa05ff" stroke="#fa05ff" stroke-width="0.3"/>
<path d="M266.5,487.5 L264.77,492.83 A5.6,5.6 0 0 0 272.1,487.5 Z" fill="#fa05ff" stroke="#fa05ff" stroke-width="0.3"/>
<path d="M264.77,482.17 L267.1,487.5 L264.77,492.83" fill="none" stroke="#1e1e1e" stroke-opacity="0.6" stroke-width="0.5"/>
<circle cx="266.5" cy="487.5" r="5.6" fill="none" stroke="#1e1e1e" stroke-opacity="0.5" stroke-width="0.5"/>
<path d="M296.5,487.5 L302.1,487.5 A5.6,5.6 0 0 0 294.77,482.17 Z" fill="#ed12ff" stroke="#ed12ff" stroke-width="0.3"/>
<path d="M296.5,487.5 L294.77,482.17 A5.6,5.6 0 0 0 294.77,492.83 Z" fill="#ed12ff" stroke="#ed12ff" stroke-width="0.3"/>
<path d="M296.5,487.5 L294.77,492.83 A5.6,5.6 0 0 0 302.1,487.5 Z" fill="#ed12ff" stroke="#ed12ff" stroke-width="0.3"/>
<path d="M294.77,482.17 L297.1,487.5 L294.77,492.83" fill="none" stroke="#1e1e1e" stroke-opacity="0.6" stroke-width="0.5"/>
<circle cx="296.5" cy="487.5" r="5.6" fill="none" stroke="#1e1e1e" stroke-opacity="0.5" stroke-width="0.5"/>
<path d="M326.5,487.5 L332.1,487.5 A5.6,5.6 0 0 0 324.77,482.17 Z" fill="#e01fff" stroke="#e01fff" stroke-width="0.3"/>
<path d="M326.5,487.5 L324.77,482.17 A5.6,5.6 0 0 0 324.77,492.83 Z" fill="#e01fff" stroke="#e01fff" stroke-width="0.3"/>
<path d="M326.5,487.5 L324.77,492.83 A5.6,5.6 0 0 0 332.1,487.5 Z" fill="#e01fff" stroke="#e01fff" stroke-width="0.3"/>
<path d="M324.77,482.17 L327.1,487.5 L324.77,492.83" fill="none" stroke="#1e1e1e" stroke-opacity="0.6" stroke-width="0.5"/>
<circle cx="326.5" cy="487.5" r="5.6" fill="none" stroke="#1e1e1e" stroke-opacity="0.5" stroke-width="0.5"/>
<path d="M356.8,487.5 L362.4,487.5 A5.6,5.6 0 0 0 355.07,482.17 Z" fill="#a659ff" stroke="#a659ff" stroke-width="0.3"/>
<path d="M356.8,487.5 L355.07,482.17 A5.6,5.6 0 0 0 355.07,492.83 Z" fill="#a659ff" stroke="#a659ff" stroke-width="0.3"/>
<path d="M356.8,487.5 L355.07,492.83 A5.6,5.6 0 0 0 362.4,487.5 Z" fill="#a659ff" stroke="#a659ff" stroke-width="0.3"/>
<path d="M355.07,482.17 L357.4,487.5 L355.07,492.83" fill="none" stroke="#1e1e1e" stroke-opacity="0.6" stroke-width="0.5"/>
<circle cx="356.8" cy="487.5" r="5.6" fill="none" stroke="#1e1e1e" stroke-opacity="0.5" stroke-width="0.5"/>
<path d="M386.8,487.5 L392.4,487.5 A5.6,5.6 0 0 0 385.07,482.17 Z" fill="#59a6ff" stroke="#59a6ff" stroke-width="0.3"/>
<path d="M386.8,487.5 L385.07,482.17 A5.6,5.6 0 0 0 385.07,492.83 Z" fill="#59a6ff" stroke="#59a6ff" stroke-width="0.3"/>
<path d="M386.8,487.5 L385.07,492.83 A5.6,5.6 0 0 0 392.4,487.5 Z" fill="#59a6ff" stroke="#59a6ff" stroke-width="0.3"/>
<path d="M385.07,482.17 L387.4,487.5 L385.07,492.83" fill="none" stroke="#1e1e1e" stroke-opacity="0.6" stroke-width="0.5"/>
<circle cx="386.8" cy="487.5" r="5.6" fill="none" stroke="#1e1e1e" stroke-opacity="0.5" stroke-width="0.5"/>
<path d="M266.5,515.2 L272.1,515.2 A5.6,5.6 0 0 0 264.77,509.87 Z" fill="#d926ff" stroke="#d926ff" stroke-width="0.3"/>
<path d="M266.5,515.2 L264.77,509.87 A5.6,5.6 0 0 0 264.77,520.53 Z" fill="#d926ff" stroke="#d926ff" stroke-width="0.3"/>
<path d="M266.5,515.2 L264.77,520.53 A5.6,5.6 0 0 0 272.1,515.2 Z" fill="#d926ff" stroke="#d926ff" stroke-width="0.3"/>
<path d="M264.77,509.87 L267.1,515.2 L264.77,520.53" fill="none" stroke="#1e1e1e" stroke-opacity="0.6" stroke-width="0.5"/>
<circle cx="266.5" cy="515.2" r="5.6" fill="none" stroke="#1e1e1e" stroke-opacity="0.5" stroke-width="0.5"/>
<path d="M296.5,515.2 L302.1,515.2 A5.6,5.6 0 0 0 294.77,509.87 Z" fill="#cc33ff" stroke="#cc33ff" stroke-width="0.3"/>
<path d="M296.5,515.2 L294.77,509.87 A5.6,5.6 0 0 0 294.77,520.53 Z" fill="#cc33ff" stroke="#cc33ff" stroke-width="0.3"/>
<path d="M296.5,515.2 L294.77,520.53 A5.6,5.6 0 0 0 302.1,515.2 Z" fill="#cc33ff" stroke="#cc33ff" stroke-width="0.3"/>
<path d="M294.77,509.87 L297.1,515.2 L294.77,520.53" fill="none" stroke="#1e1e1e" stroke-opacity="0.6" stroke-width="0.5"/>
<circle cx="296.5" cy="515.2" r="5.6" fill="none" stroke="#1e1e1e" stroke-opacity="0.5" stroke-width="0.5"/>
<path d="M326.5,515.2 L332.1,515.2 A5.6,5.6 0 0 0 324.77,509.87 Z" fill="#b24dff" stroke="#b24dff" stroke-width="0.3"/>
<path d="M326.5,515.2 L324.77,509.87 A5.6,5.6 0 0 0 324.77,520.53 Z" fill="#b24dff" stroke="#b24dff" stroke-width="0.3"/>
<path d="M326.5,515.2 L324.77,520.53 A5.6,5.6 0 0 0 332.1,515.2 Z" fill="#b24dff" stroke="#b24dff" stroke-width="0.3"/>
<path d="M324.77,509.87 L327.1,515.2 L324.77,520.53" fill="none" stroke="#1e1e1e" stroke-opacity="0.6" stroke-width="0.5"/>
<circle cx="326.5" cy="515.2" r="5.6" fill="none" stroke="#1e1e1e" stroke-opacity="0.5" stroke-width="0.5"/>
<path d="M356.8,515.2 L362.4,515.2 A5.6,5.6 0 0 0 355.07,509.87 Z" fill="#8080ff" stroke="#8080ff" stroke-width="0.3"/>
<path d="M356.8,515.2 L355.07,509.87 A5.6,5.6 0 0 0 355.07,520.53 Z" fill="#8080ff" stroke="#8080ff" stroke-width="0.3"/>
<path d="M356.8,515.2 L355.07,520.53 A5.6,5.6 0 0 0 362.4,515.2 Z" fill="#8080ff" stroke="#8080ff" stroke-width="0.3"/>
<path d="M355.07,509.87 L357.4,515.2 L355.07,520.53" fill="none" stroke="#1e1e1e" stroke-opacity="0.6" stroke-width="0.5"/>
<circle cx="356.8" cy="515.2" r="5.6" fill="none" stroke="#1e1e1e" stroke-opacity="0.5" stroke-width="0.5"/>
<path d="M386.8,515.2 L392.4,515.2 A5.6,5.6 0 0 0 385.07,509.87 Z" fill="#33ccff" stroke="#33ccff" stroke-width="0.3"/>
<path d="M386.8,515.2 L385.07,509.87 A5.6,5.6 0 0 0 385.07,520.53 Z" fill="#33ccff" stroke="#33ccff" stroke-width="0.3"/>
<path d="M386.8,515.2 L385.07,520.53 A5.6,5.6 0 0 0 392.4,515.2 Z" fill="#33ccff" stroke="#33ccff" stroke-width="0.3"/>
<path d="M385.07,509.87 L387.4,515.2 L385.07,520.53" fill="none" stroke="#1e1e1e" stroke-opacity="0.6" stroke-width="0.5"/>
<circle cx="386.8" cy="515.2" r="5.6" fill="none" stroke="#1e1e1e" stroke-opacity="0.5" stroke-width="0.5"/>
<path d="M266.5,542.8 L272.1,542.8 A5.6,5.6 0 0 0 264.77,537.47 Z" fill="#1fe0ff" stroke="#1fe0ff" stroke-width="0.3"/>
<path d="M266.5,542.8 L264.77,537.47 A5.6,5.6 0 0 0 264.77,548.13 Z" fill="#1fe0ff" stroke="#1fe0ff" stroke-width="0.3"/>
<path d="M266.5,542.8 L264.77,548.13 A5.6,5.6 0 0 0 272.1,542.8 Z" fill="#1fe0ff" stroke="#1fe0ff" stroke-width="0.3"/>
<path d="M264.77,537.47 L267.1,542.8 L264.77,548.13" fill="none" stroke="#1e1e1e" stroke-opacity="0.6" stroke-width="0.5"/>
<circle cx="266.5" cy="542.8" r="5.6" fill="none" stroke="#1e1e1e" stroke-opacity="0.5" stroke-width="0.5"/>
<path d="M296.5,542.8 L302.1,542.8 A5.6,5.6 0 0 0 294.77,537.47 Z" fill="#1fe0ff" stroke="#1fe0ff" stroke-width="0.3"/>
<path d="M296.5,542.8 L294.77,537.47 A5.6,5.6 0 0 0 294.77,548.13 Z" fill="#1fe0ff" stroke="#1fe0ff" stroke-width="0.3"/>
<path d="M296.5,542.8 L294.77,548.13 A5.6,5.6 0 0 0 302.1,542.8 Z" fill="#1fe0ff" stroke="#1fe0ff" stroke-width="0.3"/>
<path d="M294.77,537.47 L297.1,542.8 L294.77,548.13" fill="none" stroke="#1e1e1e" stroke-opacity="0.6" stroke-width="0.5"/>
<circle cx="296.5" cy="542.8" r="5.6" fill="none" stroke="#1e1e1e" stroke-opacity="0.5" stroke-width="0.5"/>
<path d="M326.5,542.8 L332.1,542.8 A5.6,5.6 0 0 0 324.77,537.47 Z" fill="#1ae6ff" stroke="#1ae6ff" stroke-width="0.3"/>
<path d="M326.5,542.8 L324.77,537.47 A5.6,5.6 0 0 0 324.77,548.13 Z" fill="#1ae6ff" stroke="#1ae6ff" stroke-width="0.3"/>
<path d="M326.5,542.8 L324.77,548.13 A5.6,5.6 0 0 0 332.1,542.8 Z" fill="#1ae6ff" stroke="#1ae6ff" stroke-width="0.3"/>
<path d="M324.77,537.47 L327.1,542.8 L324.77,548.13" fill="none" stroke="#1e1e1e" stroke-opacity="0.6" stroke-width="0.5"/>
<circle cx="326.5" cy="542.8" r="5.6" fill="none" stroke="#1e1e1e" stroke-opacity="0.5" stroke-width="0.5"/>
<path d="M356.8,542.8 L362.4,542.8 A5.6,5.6 0 0 0 355.07,537.47 Z" fill="#14ebff" stroke="#14ebff" stroke-width="0.3"/>
<path d="M356.8,542.8 L355.07,537.47 A5.6,5.6 0 0 0 355.07,548.13 Z" fill="#14ebff" stroke="#14ebff" stroke-width="0.3"/>
<path d="M356.8,542.8 L355.07,548.13 A5.6,5.6 0 0 0 362.4,542.8 Z" fill="#14ebff" stroke="#14ebff" stroke-width="0.3"/>
<path d="M355.07,537.47 L357.4,542.8 L355.07,548.13" fill="none" stroke="#1e1e1e" stroke-opacity="0.6" stroke-width="0.5"/>
<circle cx="356.8" cy="542.8" r="5.6" fill="none" stroke="#1e1e1e" stroke-opacity="0.5" stroke-width="0.5"/>
<path d="M386.8,542.8 L392.4,542.8 A5.6,5.6 0 0 0 385.07,537.47 Z" fill="#08f7ff" stroke="#08f7ff" stroke-width="0.3"/>
<path d="M386.8,542.8 L385.07,537.47 A5.6,5.6 0 0 0 385.07,548.13 Z" fill="#08f7ff" stroke="#08f7ff" stroke-width="0.3"/>
<path d="M386.8,542.8 L385.07,548.13 A5.6,5.6 0 0 0 392.4,542.8 Z" fill="#08f7ff" stroke="#08f7ff" stroke-width="0.3"/>
<path d="M385.07,537.47 L387.4,542.8 L385.07,548.13" fill="none" stroke="#1e1e1e" stroke-opacity="0.6" stroke-width="0.5"/>
<circle cx="386.8" cy="542.8" r="5.6" fill="none" stroke="#1e1e1e" stroke-opacity="0.5" stroke-width="0.5"/>
<text x="293.9" y="453.9" font-size="6.0" font-family="Liberation Serif" fill="#3a3a3a" font-style="italic">p</text>
<text x="297" y="454.8" font-size="4.0" font-family="Liberation Serif" fill="#3a3a3a">1</text>
<text x="323.9" y="481.2" font-size="6.0" font-family="Liberation Serif" fill="#3a3a3a" font-style="italic">p</text>
<text x="327" y="482.1" font-size="4.0" font-family="Liberation Serif" fill="#3a3a3a">2</text>
<text x="354.2" y="508.9" font-size="6.0" font-family="Liberation Serif" fill="#3a3a3a" font-style="italic">p</text>
<text x="357.3" y="509.8" font-size="4.0" font-family="Liberation Serif" fill="#3a3a3a">3</text>
<rect x="257.5" y="423.8" width="138.8" height="128.7" fill="none" stroke="#555" stroke-width="0.6"/>
<line x1="266.5" y1="552.5" x2="266.5" y2="554.3" stroke="#555" stroke-width="0.6" />
<text x="266.5" y="560.7" font-size="5.8" font-family="Liberation Sans" fill="#262626" text-anchor="middle" textLength="7" lengthAdjust="spacingAndGlyphs">81</text>
<line x1="296.5" y1="552.5" x2="296.5" y2="554.3" stroke="#555" stroke-width="0.6" />
<text x="296.5" y="560.7" font-size="5.8" font-family="Liberation Sans" fill="#262626" text-anchor="middle" textLength="7" lengthAdjust="spacingAndGlyphs">83</text>
<line x1="326.5" y1="552.5" x2="326.5" y2="554.3" stroke="#555" stroke-width="0.6" />
<text x="326.5" y="560.7" font-size="5.8" font-family="Liberation Sans" fill="#262626" text-anchor="middle" textLength="7" lengthAdjust="spacingAndGlyphs">85</text>
<line x1="356.8" y1="552.5" x2="356.8" y2="554.3" stroke="#555" stroke-width="0.6" />
<text x="356.8" y="560.7" font-size="5.8" font-family="Liberation Sans" fill="#262626" text-anchor="middle" textLength="7" lengthAdjust="spacingAndGlyphs">87</text>
<line x1="386.8" y1="552.5" x2="386.8" y2="554.3" stroke="#555" stroke-width="0.6" />
<text x="386.8" y="560.7" font-size="5.8" font-family="Liberation Sans" fill="#262626" text-anchor="middle" textLength="7" lengthAdjust="spacingAndGlyphs">89</text>
<line x1="255.7" y1="432.5" x2="257.5" y2="432.5" stroke="#555" stroke-width="0.6" />
<text x="254.1" y="434.6" font-size="5.8" font-family="Liberation Sans" fill="#262626" text-anchor="end" textLength="10.2" lengthAdjust="spacingAndGlyphs">250</text>
<line x1="255.7" y1="460.2" x2="257.5" y2="460.2" stroke="#555" stroke-width="0.6" />
<text x="254.1" y="462.3" font-size="5.8" font-family="Liberation Sans" fill="#262626" text-anchor="end" textLength="10.2" lengthAdjust="spacingAndGlyphs">200</text>
<line x1="255.7" y1="487.5" x2="257.5" y2="487.5" stroke="#555" stroke-width="0.6" />
<text x="254.1" y="489.6" font-size="5.8" font-family="Liberation Sans" fill="#262626" text-anchor="end" textLength="10.2" lengthAdjust="spacingAndGlyphs">150</text>
<line x1="255.7" y1="515.2" x2="257.5" y2="515.2" stroke="#555" stroke-width="0.6" />
<text x="254.1" y="517.3" font-size="5.8" font-family="Liberation Sans" fill="#262626" text-anchor="end" textLength="10.2" lengthAdjust="spacingAndGlyphs">100</text>
<line x1="255.7" y1="542.8" x2="257.5" y2="542.8" stroke="#555" stroke-width="0.6" />
<text x="254.1" y="544.9" font-size="5.8" font-family="Liberation Sans" fill="#262626" text-anchor="end" textLength="6.8" lengthAdjust="spacingAndGlyphs">50</text>
<text x="321.9" y="567.5" font-size="5.8" font-family="Liberation Sans" fill="#262626">α[</text>
<text x="327.1" y="566.7" font-size="4.2" font-family="Liberation Sans" fill="#262626">°</text>
<text x="329.7" y="567.5" font-size="5.8" font-family="Liberation Sans" fill="#262626">]</text>
<text transform="translate(238.6,488.15) rotate(-90)" font-family="Liberation Sans" font-size="5.8" fill="#262626" text-anchor="middle" textLength="27" lengthAdjust="spacingAndGlyphs">E/σ<tspan font-size="4.0" dy="1.3">max</tspan><tspan dy="-1.3"> [-]</tspan></text>
<rect x="405.3" y="423.8" width="25.2" height="128.4" fill="url(#g405)" stroke="#555" stroke-width="0.6"/>
<line x1="430.5" y1="535.09" x2="432.3" y2="535.09" stroke="#555" stroke-width="0.6" />
<text x="433.7" y="537.19" font-size="5.8" font-family="Liberation Sans" fill="#262626" textLength="6.6" lengthAdjust="spacingAndGlyphs">10</text>
<line x1="430.5" y1="511.36" x2="432.3" y2="511.36" stroke="#555" stroke-width="0.6" />
<text x="433.7" y="513.46" font-size="5.8" font-family="Liberation Sans" fill="#262626" textLength="6.6" lengthAdjust="spacingAndGlyphs">20</text>
<line x1="430.5" y1="487.63" x2="432.3" y2="487.63" stroke="#555" stroke-width="0.6" />
<text x="433.7" y="489.73" font-size="5.8" font-family="Liberation Sans" fill="#262626" textLength="6.6" lengthAdjust="spacingAndGlyphs">30</text>
<line x1="430.5" y1="463.9" x2="432.3" y2="463.9" stroke="#555" stroke-width="0.6" />
<text x="433.7" y="466" font-size="5.8" font-family="Liberation Sans" fill="#262626" textLength="6.6" lengthAdjust="spacingAndGlyphs">40</text>
<line x1="430.5" y1="440.17" x2="432.3" y2="440.17" stroke="#555" stroke-width="0.6" />
<text x="433.7" y="442.27" font-size="5.8" font-family="Liberation Sans" fill="#262626" textLength="6.6" lengthAdjust="spacingAndGlyphs">50</text>
<text transform="translate(448.6,488) rotate(-90)" font-family="Liberation Sans" font-size="5.8" fill="#262626" text-anchor="middle" textLength="61" lengthAdjust="spacingAndGlyphs">yielding contacts [%]</text>
<line x1="40" y1="610" x2="40" y2="686" stroke="#d4d4d4" stroke-width="0.8" />
<line x1="71.67" y1="610" x2="71.67" y2="686" stroke="#d4d4d4" stroke-width="0.8" />
<line x1="103.33" y1="610" x2="103.33" y2="686" stroke="#d4d4d4" stroke-width="0.8" />
<line x1="135" y1="610" x2="135" y2="686" stroke="#d4d4d4" stroke-width="0.8" />
<line x1="39.25" y1="671" x2="140" y2="671" stroke="#d4d4d4" stroke-width="0.8" />
<line x1="39.25" y1="635.25" x2="140" y2="635.25" stroke="#d4d4d4" stroke-width="0.8" />
<g clip-path="url(#c39_610)">
<circle cx="51.84" cy="672.36" r="1.8" fill="#a2a2a2" stroke="#454545" stroke-width="0.5"/>
<circle cx="53.71" cy="673.23" r="1.8" fill="#a2a2a2" stroke="#454545" stroke-width="0.5"/>
<circle cx="60.05" cy="674.59" r="1.8" fill="#a2a2a2" stroke="#454545" stroke-width="0.5"/>
<circle cx="52.07" cy="671.8" r="1.8" fill="#a2a2a2" stroke="#454545" stroke-width="0.5"/>
<circle cx="52.8" cy="673.68" r="1.8" fill="#a2a2a2" stroke="#454545" stroke-width="0.5"/>
<circle cx="54.19" cy="664.75" r="1.8" fill="#a2a2a2" stroke="#454545" stroke-width="0.5"/>
<circle cx="47.17" cy="674.48" r="1.8" fill="#a2a2a2" stroke="#454545" stroke-width="0.5"/>
<circle cx="52.87" cy="669.03" r="1.8" fill="#a2a2a2" stroke="#454545" stroke-width="0.5"/>
<circle cx="54.93" cy="674.73" r="1.8" fill="#a2a2a2" stroke="#454545" stroke-width="0.5"/>
<circle cx="57.77" cy="671.74" r="1.8" fill="#a2a2a2" stroke="#454545" stroke-width="0.5"/>
<circle cx="45.6" cy="672.28" r="1.8" fill="#a2a2a2" stroke="#454545" stroke-width="0.5"/>
<circle cx="49.24" cy="669.32" r="1.8" fill="#a2a2a2" stroke="#454545" stroke-width="0.5"/>
<circle cx="45.54" cy="674.76" r="1.8" fill="#a2a2a2" stroke="#454545" stroke-width="0.5"/>
<circle cx="58.06" cy="671.46" r="1.8" fill="#a2a2a2" stroke="#454545" stroke-width="0.5"/>
<circle cx="56.04" cy="673.15" r="1.8" fill="#a2a2a2" stroke="#454545" stroke-width="0.5"/>
<circle cx="44.69" cy="672.61" r="1.8" fill="#a2a2a2" stroke="#454545" stroke-width="0.5"/>
<circle cx="61.06" cy="670.57" r="1.8" fill="#a2a2a2" stroke="#454545" stroke-width="0.5"/>
<circle cx="60.76" cy="670.36" r="1.8" fill="#a2a2a2" stroke="#454545" stroke-width="0.5"/>
<circle cx="55.35" cy="668.55" r="1.8" fill="#a2a2a2" stroke="#454545" stroke-width="0.5"/>
<circle cx="54.68" cy="667.85" r="1.8" fill="#a2a2a2" stroke="#454545" stroke-width="0.5"/>
<circle cx="46.7" cy="672.42" r="1.8" fill="#a2a2a2" stroke="#454545" stroke-width="0.5"/>
<circle cx="44.22" cy="667.11" r="1.8" fill="#a2a2a2" stroke="#454545" stroke-width="0.5"/>
<circle cx="53.16" cy="677.11" r="1.8" fill="#a2a2a2" stroke="#454545" stroke-width="0.5"/>
<circle cx="45" cy="667.35" r="1.8" fill="#a2a2a2" stroke="#454545" stroke-width="0.5"/>
<circle cx="47.27" cy="677.7" r="1.8" fill="#a2a2a2" stroke="#454545" stroke-width="0.5"/>
<circle cx="48.17" cy="675.13" r="1.8" fill="#a2a2a2" stroke="#454545" stroke-width="0.5"/>
<circle cx="44.48" cy="673.37" r="1.8" fill="#a2a2a2" stroke="#454545" stroke-width="0.5"/>
<circle cx="52.04" cy="676.78" r="1.8" fill="#a2a2a2" stroke="#454545" stroke-width="0.5"/>
<circle cx="51.63" cy="661.64" r="1.8" fill="#a2a2a2" stroke="#454545" stroke-width="0.5"/>
<circle cx="58.63" cy="675.09" r="1.8" fill="#a2a2a2" stroke="#454545" stroke-width="0.5"/>
<circle cx="53" cy="668.38" r="1.8" fill="#a2a2a2" stroke="#454545" stroke-width="0.5"/>
<circle cx="55.11" cy="676.21" r="1.8" fill="#a2a2a2" stroke="#454545" stroke-width="0.5"/>
<circle cx="52.66" cy="671.18" r="1.8" fill="#a2a2a2" stroke="#454545" stroke-width="0.5"/>
<circle cx="55.5" cy="673.9" r="1.8" fill="#a2a2a2" stroke="#454545" stroke-width="0.5"/>
<circle cx="51.92" cy="668.82" r="1.8" fill="#a2a2a2" stroke="#454545" stroke-width="0.5"/>
<circle cx="48.8" cy="671.47" r="1.8" fill="#a2a2a2" stroke="#454545" stroke-width="0.5"/>
<circle cx="61.33" cy="673.41" r="1.8" fill="#a2a2a2" stroke="#454545" stroke-width="0.5"/>
<circle cx="61.3" cy="672.93" r="1.8" fill="#a2a2a2" stroke="#454545" stroke-width="0.5"/>
<circle cx="58.59" cy="667.35" r="1.8" fill="#a2a2a2" stroke="#454545" stroke-width="0.5"/>
<circle cx="56.29" cy="679.85" r="1.8" fill="#a2a2a2" stroke="#454545" stroke-width="0.5"/>
<circle cx="49.45" cy="676.22" r="1.8" fill="#a2a2a2" stroke="#454545" stroke-width="0.5"/>
<circle cx="47.96" cy="670.17" r="1.8" fill="#a2a2a2" stroke="#454545" stroke-width="0.5"/>
<circle cx="48.99" cy="675.92" r="1.8" fill="#a2a2a2" stroke="#454545" stroke-width="0.5"/>
<circle cx="45.18" cy="670.02" r="1.8" fill="#a2a2a2" stroke="#454545" stroke-width="0.5"/>
<circle cx="57.3" cy="672.41" r="1.8" fill="#a2a2a2" stroke="#454545" stroke-width="0.5"/>
<circle cx="50.93" cy="669.1" r="1.8" fill="#a2a2a2" stroke="#454545" stroke-width="0.5"/>
<circle cx="86.54" cy="647.85" r="1.8" fill="#a2a2a2" stroke="#454545" stroke-width="0.5"/>
<circle cx="74.15" cy="654.05" r="1.8" fill="#a2a2a2" stroke="#454545" stroke-width="0.5"/>
<circle cx="89.54" cy="653.14" r="1.8" fill="#a2a2a2" stroke="#454545" stroke-width="0.5"/>
<circle cx="86.56" cy="642.25" r="1.8" fill="#a2a2a2" stroke="#454545" stroke-width="0.5"/>
<circle cx="63.76" cy="663.11" r="1.8" fill="#a2a2a2" stroke="#454545" stroke-width="0.5"/>
<circle cx="69.39" cy="662.51" r="1.8" fill="#a2a2a2" stroke="#454545" stroke-width="0.5"/>
<circle cx="88.25" cy="648.15" r="1.8" fill="#a2a2a2" stroke="#454545" stroke-width="0.5"/>
<circle cx="76.4" cy="647.96" r="1.8" fill="#a2a2a2" stroke="#454545" stroke-width="0.5"/>
<circle cx="90.14" cy="651.32" r="1.8" fill="#a2a2a2" stroke="#454545" stroke-width="0.5"/>
<circle cx="74.45" cy="660.68" r="1.8" fill="#a2a2a2" stroke="#454545" stroke-width="0.5"/>
<circle cx="65.72" cy="658.15" r="1.8" fill="#a2a2a2" stroke="#454545" stroke-width="0.5"/>
<circle cx="80.69" cy="652.98" r="1.8" fill="#a2a2a2" stroke="#454545" stroke-width="0.5"/>
<circle cx="84.7" cy="650.92" r="1.8" fill="#a2a2a2" stroke="#454545" stroke-width="0.5"/>
<circle cx="71.01" cy="650.83" r="1.8" fill="#a2a2a2" stroke="#454545" stroke-width="0.5"/>
<circle cx="66.1" cy="657.21" r="1.8" fill="#a2a2a2" stroke="#454545" stroke-width="0.5"/>
<circle cx="72.7" cy="665.55" r="1.8" fill="#a2a2a2" stroke="#454545" stroke-width="0.5"/>
<circle cx="89.7" cy="649.12" r="1.8" fill="#a2a2a2" stroke="#454545" stroke-width="0.5"/>
<circle cx="84.15" cy="655.63" r="1.8" fill="#a2a2a2" stroke="#454545" stroke-width="0.5"/>
<circle cx="66.93" cy="648.13" r="1.8" fill="#a2a2a2" stroke="#454545" stroke-width="0.5"/>
<circle cx="70.38" cy="639.97" r="1.8" fill="#a2a2a2" stroke="#454545" stroke-width="0.5"/>
<circle cx="66.47" cy="664.01" r="1.8" fill="#a2a2a2" stroke="#454545" stroke-width="0.5"/>
<circle cx="65.36" cy="662.38" r="1.8" fill="#a2a2a2" stroke="#454545" stroke-width="0.5"/>
<circle cx="85.2" cy="648.44" r="1.8" fill="#a2a2a2" stroke="#454545" stroke-width="0.5"/>
<circle cx="68.53" cy="656.7" r="1.8" fill="#a2a2a2" stroke="#454545" stroke-width="0.5"/>
<circle cx="78.8" cy="643.16" r="1.8" fill="#a2a2a2" stroke="#454545" stroke-width="0.5"/>
<circle cx="75.79" cy="658.95" r="1.8" fill="#a2a2a2" stroke="#454545" stroke-width="0.5"/>
<circle cx="68.88" cy="644.95" r="1.8" fill="#a2a2a2" stroke="#454545" stroke-width="0.5"/>
<circle cx="83.45" cy="652.57" r="1.8" fill="#a2a2a2" stroke="#454545" stroke-width="0.5"/>
<circle cx="67.27" cy="647.74" r="1.8" fill="#a2a2a2" stroke="#454545" stroke-width="0.5"/>
<circle cx="81.08" cy="652" r="1.8" fill="#a2a2a2" stroke="#454545" stroke-width="0.5"/>
<circle cx="66.89" cy="664.24" r="1.8" fill="#a2a2a2" stroke="#454545" stroke-width="0.5"/>
<circle cx="75.07" cy="660.55" r="1.8" fill="#a2a2a2" stroke="#454545" stroke-width="0.5"/>
<circle cx="69.48" cy="660.44" r="1.8" fill="#a2a2a2" stroke="#454545" stroke-width="0.5"/>
<circle cx="71.01" cy="662.54" r="1.8" fill="#a2a2a2" stroke="#454545" stroke-width="0.5"/>
<circle cx="89.88" cy="654.28" r="1.8" fill="#a2a2a2" stroke="#454545" stroke-width="0.5"/>
<circle cx="85.37" cy="660.46" r="1.8" fill="#a2a2a2" stroke="#454545" stroke-width="0.5"/>
<circle cx="71.94" cy="650.37" r="1.8" fill="#a2a2a2" stroke="#454545" stroke-width="0.5"/>
<circle cx="87.57" cy="651.26" r="1.8" fill="#a2a2a2" stroke="#454545" stroke-width="0.5"/>
<circle cx="69.42" cy="648.17" r="1.8" fill="#a2a2a2" stroke="#454545" stroke-width="0.5"/>
<circle cx="74.36" cy="653.24" r="1.8" fill="#a2a2a2" stroke="#454545" stroke-width="0.5"/>
<circle cx="109.6" cy="625.86" r="1.8" fill="#a2a2a2" stroke="#454545" stroke-width="0.5"/>
<circle cx="104.89" cy="642.2" r="1.8" fill="#a2a2a2" stroke="#454545" stroke-width="0.5"/>
<circle cx="92.89" cy="642.67" r="1.8" fill="#a2a2a2" stroke="#454545" stroke-width="0.5"/>
<circle cx="112.59" cy="645.31" r="1.8" fill="#a2a2a2" stroke="#454545" stroke-width="0.5"/>
<circle cx="95.39" cy="653.56" r="1.8" fill="#a2a2a2" stroke="#454545" stroke-width="0.5"/>
<circle cx="96.39" cy="650.16" r="1.8" fill="#a2a2a2" stroke="#454545" stroke-width="0.5"/>
<circle cx="107.79" cy="660.98" r="1.8" fill="#a2a2a2" stroke="#454545" stroke-width="0.5"/>
<circle cx="97.96" cy="628.26" r="1.8" fill="#a2a2a2" stroke="#454545" stroke-width="0.5"/>
<circle cx="97.23" cy="659.15" r="1.8" fill="#a2a2a2" stroke="#454545" stroke-width="0.5"/>
<circle cx="92.29" cy="672.47" r="1.8" fill="#a2a2a2" stroke="#454545" stroke-width="0.5"/>
<circle cx="92.66" cy="635.22" r="1.8" fill="#a2a2a2" stroke="#454545" stroke-width="0.5"/>
<circle cx="103.58" cy="654.75" r="1.8" fill="#a2a2a2" stroke="#454545" stroke-width="0.5"/>
<circle cx="96.05" cy="654.89" r="1.8" fill="#a2a2a2" stroke="#454545" stroke-width="0.5"/>
<circle cx="103.99" cy="654.3" r="1.8" fill="#a2a2a2" stroke="#454545" stroke-width="0.5"/>
<circle cx="98.9" cy="647.45" r="1.8" fill="#a2a2a2" stroke="#454545" stroke-width="0.5"/>
<circle cx="100.71" cy="649.39" r="1.8" fill="#a2a2a2" stroke="#454545" stroke-width="0.5"/>
<circle cx="111.93" cy="638.5" r="1.8" fill="#a2a2a2" stroke="#454545" stroke-width="0.5"/>
<circle cx="101.39" cy="653.08" r="1.8" fill="#a2a2a2" stroke="#454545" stroke-width="0.5"/>
<circle cx="103.4" cy="647.69" r="1.8" fill="#a2a2a2" stroke="#454545" stroke-width="0.5"/>
<circle cx="109.87" cy="629.71" r="1.8" fill="#a2a2a2" stroke="#454545" stroke-width="0.5"/>
<circle cx="94.72" cy="652.06" r="1.8" fill="#a2a2a2" stroke="#454545" stroke-width="0.5"/>
<circle cx="94.08" cy="654.39" r="1.8" fill="#a2a2a2" stroke="#454545" stroke-width="0.5"/>
<circle cx="110.8" cy="657.23" r="1.8" fill="#a2a2a2" stroke="#454545" stroke-width="0.5"/>
<circle cx="108.79" cy="643.93" r="1.8" fill="#a2a2a2" stroke="#454545" stroke-width="0.5"/>
<circle cx="96.2" cy="646.28" r="1.8" fill="#a2a2a2" stroke="#454545" stroke-width="0.5"/>
<circle cx="94.87" cy="650.04" r="1.8" fill="#a2a2a2" stroke="#454545" stroke-width="0.5"/>
<circle cx="107.06" cy="643.39" r="1.8" fill="#a2a2a2" stroke="#454545" stroke-width="0.5"/>
<circle cx="111.51" cy="646.27" r="1.8" fill="#a2a2a2" stroke="#454545" stroke-width="0.5"/>
<circle cx="95.02" cy="658.43" r="1.8" fill="#a2a2a2" stroke="#454545" stroke-width="0.5"/>
<circle cx="111.73" cy="638.05" r="1.8" fill="#a2a2a2" stroke="#454545" stroke-width="0.5"/>
<circle cx="110.22" cy="648.42" r="1.8" fill="#a2a2a2" stroke="#454545" stroke-width="0.5"/>
<circle cx="104.04" cy="644.57" r="1.8" fill="#a2a2a2" stroke="#454545" stroke-width="0.5"/>
<circle cx="123.93" cy="635.97" r="1.8" fill="#a2a2a2" stroke="#454545" stroke-width="0.5"/>
<circle cx="116.74" cy="646.61" r="1.8" fill="#a2a2a2" stroke="#454545" stroke-width="0.5"/>
<circle cx="113.99" cy="642.56" r="1.8" fill="#a2a2a2" stroke="#454545" stroke-width="0.5"/>
<circle cx="134.11" cy="623.15" r="1.8" fill="#a2a2a2" stroke="#454545" stroke-width="0.5"/>
<circle cx="120.39" cy="639.18" r="1.8" fill="#a2a2a2" stroke="#454545" stroke-width="0.5"/>
<circle cx="128.19" cy="632.61" r="1.8" fill="#a2a2a2" stroke="#454545" stroke-width="0.5"/>
<circle cx="120.8" cy="642.08" r="1.8" fill="#a2a2a2" stroke="#454545" stroke-width="0.5"/>
<circle cx="130.28" cy="628.99" r="1.8" fill="#a2a2a2" stroke="#454545" stroke-width="0.5"/>
<circle cx="126.63" cy="626.7" r="1.8" fill="#a2a2a2" stroke="#454545" stroke-width="0.5"/>
<circle cx="121.56" cy="624.62" r="1.8" fill="#a2a2a2" stroke="#454545" stroke-width="0.5"/>
<circle cx="118.87" cy="624.42" r="1.8" fill="#a2a2a2" stroke="#454545" stroke-width="0.5"/>
<circle cx="128.44" cy="647.1" r="1.8" fill="#a2a2a2" stroke="#454545" stroke-width="0.5"/>
<circle cx="115.43" cy="640.3" r="1.8" fill="#a2a2a2" stroke="#454545" stroke-width="0.5"/>
<circle cx="120.16" cy="626.97" r="1.8" fill="#a2a2a2" stroke="#454545" stroke-width="0.5"/>
<circle cx="126.09" cy="630.6" r="1.8" fill="#a2a2a2" stroke="#454545" stroke-width="0.5"/>
<circle cx="130.89" cy="638.08" r="1.8" fill="#a2a2a2" stroke="#454545" stroke-width="0.5"/>
<circle cx="126.88" cy="643.72" r="1.8" fill="#a2a2a2" stroke="#454545" stroke-width="0.5"/>
<circle cx="121.29" cy="627.43" r="1.8" fill="#a2a2a2" stroke="#454545" stroke-width="0.5"/>
<circle cx="132.52" cy="622.07" r="1.8" fill="#a2a2a2" stroke="#454545" stroke-width="0.5"/>
<circle cx="119.59" cy="624.29" r="1.8" fill="#a2a2a2" stroke="#454545" stroke-width="0.5"/>
<circle cx="112.49" cy="637.81" r="1.8" fill="#a2a2a2" stroke="#454545" stroke-width="0.5"/>
<circle cx="121.06" cy="636.63" r="1.8" fill="#a2a2a2" stroke="#454545" stroke-width="0.5"/>
<circle cx="124.33" cy="631.24" r="1.8" fill="#a2a2a2" stroke="#454545" stroke-width="0.5"/>
<circle cx="115.07" cy="632.18" r="1.8" fill="#a2a2a2" stroke="#454545" stroke-width="0.5"/>
<circle cx="118.89" cy="635.7" r="1.8" fill="#a2a2a2" stroke="#454545" stroke-width="0.5"/>
<circle cx="123.01" cy="650.4" r="1.8" fill="#a2a2a2" stroke="#454545" stroke-width="0.5"/>
<circle cx="126.28" cy="630.84" r="1.8" fill="#a2a2a2" stroke="#454545" stroke-width="0.5"/>
<circle cx="117.63" cy="642.45" r="1.8" fill="#a2a2a2" stroke="#454545" stroke-width="0.5"/>
<circle cx="122.88" cy="627.44" r="1.8" fill="#a2a2a2" stroke="#454545" stroke-width="0.5"/>
<circle cx="131.8" cy="627.67" r="1.8" fill="#a2a2a2" stroke="#454545" stroke-width="0.5"/>
<circle cx="135.01" cy="624.04" r="1.8" fill="#a2a2a2" stroke="#454545" stroke-width="0.5"/>
<circle cx="127.48" cy="638.93" r="1.8" fill="#a2a2a2" stroke="#454545" stroke-width="0.5"/>
<circle cx="127.99" cy="630.07" r="1.8" fill="#a2a2a2" stroke="#454545" stroke-width="0.5"/>
<circle cx="126.46" cy="637.2" r="1.8" fill="#a2a2a2" stroke="#454545" stroke-width="0.5"/>
<circle cx="117.89" cy="627.53" r="1.8" fill="#a2a2a2" stroke="#454545" stroke-width="0.5"/>
<circle cx="113.78" cy="642.55" r="1.8" fill="#a2a2a2" stroke="#454545" stroke-width="0.5"/>
<circle cx="112.6" cy="643.53" r="1.8" fill="#a2a2a2" stroke="#454545" stroke-width="0.5"/>
<circle cx="132.31" cy="649.19" r="1.8" fill="#a2a2a2" stroke="#454545" stroke-width="0.5"/>
<circle cx="128.14" cy="624.11" r="1.8" fill="#a2a2a2" stroke="#454545" stroke-width="0.5"/>
<circle cx="134.11" cy="621.97" r="1.8" fill="#a2a2a2" stroke="#454545" stroke-width="0.5"/>
<circle cx="112.87" cy="641.27" r="1.8" fill="#a2a2a2" stroke="#454545" stroke-width="0.5"/>
<circle cx="127.19" cy="622.02" r="1.8" fill="#a2a2a2" stroke="#454545" stroke-width="0.5"/>
<circle cx="124.92" cy="631.45" r="1.8" fill="#a2a2a2" stroke="#454545" stroke-width="0.5"/>
<circle cx="128.61" cy="629.88" r="1.8" fill="#a2a2a2" stroke="#454545" stroke-width="0.5"/>
<circle cx="122.07" cy="625.63" r="1.8" fill="#a2a2a2" stroke="#454545" stroke-width="0.5"/>
<circle cx="136.58" cy="624.27" r="1.8" fill="#a2a2a2" stroke="#454545" stroke-width="0.5"/>
<circle cx="115.69" cy="646.96" r="1.8" fill="#a2a2a2" stroke="#454545" stroke-width="0.5"/>
<circle cx="125.9" cy="655.11" r="1.8" fill="#a2a2a2" stroke="#454545" stroke-width="0.5"/>
<circle cx="128.71" cy="624.23" r="1.8" fill="#a2a2a2" stroke="#454545" stroke-width="0.5"/>
<circle cx="132.04" cy="640.35" r="1.8" fill="#a2a2a2" stroke="#454545" stroke-width="0.5"/>
<circle cx="128.71" cy="630.77" r="1.8" fill="#a2a2a2" stroke="#454545" stroke-width="0.5"/>
<circle cx="128.18" cy="640.31" r="1.8" fill="#a2a2a2" stroke="#454545" stroke-width="0.5"/>
<circle cx="129.7" cy="642.19" r="1.8" fill="#a2a2a2" stroke="#454545" stroke-width="0.5"/>
<circle cx="132.45" cy="632.39" r="1.8" fill="#a2a2a2" stroke="#454545" stroke-width="0.5"/>
<circle cx="122.7" cy="635.52" r="1.8" fill="#a2a2a2" stroke="#454545" stroke-width="0.5"/>
<circle cx="127.9" cy="630.37" r="1.8" fill="#a2a2a2" stroke="#454545" stroke-width="0.5"/>
<circle cx="132.06" cy="627.9" r="1.8" fill="#a2a2a2" stroke="#454545" stroke-width="0.5"/>
<circle cx="131.31" cy="626.63" r="1.8" fill="#a2a2a2" stroke="#454545" stroke-width="0.5"/>
<circle cx="123.85" cy="636.71" r="1.8" fill="#a2a2a2" stroke="#454545" stroke-width="0.5"/>
<circle cx="129.64" cy="644.65" r="1.8" fill="#a2a2a2" stroke="#454545" stroke-width="0.5"/>
<circle cx="131.13" cy="637.68" r="1.8" fill="#a2a2a2" stroke="#454545" stroke-width="0.5"/>
<circle cx="126.29" cy="644.04" r="1.8" fill="#a2a2a2" stroke="#454545" stroke-width="0.5"/>
<circle cx="127.03" cy="639.31" r="1.8" fill="#a2a2a2" stroke="#454545" stroke-width="0.5"/>
<circle cx="123.25" cy="640.91" r="1.8" fill="#a2a2a2" stroke="#454545" stroke-width="0.5"/>
<circle cx="126.43" cy="648.3" r="1.8" fill="#a2a2a2" stroke="#454545" stroke-width="0.5"/>
<circle cx="126.81" cy="625.12" r="1.8" fill="#a2a2a2" stroke="#454545" stroke-width="0.5"/>
<circle cx="115.89" cy="644.59" r="1.8" fill="#a2a2a2" stroke="#454545" stroke-width="0.5"/>
<circle cx="127.23" cy="622.67" r="1.8" fill="#a2a2a2" stroke="#454545" stroke-width="0.5"/>
<circle cx="135.99" cy="624.05" r="1.8" fill="#a2a2a2" stroke="#454545" stroke-width="0.5"/>
<circle cx="131.52" cy="626.2" r="1.8" fill="#a2a2a2" stroke="#454545" stroke-width="0.5"/>
<circle cx="128.57" cy="642.02" r="1.8" fill="#a2a2a2" stroke="#454545" stroke-width="0.5"/>
<circle cx="123.36" cy="617.61" r="1.8" fill="#a2a2a2" stroke="#454545" stroke-width="0.5"/>
<circle cx="60.58" cy="636.68" r="1.8" fill="#a2a2a2" stroke="#454545" stroke-width="0.5"/>
<circle cx="84.33" cy="629.53" r="1.8" fill="#a2a2a2" stroke="#454545" stroke-width="0.5"/>
<circle cx="135.79" cy="613.8" r="1.8" fill="#a2a2a2" stroke="#454545" stroke-width="0.5"/>
<circle cx="134.21" cy="617.38" r="1.8" fill="#a2a2a2" stroke="#454545" stroke-width="0.5"/>
<circle cx="123.91" cy="642.4" r="1.8" fill="#a2a2a2" stroke="#454545" stroke-width="0.5"/>
<circle cx="127.87" cy="647.76" r="1.8" fill="#a2a2a2" stroke="#454545" stroke-width="0.5"/>
<circle cx="130.25" cy="622.74" r="1.8" fill="#a2a2a2" stroke="#454545" stroke-width="0.5"/>
<circle cx="131.83" cy="625.42" r="1.8" fill="#a2a2a2" stroke="#454545" stroke-width="0.5"/>
</g>
<rect x="39.25" y="610" width="100.75" height="76" fill="none" stroke="#3a3a3a" stroke-width="0.7"/>
<line x1="40" y1="686" x2="40" y2="688.5" stroke="#3a3a3a" stroke-width="0.7" />
<text x="40" y="696.2" font-size="8" font-family="Liberation Sans" fill="#262626" text-anchor="middle" textLength="4.5" lengthAdjust="spacingAndGlyphs" stroke="#262626" stroke-width="0.22">0</text>
<line x1="71.67" y1="686" x2="71.67" y2="688.5" stroke="#3a3a3a" stroke-width="0.7" />
<text x="71.67" y="696.2" font-size="8" font-family="Liberation Sans" fill="#262626" text-anchor="middle" textLength="9" lengthAdjust="spacingAndGlyphs" stroke="#262626" stroke-width="0.22">20</text>
<line x1="103.33" y1="686" x2="103.33" y2="688.5" stroke="#3a3a3a" stroke-width="0.7" />
<text x="103.33" y="696.2" font-size="8" font-family="Liberation Sans" fill="#262626" text-anchor="middle" textLength="9" lengthAdjust="spacingAndGlyphs" stroke="#262626" stroke-width="0.22">40</text>
<line x1="135" y1="686" x2="135" y2="688.5" stroke="#3a3a3a" stroke-width="0.7" />
<text x="135" y="696.2" font-size="8" font-family="Liberation Sans" fill="#262626" text-anchor="middle" textLength="9" lengthAdjust="spacingAndGlyphs" stroke="#262626" stroke-width="0.22">60</text>
<line x1="36.75" y1="671" x2="39.25" y2="671" stroke="#3a3a3a" stroke-width="0.7" />
<text x="35.25" y="673.9" font-size="8" font-family="Liberation Sans" fill="#262626" text-anchor="end" textLength="13.65" lengthAdjust="spacingAndGlyphs" stroke="#262626" stroke-width="0.22">200</text>
<line x1="36.75" y1="635.25" x2="39.25" y2="635.25" stroke="#3a3a3a" stroke-width="0.7" />
<text x="35.25" y="638.15" font-size="8" font-family="Liberation Sans" fill="#262626" text-anchor="end" textLength="13.65" lengthAdjust="spacingAndGlyphs" stroke="#262626" stroke-width="0.22">400</text>
<text x="89.62" y="706.2" font-size="8" font-family="Liberation Sans" fill="#262626" text-anchor="middle" textLength="102.5" lengthAdjust="spacingAndGlyphs" stroke="#262626" stroke-width="0.22">max. yielding contacts [%]</text>
<text x="16.5" y="648.5" font-size="8" font-family="Liberation Sans" fill="#262626" text-anchor="middle" textLength="56" lengthAdjust="spacingAndGlyphs" transform="rotate(-90 16.5 648.5)" stroke="#262626" stroke-width="0.22">slope [kN/mm]</text>
<line x1="186.5" y1="610" x2="186.5" y2="686" stroke="#d4d4d4" stroke-width="0.8" />
<line x1="217.92" y1="610" x2="217.92" y2="686" stroke="#d4d4d4" stroke-width="0.8" />
<line x1="249.33" y1="610" x2="249.33" y2="686" stroke="#d4d4d4" stroke-width="0.8" />
<line x1="280.75" y1="610" x2="280.75" y2="686" stroke="#d4d4d4" stroke-width="0.8" />
<line x1="186.25" y1="683.5" x2="286.75" y2="683.5" stroke="#d4d4d4" stroke-width="0.8" />
<line x1="186.25" y1="653.75" x2="286.75" y2="653.75" stroke="#d4d4d4" stroke-width="0.8" />
<line x1="186.25" y1="624" x2="286.75" y2="624" stroke="#d4d4d4" stroke-width="0.8" />
<g clip-path="url(#c186_610)">
<circle cx="198.24" cy="682.57" r="1.8" fill="#a2a2a2" stroke="#454545" stroke-width="0.5"/>
<circle cx="200.1" cy="680.23" r="1.8" fill="#a2a2a2" stroke="#454545" stroke-width="0.5"/>
<circle cx="206.4" cy="680.07" r="1.8" fill="#a2a2a2" stroke="#454545" stroke-width="0.5"/>
<circle cx="198.47" cy="679.02" r="1.8" fill="#a2a2a2" stroke="#454545" stroke-width="0.5"/>
<circle cx="199.2" cy="677.68" r="1.8" fill="#a2a2a2" stroke="#454545" stroke-width="0.5"/>
<circle cx="200.58" cy="681.26" r="1.8" fill="#a2a2a2" stroke="#454545" stroke-width="0.5"/>
<circle cx="193.62" cy="677.89" r="1.8" fill="#a2a2a2" stroke="#454545" stroke-width="0.5"/>
<circle cx="199.27" cy="677.07" r="1.8" fill="#a2a2a2" stroke="#454545" stroke-width="0.5"/>
<circle cx="201.31" cy="681" r="1.8" fill="#a2a2a2" stroke="#454545" stroke-width="0.5"/>
<circle cx="204.13" cy="678.59" r="1.8" fill="#a2a2a2" stroke="#454545" stroke-width="0.5"/>
<circle cx="192.05" cy="679.16" r="1.8" fill="#a2a2a2" stroke="#454545" stroke-width="0.5"/>
<circle cx="195.67" cy="682.37" r="1.8" fill="#a2a2a2" stroke="#454545" stroke-width="0.5"/>
<circle cx="191.99" cy="677.1" r="1.8" fill="#a2a2a2" stroke="#454545" stroke-width="0.5"/>
<circle cx="204.42" cy="676.67" r="1.8" fill="#a2a2a2" stroke="#454545" stroke-width="0.5"/>
<circle cx="202.41" cy="682.47" r="1.8" fill="#a2a2a2" stroke="#454545" stroke-width="0.5"/>
<circle cx="191.15" cy="678.94" r="1.8" fill="#a2a2a2" stroke="#454545" stroke-width="0.5"/>
<circle cx="207.4" cy="681.38" r="1.8" fill="#a2a2a2" stroke="#454545" stroke-width="0.5"/>
<circle cx="207.1" cy="682.6" r="1.8" fill="#a2a2a2" stroke="#454545" stroke-width="0.5"/>
<circle cx="201.73" cy="682.56" r="1.8" fill="#a2a2a2" stroke="#454545" stroke-width="0.5"/>
<circle cx="201.06" cy="680.11" r="1.8" fill="#a2a2a2" stroke="#454545" stroke-width="0.5"/>
<circle cx="193.15" cy="681.32" r="1.8" fill="#a2a2a2" stroke="#454545" stroke-width="0.5"/>
<circle cx="190.69" cy="682.67" r="1.8" fill="#a2a2a2" stroke="#454545" stroke-width="0.5"/>
<circle cx="199.56" cy="678.27" r="1.8" fill="#a2a2a2" stroke="#454545" stroke-width="0.5"/>
<circle cx="191.46" cy="680.39" r="1.8" fill="#a2a2a2" stroke="#454545" stroke-width="0.5"/>
<circle cx="193.71" cy="683.01" r="1.8" fill="#a2a2a2" stroke="#454545" stroke-width="0.5"/>
<circle cx="194.61" cy="678.99" r="1.8" fill="#a2a2a2" stroke="#454545" stroke-width="0.5"/>
<circle cx="190.95" cy="681.21" r="1.8" fill="#a2a2a2" stroke="#454545" stroke-width="0.5"/>
<circle cx="198.44" cy="680.48" r="1.8" fill="#a2a2a2" stroke="#454545" stroke-width="0.5"/>
<circle cx="198.04" cy="680.83" r="1.8" fill="#a2a2a2" stroke="#454545" stroke-width="0.5"/>
<circle cx="204.98" cy="677.26" r="1.8" fill="#a2a2a2" stroke="#454545" stroke-width="0.5"/>
<circle cx="199.4" cy="679.27" r="1.8" fill="#a2a2a2" stroke="#454545" stroke-width="0.5"/>
<circle cx="201.49" cy="677.03" r="1.8" fill="#a2a2a2" stroke="#454545" stroke-width="0.5"/>
<circle cx="199.06" cy="681.27" r="1.8" fill="#a2a2a2" stroke="#454545" stroke-width="0.5"/>
<circle cx="201.87" cy="678.95" r="1.8" fill="#a2a2a2" stroke="#454545" stroke-width="0.5"/>
<circle cx="198.33" cy="682.53" r="1.8" fill="#a2a2a2" stroke="#454545" stroke-width="0.5"/>
<circle cx="195.23" cy="679.14" r="1.8" fill="#a2a2a2" stroke="#454545" stroke-width="0.5"/>
<circle cx="207.67" cy="677.44" r="1.8" fill="#a2a2a2" stroke="#454545" stroke-width="0.5"/>
<circle cx="207.63" cy="681.66" r="1.8" fill="#a2a2a2" stroke="#454545" stroke-width="0.5"/>
<circle cx="204.94" cy="683.05" r="1.8" fill="#a2a2a2" stroke="#454545" stroke-width="0.5"/>
<circle cx="202.66" cy="682.53" r="1.8" fill="#a2a2a2" stroke="#454545" stroke-width="0.5"/>
<circle cx="195.87" cy="680.7" r="1.8" fill="#a2a2a2" stroke="#454545" stroke-width="0.5"/>
<circle cx="194.4" cy="682.02" r="1.8" fill="#a2a2a2" stroke="#454545" stroke-width="0.5"/>
<circle cx="195.42" cy="681.03" r="1.8" fill="#a2a2a2" stroke="#454545" stroke-width="0.5"/>
<circle cx="191.64" cy="682.94" r="1.8" fill="#a2a2a2" stroke="#454545" stroke-width="0.5"/>
<circle cx="203.67" cy="678.22" r="1.8" fill="#a2a2a2" stroke="#454545" stroke-width="0.5"/>
<circle cx="197.35" cy="678.58" r="1.8" fill="#a2a2a2" stroke="#454545" stroke-width="0.5"/>
<circle cx="232.67" cy="677.92" r="1.8" fill="#a2a2a2" stroke="#454545" stroke-width="0.5"/>
<circle cx="220.38" cy="680.6" r="1.8" fill="#a2a2a2" stroke="#454545" stroke-width="0.5"/>
<circle cx="235.65" cy="679.08" r="1.8" fill="#a2a2a2" stroke="#454545" stroke-width="0.5"/>
<circle cx="232.69" cy="678.46" r="1.8" fill="#a2a2a2" stroke="#454545" stroke-width="0.5"/>
<circle cx="210.08" cy="679.04" r="1.8" fill="#a2a2a2" stroke="#454545" stroke-width="0.5"/>
<circle cx="215.66" cy="678.93" r="1.8" fill="#a2a2a2" stroke="#454545" stroke-width="0.5"/>
<circle cx="234.37" cy="677.81" r="1.8" fill="#a2a2a2" stroke="#454545" stroke-width="0.5"/>
<circle cx="222.61" cy="682.2" r="1.8" fill="#a2a2a2" stroke="#454545" stroke-width="0.5"/>
<circle cx="236.24" cy="681.89" r="1.8" fill="#a2a2a2" stroke="#454545" stroke-width="0.5"/>
<circle cx="220.67" cy="676.52" r="1.8" fill="#a2a2a2" stroke="#454545" stroke-width="0.5"/>
<circle cx="212.01" cy="680.85" r="1.8" fill="#a2a2a2" stroke="#454545" stroke-width="0.5"/>
<circle cx="226.87" cy="679.42" r="1.8" fill="#a2a2a2" stroke="#454545" stroke-width="0.5"/>
<circle cx="230.85" cy="681.12" r="1.8" fill="#a2a2a2" stroke="#454545" stroke-width="0.5"/>
<circle cx="217.27" cy="680.09" r="1.8" fill="#a2a2a2" stroke="#454545" stroke-width="0.5"/>
<circle cx="212.39" cy="680.4" r="1.8" fill="#a2a2a2" stroke="#454545" stroke-width="0.5"/>
<circle cx="218.94" cy="680.28" r="1.8" fill="#a2a2a2" stroke="#454545" stroke-width="0.5"/>
<circle cx="235.81" cy="676.1" r="1.8" fill="#a2a2a2" stroke="#454545" stroke-width="0.5"/>
<circle cx="230.3" cy="680.65" r="1.8" fill="#a2a2a2" stroke="#454545" stroke-width="0.5"/>
<circle cx="213.21" cy="682.19" r="1.8" fill="#a2a2a2" stroke="#454545" stroke-width="0.5"/>
<circle cx="216.64" cy="678.56" r="1.8" fill="#a2a2a2" stroke="#454545" stroke-width="0.5"/>
<circle cx="212.76" cy="678.45" r="1.8" fill="#a2a2a2" stroke="#454545" stroke-width="0.5"/>
<circle cx="211.66" cy="680.4" r="1.8" fill="#a2a2a2" stroke="#454545" stroke-width="0.5"/>
<circle cx="231.35" cy="678.44" r="1.8" fill="#a2a2a2" stroke="#454545" stroke-width="0.5"/>
<circle cx="214.81" cy="679.22" r="1.8" fill="#a2a2a2" stroke="#454545" stroke-width="0.5"/>
<circle cx="225" cy="682.22" r="1.8" fill="#a2a2a2" stroke="#454545" stroke-width="0.5"/>
<circle cx="222.01" cy="681.55" r="1.8" fill="#a2a2a2" stroke="#454545" stroke-width="0.5"/>
<circle cx="215.15" cy="680.58" r="1.8" fill="#a2a2a2" stroke="#454545" stroke-width="0.5"/>
<circle cx="229.61" cy="683.05" r="1.8" fill="#a2a2a2" stroke="#454545" stroke-width="0.5"/>
<circle cx="213.56" cy="682.45" r="1.8" fill="#a2a2a2" stroke="#454545" stroke-width="0.5"/>
<circle cx="227.25" cy="682.04" r="1.8" fill="#a2a2a2" stroke="#454545" stroke-width="0.5"/>
<circle cx="213.17" cy="678.54" r="1.8" fill="#a2a2a2" stroke="#454545" stroke-width="0.5"/>
<circle cx="221.3" cy="682.14" r="1.8" fill="#a2a2a2" stroke="#454545" stroke-width="0.5"/>
<circle cx="215.75" cy="681.63" r="1.8" fill="#a2a2a2" stroke="#454545" stroke-width="0.5"/>
<circle cx="217.27" cy="680.59" r="1.8" fill="#a2a2a2" stroke="#454545" stroke-width="0.5"/>
<circle cx="235.99" cy="681.36" r="1.8" fill="#a2a2a2" stroke="#454545" stroke-width="0.5"/>
<circle cx="231.52" cy="682.17" r="1.8" fill="#a2a2a2" stroke="#454545" stroke-width="0.5"/>
<circle cx="218.18" cy="679.86" r="1.8" fill="#a2a2a2" stroke="#454545" stroke-width="0.5"/>
<circle cx="233.69" cy="676.35" r="1.8" fill="#a2a2a2" stroke="#454545" stroke-width="0.5"/>
<circle cx="215.69" cy="680.7" r="1.8" fill="#a2a2a2" stroke="#454545" stroke-width="0.5"/>
<circle cx="220.59" cy="680.89" r="1.8" fill="#a2a2a2" stroke="#454545" stroke-width="0.5"/>
<circle cx="255.55" cy="667.11" r="1.8" fill="#a2a2a2" stroke="#454545" stroke-width="0.5"/>
<circle cx="250.88" cy="668.48" r="1.8" fill="#a2a2a2" stroke="#454545" stroke-width="0.5"/>
<circle cx="238.97" cy="676.66" r="1.8" fill="#a2a2a2" stroke="#454545" stroke-width="0.5"/>
<circle cx="258.52" cy="665.62" r="1.8" fill="#a2a2a2" stroke="#454545" stroke-width="0.5"/>
<circle cx="241.46" cy="670.21" r="1.8" fill="#a2a2a2" stroke="#454545" stroke-width="0.5"/>
<circle cx="242.45" cy="673.64" r="1.8" fill="#a2a2a2" stroke="#454545" stroke-width="0.5"/>
<circle cx="253.76" cy="665.94" r="1.8" fill="#a2a2a2" stroke="#454545" stroke-width="0.5"/>
<circle cx="244" cy="674.53" r="1.8" fill="#a2a2a2" stroke="#454545" stroke-width="0.5"/>
<circle cx="243.28" cy="672.8" r="1.8" fill="#a2a2a2" stroke="#454545" stroke-width="0.5"/>
<circle cx="238.38" cy="676.82" r="1.8" fill="#a2a2a2" stroke="#454545" stroke-width="0.5"/>
<circle cx="238.75" cy="676.41" r="1.8" fill="#a2a2a2" stroke="#454545" stroke-width="0.5"/>
<circle cx="249.58" cy="674.52" r="1.8" fill="#a2a2a2" stroke="#454545" stroke-width="0.5"/>
<circle cx="242.11" cy="674.89" r="1.8" fill="#a2a2a2" stroke="#454545" stroke-width="0.5"/>
<circle cx="249.99" cy="671.35" r="1.8" fill="#a2a2a2" stroke="#454545" stroke-width="0.5"/>
<circle cx="244.94" cy="677.33" r="1.8" fill="#a2a2a2" stroke="#454545" stroke-width="0.5"/>
<circle cx="246.73" cy="675.35" r="1.8" fill="#a2a2a2" stroke="#454545" stroke-width="0.5"/>
<circle cx="257.86" cy="671.87" r="1.8" fill="#a2a2a2" stroke="#454545" stroke-width="0.5"/>
<circle cx="247.4" cy="676.48" r="1.8" fill="#a2a2a2" stroke="#454545" stroke-width="0.5"/>
<circle cx="249.4" cy="674.24" r="1.8" fill="#a2a2a2" stroke="#454545" stroke-width="0.5"/>
<circle cx="255.82" cy="671.97" r="1.8" fill="#a2a2a2" stroke="#454545" stroke-width="0.5"/>
<circle cx="240.79" cy="671.94" r="1.8" fill="#a2a2a2" stroke="#454545" stroke-width="0.5"/>
<circle cx="240.16" cy="675.54" r="1.8" fill="#a2a2a2" stroke="#454545" stroke-width="0.5"/>
<circle cx="256.74" cy="669.71" r="1.8" fill="#a2a2a2" stroke="#454545" stroke-width="0.5"/>
<circle cx="254.75" cy="666.81" r="1.8" fill="#a2a2a2" stroke="#454545" stroke-width="0.5"/>
<circle cx="242.25" cy="673.9" r="1.8" fill="#a2a2a2" stroke="#454545" stroke-width="0.5"/>
<circle cx="240.94" cy="677.04" r="1.8" fill="#a2a2a2" stroke="#454545" stroke-width="0.5"/>
<circle cx="253.03" cy="673.03" r="1.8" fill="#a2a2a2" stroke="#454545" stroke-width="0.5"/>
<circle cx="257.45" cy="664.68" r="1.8" fill="#a2a2a2" stroke="#454545" stroke-width="0.5"/>
<circle cx="241.09" cy="673.69" r="1.8" fill="#a2a2a2" stroke="#454545" stroke-width="0.5"/>
<circle cx="257.66" cy="667.32" r="1.8" fill="#a2a2a2" stroke="#454545" stroke-width="0.5"/>
<circle cx="256.17" cy="671.01" r="1.8" fill="#a2a2a2" stroke="#454545" stroke-width="0.5"/>
<circle cx="250.04" cy="667.7" r="1.8" fill="#a2a2a2" stroke="#454545" stroke-width="0.5"/>
<circle cx="269.76" cy="655.29" r="1.8" fill="#a2a2a2" stroke="#454545" stroke-width="0.5"/>
<circle cx="262.64" cy="661.22" r="1.8" fill="#a2a2a2" stroke="#454545" stroke-width="0.5"/>
<circle cx="259.9" cy="670.45" r="1.8" fill="#a2a2a2" stroke="#454545" stroke-width="0.5"/>
<circle cx="279.87" cy="641.92" r="1.8" fill="#a2a2a2" stroke="#454545" stroke-width="0.5"/>
<circle cx="266.26" cy="658.79" r="1.8" fill="#a2a2a2" stroke="#454545" stroke-width="0.5"/>
<circle cx="274" cy="644.94" r="1.8" fill="#a2a2a2" stroke="#454545" stroke-width="0.5"/>
<circle cx="266.66" cy="659.22" r="1.8" fill="#a2a2a2" stroke="#454545" stroke-width="0.5"/>
<circle cx="276.07" cy="649.81" r="1.8" fill="#a2a2a2" stroke="#454545" stroke-width="0.5"/>
<circle cx="272.45" cy="644.37" r="1.8" fill="#a2a2a2" stroke="#454545" stroke-width="0.5"/>
<circle cx="267.42" cy="658" r="1.8" fill="#a2a2a2" stroke="#454545" stroke-width="0.5"/>
<circle cx="264.74" cy="663.86" r="1.8" fill="#a2a2a2" stroke="#454545" stroke-width="0.5"/>
<circle cx="274.24" cy="649.1" r="1.8" fill="#a2a2a2" stroke="#454545" stroke-width="0.5"/>
<circle cx="261.33" cy="672.3" r="1.8" fill="#a2a2a2" stroke="#454545" stroke-width="0.5"/>
<circle cx="266.03" cy="657.87" r="1.8" fill="#a2a2a2" stroke="#454545" stroke-width="0.5"/>
<circle cx="271.92" cy="644.26" r="1.8" fill="#a2a2a2" stroke="#454545" stroke-width="0.5"/>
<circle cx="276.67" cy="643.65" r="1.8" fill="#a2a2a2" stroke="#454545" stroke-width="0.5"/>
<circle cx="272.7" cy="648.54" r="1.8" fill="#a2a2a2" stroke="#454545" stroke-width="0.5"/>
<circle cx="267.15" cy="660.95" r="1.8" fill="#a2a2a2" stroke="#454545" stroke-width="0.5"/>
<circle cx="278.29" cy="647.04" r="1.8" fill="#a2a2a2" stroke="#454545" stroke-width="0.5"/>
<circle cx="265.46" cy="663.39" r="1.8" fill="#a2a2a2" stroke="#454545" stroke-width="0.5"/>
<circle cx="258.42" cy="670.45" r="1.8" fill="#a2a2a2" stroke="#454545" stroke-width="0.5"/>
<circle cx="266.92" cy="669.27" r="1.8" fill="#a2a2a2" stroke="#454545" stroke-width="0.5"/>
<circle cx="270.17" cy="647.48" r="1.8" fill="#a2a2a2" stroke="#454545" stroke-width="0.5"/>
<circle cx="260.97" cy="665.21" r="1.8" fill="#a2a2a2" stroke="#454545" stroke-width="0.5"/>
<circle cx="264.76" cy="664.78" r="1.8" fill="#a2a2a2" stroke="#454545" stroke-width="0.5"/>
<circle cx="268.85" cy="657.05" r="1.8" fill="#a2a2a2" stroke="#454545" stroke-width="0.5"/>
<circle cx="272.1" cy="647.2" r="1.8" fill="#a2a2a2" stroke="#454545" stroke-width="0.5"/>
<circle cx="263.52" cy="665.3" r="1.8" fill="#a2a2a2" stroke="#454545" stroke-width="0.5"/>
<circle cx="268.73" cy="649.74" r="1.8" fill="#a2a2a2" stroke="#454545" stroke-width="0.5"/>
<circle cx="277.57" cy="646.99" r="1.8" fill="#a2a2a2" stroke="#454545" stroke-width="0.5"/>
<circle cx="280.76" cy="640.27" r="1.8" fill="#a2a2a2" stroke="#454545" stroke-width="0.5"/>
<circle cx="273.29" cy="648.03" r="1.8" fill="#a2a2a2" stroke="#454545" stroke-width="0.5"/>
<circle cx="273.79" cy="650.69" r="1.8" fill="#a2a2a2" stroke="#454545" stroke-width="0.5"/>
<circle cx="272.28" cy="640.04" r="1.8" fill="#a2a2a2" stroke="#454545" stroke-width="0.5"/>
<circle cx="263.78" cy="663.64" r="1.8" fill="#a2a2a2" stroke="#454545" stroke-width="0.5"/>
<circle cx="259.7" cy="670.78" r="1.8" fill="#a2a2a2" stroke="#454545" stroke-width="0.5"/>
<circle cx="258.53" cy="665.37" r="1.8" fill="#a2a2a2" stroke="#454545" stroke-width="0.5"/>
<circle cx="278.08" cy="650.2" r="1.8" fill="#a2a2a2" stroke="#454545" stroke-width="0.5"/>
<circle cx="273.94" cy="643.66" r="1.8" fill="#a2a2a2" stroke="#454545" stroke-width="0.5"/>
<circle cx="279.87" cy="644.81" r="1.8" fill="#a2a2a2" stroke="#454545" stroke-width="0.5"/>
<circle cx="258.79" cy="668.62" r="1.8" fill="#a2a2a2" stroke="#454545" stroke-width="0.5"/>
<circle cx="273" cy="649.56" r="1.8" fill="#a2a2a2" stroke="#454545" stroke-width="0.5"/>
<circle cx="270.75" cy="653.06" r="1.8" fill="#a2a2a2" stroke="#454545" stroke-width="0.5"/>
<circle cx="274.41" cy="649.27" r="1.8" fill="#a2a2a2" stroke="#454545" stroke-width="0.5"/>
<circle cx="267.92" cy="652.14" r="1.8" fill="#a2a2a2" stroke="#454545" stroke-width="0.5"/>
<circle cx="282.32" cy="637.71" r="1.8" fill="#a2a2a2" stroke="#454545" stroke-width="0.5"/>
<circle cx="261.59" cy="662.31" r="1.8" fill="#a2a2a2" stroke="#454545" stroke-width="0.5"/>
<circle cx="271.72" cy="647.53" r="1.8" fill="#a2a2a2" stroke="#454545" stroke-width="0.5"/>
<circle cx="274.51" cy="647.17" r="1.8" fill="#a2a2a2" stroke="#454545" stroke-width="0.5"/>
<circle cx="277.81" cy="644.8" r="1.8" fill="#a2a2a2" stroke="#454545" stroke-width="0.5"/>
<circle cx="274.51" cy="649.32" r="1.8" fill="#a2a2a2" stroke="#454545" stroke-width="0.5"/>
<circle cx="273.98" cy="645.16" r="1.8" fill="#a2a2a2" stroke="#454545" stroke-width="0.5"/>
<circle cx="275.49" cy="643.94" r="1.8" fill="#a2a2a2" stroke="#454545" stroke-width="0.5"/>
<circle cx="278.22" cy="645.51" r="1.8" fill="#a2a2a2" stroke="#454545" stroke-width="0.5"/>
<circle cx="268.54" cy="657.42" r="1.8" fill="#a2a2a2" stroke="#454545" stroke-width="0.5"/>
<circle cx="273.7" cy="646.94" r="1.8" fill="#a2a2a2" stroke="#454545" stroke-width="0.5"/>
<circle cx="277.83" cy="640.75" r="1.8" fill="#a2a2a2" stroke="#454545" stroke-width="0.5"/>
<circle cx="277.09" cy="643.51" r="1.8" fill="#a2a2a2" stroke="#454545" stroke-width="0.5"/>
<circle cx="269.69" cy="650.34" r="1.8" fill="#a2a2a2" stroke="#454545" stroke-width="0.5"/>
<circle cx="275.44" cy="647.05" r="1.8" fill="#a2a2a2" stroke="#454545" stroke-width="0.5"/>
<circle cx="276.91" cy="643.17" r="1.8" fill="#a2a2a2" stroke="#454545" stroke-width="0.5"/>
<circle cx="272.11" cy="646.4" r="1.8" fill="#a2a2a2" stroke="#454545" stroke-width="0.5"/>
<circle cx="272.84" cy="652.02" r="1.8" fill="#a2a2a2" stroke="#454545" stroke-width="0.5"/>
<circle cx="269.09" cy="649.36" r="1.8" fill="#a2a2a2" stroke="#454545" stroke-width="0.5"/>
<circle cx="272.25" cy="649.31" r="1.8" fill="#a2a2a2" stroke="#454545" stroke-width="0.5"/>
<circle cx="272.62" cy="644.48" r="1.8" fill="#a2a2a2" stroke="#454545" stroke-width="0.5"/>
<circle cx="261.79" cy="662.91" r="1.8" fill="#a2a2a2" stroke="#454545" stroke-width="0.5"/>
<circle cx="273.04" cy="648.73" r="1.8" fill="#a2a2a2" stroke="#454545" stroke-width="0.5"/>
<circle cx="281.74" cy="632.1" r="1.8" fill="#a2a2a2" stroke="#454545" stroke-width="0.5"/>
<circle cx="277.3" cy="643.21" r="1.8" fill="#a2a2a2" stroke="#454545" stroke-width="0.5"/>
<circle cx="274.37" cy="641.48" r="1.8" fill="#a2a2a2" stroke="#454545" stroke-width="0.5"/>
<circle cx="269.2" cy="646.98" r="1.8" fill="#a2a2a2" stroke="#454545" stroke-width="0.5"/>
<circle cx="206.92" cy="679.04" r="1.8" fill="#a2a2a2" stroke="#454545" stroke-width="0.5"/>
<circle cx="230.48" cy="677.55" r="1.8" fill="#a2a2a2" stroke="#454545" stroke-width="0.5"/>
<circle cx="281.53" cy="613.59" r="1.8" fill="#a2a2a2" stroke="#454545" stroke-width="0.5"/>
<circle cx="279.96" cy="614.33" r="1.8" fill="#a2a2a2" stroke="#454545" stroke-width="0.5"/>
<circle cx="269.75" cy="643.34" r="1.8" fill="#a2a2a2" stroke="#454545" stroke-width="0.5"/>
<circle cx="273.68" cy="650.77" r="1.8" fill="#a2a2a2" stroke="#454545" stroke-width="0.5"/>
<circle cx="276.04" cy="632.92" r="1.8" fill="#a2a2a2" stroke="#454545" stroke-width="0.5"/>
<circle cx="277.61" cy="634.41" r="1.8" fill="#a2a2a2" stroke="#454545" stroke-width="0.5"/>
</g>
<rect x="186.25" y="610" width="100.5" height="76" fill="none" stroke="#3a3a3a" stroke-width="0.7"/>
<line x1="186.5" y1="686" x2="186.5" y2="688.5" stroke="#3a3a3a" stroke-width="0.7" />
<text x="186.5" y="696.2" font-size="8" font-family="Liberation Sans" fill="#262626" text-anchor="middle" textLength="4.5" lengthAdjust="spacingAndGlyphs" stroke="#262626" stroke-width="0.22">0</text>
<line x1="217.92" y1="686" x2="217.92" y2="688.5" stroke="#3a3a3a" stroke-width="0.7" />
<text x="217.92" y="696.2" font-size="8" font-family="Liberation Sans" fill="#262626" text-anchor="middle" textLength="9" lengthAdjust="spacingAndGlyphs" stroke="#262626" stroke-width="0.22">20</text>
<line x1="249.33" y1="686" x2="249.33" y2="688.5" stroke="#3a3a3a" stroke-width="0.7" />
<text x="249.33" y="696.2" font-size="8" font-family="Liberation Sans" fill="#262626" text-anchor="middle" textLength="9" lengthAdjust="spacingAndGlyphs" stroke="#262626" stroke-width="0.22">40</text>
<line x1="280.75" y1="686" x2="280.75" y2="688.5" stroke="#3a3a3a" stroke-width="0.7" />
<text x="280.75" y="696.2" font-size="8" font-family="Liberation Sans" fill="#262626" text-anchor="middle" textLength="9" lengthAdjust="spacingAndGlyphs" stroke="#262626" stroke-width="0.22">60</text>
<line x1="183.75" y1="683.5" x2="186.25" y2="683.5" stroke="#3a3a3a" stroke-width="0.7" />
<text x="182.25" y="686.4" font-size="8" font-family="Liberation Sans" fill="#262626" text-anchor="end" textLength="4.55" lengthAdjust="spacingAndGlyphs" stroke="#262626" stroke-width="0.22">0</text>
<line x1="183.75" y1="653.75" x2="186.25" y2="653.75" stroke="#3a3a3a" stroke-width="0.7" />
<text x="182.25" y="656.65" font-size="8" font-family="Liberation Sans" fill="#262626" text-anchor="end" textLength="4.55" lengthAdjust="spacingAndGlyphs" stroke="#262626" stroke-width="0.22">2</text>
<line x1="183.75" y1="624" x2="186.25" y2="624" stroke="#3a3a3a" stroke-width="0.7" />
<text x="182.25" y="626.9" font-size="8" font-family="Liberation Sans" fill="#262626" text-anchor="end" textLength="4.55" lengthAdjust="spacingAndGlyphs" stroke="#262626" stroke-width="0.22">4</text>
<text x="236.5" y="706.2" font-size="8" font-family="Liberation Sans" fill="#262626" text-anchor="middle" textLength="102.5" lengthAdjust="spacingAndGlyphs" stroke="#262626" stroke-width="0.22">max. yielding contacts [%]</text>
<text x="172.3" y="648" font-size="8" font-family="Liberation Sans" fill="#262626" text-anchor="middle" textLength="78" lengthAdjust="spacingAndGlyphs" transform="rotate(-90 172.3 648)" stroke="#262626" stroke-width="0.22">linear deviation [kN]</text>
<line x1="40" y1="717" x2="40" y2="792.5" stroke="#d4d4d4" stroke-width="0.8" />
<line x1="71.67" y1="717" x2="71.67" y2="792.5" stroke="#d4d4d4" stroke-width="0.8" />
<line x1="103.33" y1="717" x2="103.33" y2="792.5" stroke="#d4d4d4" stroke-width="0.8" />
<line x1="135" y1="717" x2="135" y2="792.5" stroke="#d4d4d4" stroke-width="0.8" />
<line x1="39.25" y1="776.75" x2="140" y2="776.75" stroke="#d4d4d4" stroke-width="0.8" />
<line x1="39.25" y1="753.3" x2="140" y2="753.3" stroke="#d4d4d4" stroke-width="0.8" />
<line x1="39.25" y1="729.85" x2="140" y2="729.85" stroke="#d4d4d4" stroke-width="0.8" />
<g clip-path="url(#c39_717)">
<circle cx="51.84" cy="770.63" r="1.8" fill="#a2a2a2" stroke="#454545" stroke-width="0.5"/>
<circle cx="53.71" cy="764.98" r="1.8" fill="#a2a2a2" stroke="#454545" stroke-width="0.5"/>
<circle cx="60.05" cy="761.57" r="1.8" fill="#a2a2a2" stroke="#454545" stroke-width="0.5"/>
<circle cx="52.07" cy="785.73" r="1.8" fill="#a2a2a2" stroke="#454545" stroke-width="0.5"/>
<circle cx="52.8" cy="779" r="1.8" fill="#a2a2a2" stroke="#454545" stroke-width="0.5"/>
<circle cx="54.19" cy="754.76" r="1.8" fill="#a2a2a2" stroke="#454545" stroke-width="0.5"/>
<circle cx="47.17" cy="779.15" r="1.8" fill="#a2a2a2" stroke="#454545" stroke-width="0.5"/>
<circle cx="52.87" cy="772.61" r="1.8" fill="#a2a2a2" stroke="#454545" stroke-width="0.5"/>
<circle cx="54.93" cy="781.34" r="1.8" fill="#a2a2a2" stroke="#454545" stroke-width="0.5"/>
<circle cx="57.77" cy="752.71" r="1.8" fill="#a2a2a2" stroke="#454545" stroke-width="0.5"/>
<circle cx="45.6" cy="770.28" r="1.8" fill="#a2a2a2" stroke="#454545" stroke-width="0.5"/>
<circle cx="49.24" cy="768.76" r="1.8" fill="#a2a2a2" stroke="#454545" stroke-width="0.5"/>
<circle cx="45.54" cy="751.59" r="1.8" fill="#a2a2a2" stroke="#454545" stroke-width="0.5"/>
<circle cx="58.06" cy="784.67" r="1.8" fill="#a2a2a2" stroke="#454545" stroke-width="0.5"/>
<circle cx="56.04" cy="775.26" r="1.8" fill="#a2a2a2" stroke="#454545" stroke-width="0.5"/>
<circle cx="44.69" cy="785.26" r="1.8" fill="#a2a2a2" stroke="#454545" stroke-width="0.5"/>
<circle cx="61.06" cy="781.17" r="1.8" fill="#a2a2a2" stroke="#454545" stroke-width="0.5"/>
<circle cx="60.76" cy="763.09" r="1.8" fill="#a2a2a2" stroke="#454545" stroke-width="0.5"/>
<circle cx="55.35" cy="762.05" r="1.8" fill="#a2a2a2" stroke="#454545" stroke-width="0.5"/>
<circle cx="54.68" cy="769.52" r="1.8" fill="#a2a2a2" stroke="#454545" stroke-width="0.5"/>
<circle cx="46.7" cy="776.55" r="1.8" fill="#a2a2a2" stroke="#454545" stroke-width="0.5"/>
<circle cx="44.22" cy="759.53" r="1.8" fill="#a2a2a2" stroke="#454545" stroke-width="0.5"/>
<circle cx="53.16" cy="754.25" r="1.8" fill="#a2a2a2" stroke="#454545" stroke-width="0.5"/>
<circle cx="45" cy="770.18" r="1.8" fill="#a2a2a2" stroke="#454545" stroke-width="0.5"/>
<circle cx="47.27" cy="772.88" r="1.8" fill="#a2a2a2" stroke="#454545" stroke-width="0.5"/>
<circle cx="48.17" cy="769.82" r="1.8" fill="#a2a2a2" stroke="#454545" stroke-width="0.5"/>
<circle cx="44.48" cy="760.74" r="1.8" fill="#a2a2a2" stroke="#454545" stroke-width="0.5"/>
<circle cx="52.04" cy="754.47" r="1.8" fill="#a2a2a2" stroke="#454545" stroke-width="0.5"/>
<circle cx="51.63" cy="767.24" r="1.8" fill="#a2a2a2" stroke="#454545" stroke-width="0.5"/>
<circle cx="58.63" cy="773.87" r="1.8" fill="#a2a2a2" stroke="#454545" stroke-width="0.5"/>
<circle cx="53" cy="766.77" r="1.8" fill="#a2a2a2" stroke="#454545" stroke-width="0.5"/>
<circle cx="55.11" cy="783.88" r="1.8" fill="#a2a2a2" stroke="#454545" stroke-width="0.5"/>
<circle cx="52.66" cy="774.35" r="1.8" fill="#a2a2a2" stroke="#454545" stroke-width="0.5"/>
<circle cx="55.5" cy="760.68" r="1.8" fill="#a2a2a2" stroke="#454545" stroke-width="0.5"/>
<circle cx="51.92" cy="752.86" r="1.8" fill="#a2a2a2" stroke="#454545" stroke-width="0.5"/>
<circle cx="48.8" cy="767.6" r="1.8" fill="#a2a2a2" stroke="#454545" stroke-width="0.5"/>
<circle cx="61.33" cy="763.66" r="1.8" fill="#a2a2a2" stroke="#454545" stroke-width="0.5"/>
<circle cx="61.3" cy="772.72" r="1.8" fill="#a2a2a2" stroke="#454545" stroke-width="0.5"/>
<circle cx="58.59" cy="778.81" r="1.8" fill="#a2a2a2" stroke="#454545" stroke-width="0.5"/>
<circle cx="56.29" cy="779.06" r="1.8" fill="#a2a2a2" stroke="#454545" stroke-width="0.5"/>
<circle cx="49.45" cy="764.84" r="1.8" fill="#a2a2a2" stroke="#454545" stroke-width="0.5"/>
<circle cx="47.96" cy="757.95" r="1.8" fill="#a2a2a2" stroke="#454545" stroke-width="0.5"/>
<circle cx="48.99" cy="761.82" r="1.8" fill="#a2a2a2" stroke="#454545" stroke-width="0.5"/>
<circle cx="45.18" cy="753.65" r="1.8" fill="#a2a2a2" stroke="#454545" stroke-width="0.5"/>
<circle cx="57.3" cy="781.66" r="1.8" fill="#a2a2a2" stroke="#454545" stroke-width="0.5"/>
<circle cx="50.93" cy="774.97" r="1.8" fill="#a2a2a2" stroke="#454545" stroke-width="0.5"/>
<circle cx="86.54" cy="771.37" r="1.8" fill="#a2a2a2" stroke="#454545" stroke-width="0.5"/>
<circle cx="74.15" cy="776.37" r="1.8" fill="#a2a2a2" stroke="#454545" stroke-width="0.5"/>
<circle cx="89.54" cy="776.97" r="1.8" fill="#a2a2a2" stroke="#454545" stroke-width="0.5"/>
<circle cx="86.56" cy="768.64" r="1.8" fill="#a2a2a2" stroke="#454545" stroke-width="0.5"/>
<circle cx="63.76" cy="788.4" r="1.8" fill="#a2a2a2" stroke="#454545" stroke-width="0.5"/>
<circle cx="69.39" cy="783.51" r="1.8" fill="#a2a2a2" stroke="#454545" stroke-width="0.5"/>
<circle cx="88.25" cy="777.22" r="1.8" fill="#a2a2a2" stroke="#454545" stroke-width="0.5"/>
<circle cx="76.4" cy="774.3" r="1.8" fill="#a2a2a2" stroke="#454545" stroke-width="0.5"/>
<circle cx="90.14" cy="765.61" r="1.8" fill="#a2a2a2" stroke="#454545" stroke-width="0.5"/>
<circle cx="74.45" cy="773.02" r="1.8" fill="#a2a2a2" stroke="#454545" stroke-width="0.5"/>
<circle cx="65.72" cy="779.7" r="1.8" fill="#a2a2a2" stroke="#454545" stroke-width="0.5"/>
<circle cx="80.69" cy="772.66" r="1.8" fill="#a2a2a2" stroke="#454545" stroke-width="0.5"/>
<circle cx="84.7" cy="783.94" r="1.8" fill="#a2a2a2" stroke="#454545" stroke-width="0.5"/>
<circle cx="71.01" cy="785.37" r="1.8" fill="#a2a2a2" stroke="#454545" stroke-width="0.5"/>
<circle cx="66.1" cy="789.65" r="1.8" fill="#a2a2a2" stroke="#454545" stroke-width="0.5"/>
<circle cx="72.7" cy="777.51" r="1.8" fill="#a2a2a2" stroke="#454545" stroke-width="0.5"/>
<circle cx="89.7" cy="778.88" r="1.8" fill="#a2a2a2" stroke="#454545" stroke-width="0.5"/>
<circle cx="84.15" cy="773.43" r="1.8" fill="#a2a2a2" stroke="#454545" stroke-width="0.5"/>
<circle cx="66.93" cy="777.3" r="1.8" fill="#a2a2a2" stroke="#454545" stroke-width="0.5"/>
<circle cx="70.38" cy="789.65" r="1.8" fill="#a2a2a2" stroke="#454545" stroke-width="0.5"/>
<circle cx="66.47" cy="787.67" r="1.8" fill="#a2a2a2" stroke="#454545" stroke-width="0.5"/>
<circle cx="65.36" cy="784.66" r="1.8" fill="#a2a2a2" stroke="#454545" stroke-width="0.5"/>
<circle cx="85.2" cy="775.52" r="1.8" fill="#a2a2a2" stroke="#454545" stroke-width="0.5"/>
<circle cx="68.53" cy="780.91" r="1.8" fill="#a2a2a2" stroke="#454545" stroke-width="0.5"/>
<circle cx="78.8" cy="780.74" r="1.8" fill="#a2a2a2" stroke="#454545" stroke-width="0.5"/>
<circle cx="75.79" cy="784.41" r="1.8" fill="#a2a2a2" stroke="#454545" stroke-width="0.5"/>
<circle cx="68.88" cy="780.38" r="1.8" fill="#a2a2a2" stroke="#454545" stroke-width="0.5"/>
<circle cx="83.45" cy="772.69" r="1.8" fill="#a2a2a2" stroke="#454545" stroke-width="0.5"/>
<circle cx="67.27" cy="784.1" r="1.8" fill="#a2a2a2" stroke="#454545" stroke-width="0.5"/>
<circle cx="81.08" cy="776.65" r="1.8" fill="#a2a2a2" stroke="#454545" stroke-width="0.5"/>
<circle cx="66.89" cy="773.55" r="1.8" fill="#a2a2a2" stroke="#454545" stroke-width="0.5"/>
<circle cx="75.07" cy="775.96" r="1.8" fill="#a2a2a2" stroke="#454545" stroke-width="0.5"/>
<circle cx="69.48" cy="784.32" r="1.8" fill="#a2a2a2" stroke="#454545" stroke-width="0.5"/>
<circle cx="71.01" cy="768.9" r="1.8" fill="#a2a2a2" stroke="#454545" stroke-width="0.5"/>
<circle cx="89.88" cy="769.27" r="1.8" fill="#a2a2a2" stroke="#454545" stroke-width="0.5"/>
<circle cx="85.37" cy="775.29" r="1.8" fill="#a2a2a2" stroke="#454545" stroke-width="0.5"/>
<circle cx="71.94" cy="781" r="1.8" fill="#a2a2a2" stroke="#454545" stroke-width="0.5"/>
<circle cx="87.57" cy="779.99" r="1.8" fill="#a2a2a2" stroke="#454545" stroke-width="0.5"/>
<circle cx="69.42" cy="769.4" r="1.8" fill="#a2a2a2" stroke="#454545" stroke-width="0.5"/>
<circle cx="74.36" cy="787.76" r="1.8" fill="#a2a2a2" stroke="#454545" stroke-width="0.5"/>
<circle cx="109.6" cy="755.79" r="1.8" fill="#a2a2a2" stroke="#454545" stroke-width="0.5"/>
<circle cx="104.89" cy="764.49" r="1.8" fill="#a2a2a2" stroke="#454545" stroke-width="0.5"/>
<circle cx="92.89" cy="778.49" r="1.8" fill="#a2a2a2" stroke="#454545" stroke-width="0.5"/>
<circle cx="112.59" cy="762.7" r="1.8" fill="#a2a2a2" stroke="#454545" stroke-width="0.5"/>
<circle cx="95.39" cy="768.11" r="1.8" fill="#a2a2a2" stroke="#454545" stroke-width="0.5"/>
<circle cx="96.39" cy="760.7" r="1.8" fill="#a2a2a2" stroke="#454545" stroke-width="0.5"/>
<circle cx="107.79" cy="761.06" r="1.8" fill="#a2a2a2" stroke="#454545" stroke-width="0.5"/>
<circle cx="97.96" cy="752.7" r="1.8" fill="#a2a2a2" stroke="#454545" stroke-width="0.5"/>
<circle cx="97.23" cy="761.59" r="1.8" fill="#a2a2a2" stroke="#454545" stroke-width="0.5"/>
<circle cx="92.29" cy="770.8" r="1.8" fill="#a2a2a2" stroke="#454545" stroke-width="0.5"/>
<circle cx="92.66" cy="772.02" r="1.8" fill="#a2a2a2" stroke="#454545" stroke-width="0.5"/>
<circle cx="103.58" cy="762.67" r="1.8" fill="#a2a2a2" stroke="#454545" stroke-width="0.5"/>
<circle cx="96.05" cy="777.19" r="1.8" fill="#a2a2a2" stroke="#454545" stroke-width="0.5"/>
<circle cx="103.99" cy="769.48" r="1.8" fill="#a2a2a2" stroke="#454545" stroke-width="0.5"/>
<circle cx="98.9" cy="748.49" r="1.8" fill="#a2a2a2" stroke="#454545" stroke-width="0.5"/>
<circle cx="100.71" cy="753.67" r="1.8" fill="#a2a2a2" stroke="#454545" stroke-width="0.5"/>
<circle cx="111.93" cy="761.94" r="1.8" fill="#a2a2a2" stroke="#454545" stroke-width="0.5"/>
<circle cx="101.39" cy="772.87" r="1.8" fill="#a2a2a2" stroke="#454545" stroke-width="0.5"/>
<circle cx="103.4" cy="763.3" r="1.8" fill="#a2a2a2" stroke="#454545" stroke-width="0.5"/>
<circle cx="109.87" cy="757.49" r="1.8" fill="#a2a2a2" stroke="#454545" stroke-width="0.5"/>
<circle cx="94.72" cy="770.48" r="1.8" fill="#a2a2a2" stroke="#454545" stroke-width="0.5"/>
<circle cx="94.08" cy="759.44" r="1.8" fill="#a2a2a2" stroke="#454545" stroke-width="0.5"/>
<circle cx="110.8" cy="765.02" r="1.8" fill="#a2a2a2" stroke="#454545" stroke-width="0.5"/>
<circle cx="108.79" cy="760.93" r="1.8" fill="#a2a2a2" stroke="#454545" stroke-width="0.5"/>
<circle cx="96.2" cy="763.76" r="1.8" fill="#a2a2a2" stroke="#454545" stroke-width="0.5"/>
<circle cx="94.87" cy="772.89" r="1.8" fill="#a2a2a2" stroke="#454545" stroke-width="0.5"/>
<circle cx="107.06" cy="773.48" r="1.8" fill="#a2a2a2" stroke="#454545" stroke-width="0.5"/>
<circle cx="111.51" cy="759.25" r="1.8" fill="#a2a2a2" stroke="#454545" stroke-width="0.5"/>
<circle cx="95.02" cy="756.21" r="1.8" fill="#a2a2a2" stroke="#454545" stroke-width="0.5"/>
<circle cx="111.73" cy="766.07" r="1.8" fill="#a2a2a2" stroke="#454545" stroke-width="0.5"/>
<circle cx="110.22" cy="759.27" r="1.8" fill="#a2a2a2" stroke="#454545" stroke-width="0.5"/>
<circle cx="104.04" cy="757.86" r="1.8" fill="#a2a2a2" stroke="#454545" stroke-width="0.5"/>
<circle cx="123.93" cy="745.57" r="1.8" fill="#a2a2a2" stroke="#454545" stroke-width="0.5"/>
<circle cx="116.74" cy="755.27" r="1.8" fill="#a2a2a2" stroke="#454545" stroke-width="0.5"/>
<circle cx="113.99" cy="741.51" r="1.8" fill="#a2a2a2" stroke="#454545" stroke-width="0.5"/>
<circle cx="134.11" cy="731.24" r="1.8" fill="#a2a2a2" stroke="#454545" stroke-width="0.5"/>
<circle cx="120.39" cy="735.09" r="1.8" fill="#a2a2a2" stroke="#454545" stroke-width="0.5"/>
<circle cx="128.19" cy="744.36" r="1.8" fill="#a2a2a2" stroke="#454545" stroke-width="0.5"/>
<circle cx="120.8" cy="745.24" r="1.8" fill="#a2a2a2" stroke="#454545" stroke-width="0.5"/>
<circle cx="130.28" cy="732.88" r="1.8" fill="#a2a2a2" stroke="#454545" stroke-width="0.5"/>
<circle cx="126.63" cy="737.5" r="1.8" fill="#a2a2a2" stroke="#454545" stroke-width="0.5"/>
<circle cx="121.56" cy="756.21" r="1.8" fill="#a2a2a2" stroke="#454545" stroke-width="0.5"/>
<circle cx="118.87" cy="749.66" r="1.8" fill="#a2a2a2" stroke="#454545" stroke-width="0.5"/>
<circle cx="128.44" cy="737.13" r="1.8" fill="#a2a2a2" stroke="#454545" stroke-width="0.5"/>
<circle cx="115.43" cy="745.82" r="1.8" fill="#a2a2a2" stroke="#454545" stroke-width="0.5"/>
<circle cx="120.16" cy="752.17" r="1.8" fill="#a2a2a2" stroke="#454545" stroke-width="0.5"/>
<circle cx="126.09" cy="754.16" r="1.8" fill="#a2a2a2" stroke="#454545" stroke-width="0.5"/>
<circle cx="130.89" cy="726.56" r="1.8" fill="#a2a2a2" stroke="#454545" stroke-width="0.5"/>
<circle cx="126.88" cy="743.41" r="1.8" fill="#a2a2a2" stroke="#454545" stroke-width="0.5"/>
<circle cx="121.29" cy="742.95" r="1.8" fill="#a2a2a2" stroke="#454545" stroke-width="0.5"/>
<circle cx="132.52" cy="727.6" r="1.8" fill="#a2a2a2" stroke="#454545" stroke-width="0.5"/>
<circle cx="119.59" cy="760.64" r="1.8" fill="#a2a2a2" stroke="#454545" stroke-width="0.5"/>
<circle cx="112.49" cy="761.22" r="1.8" fill="#a2a2a2" stroke="#454545" stroke-width="0.5"/>
<circle cx="121.06" cy="751.04" r="1.8" fill="#a2a2a2" stroke="#454545" stroke-width="0.5"/>
<circle cx="124.33" cy="749.16" r="1.8" fill="#a2a2a2" stroke="#454545" stroke-width="0.5"/>
<circle cx="115.07" cy="747.19" r="1.8" fill="#a2a2a2" stroke="#454545" stroke-width="0.5"/>
<circle cx="118.89" cy="743.28" r="1.8" fill="#a2a2a2" stroke="#454545" stroke-width="0.5"/>
<circle cx="123.01" cy="742.53" r="1.8" fill="#a2a2a2" stroke="#454545" stroke-width="0.5"/>
<circle cx="126.28" cy="741.07" r="1.8" fill="#a2a2a2" stroke="#454545" stroke-width="0.5"/>
<circle cx="117.63" cy="749.64" r="1.8" fill="#a2a2a2" stroke="#454545" stroke-width="0.5"/>
<circle cx="122.88" cy="749.3" r="1.8" fill="#a2a2a2" stroke="#454545" stroke-width="0.5"/>
<circle cx="131.8" cy="736.8" r="1.8" fill="#a2a2a2" stroke="#454545" stroke-width="0.5"/>
<circle cx="135.01" cy="749.07" r="1.8" fill="#a2a2a2" stroke="#454545" stroke-width="0.5"/>
<circle cx="127.48" cy="724.48" r="1.8" fill="#a2a2a2" stroke="#454545" stroke-width="0.5"/>
<circle cx="127.99" cy="748.5" r="1.8" fill="#a2a2a2" stroke="#454545" stroke-width="0.5"/>
<circle cx="126.46" cy="744.73" r="1.8" fill="#a2a2a2" stroke="#454545" stroke-width="0.5"/>
<circle cx="117.89" cy="760.3" r="1.8" fill="#a2a2a2" stroke="#454545" stroke-width="0.5"/>
<circle cx="113.78" cy="754.03" r="1.8" fill="#a2a2a2" stroke="#454545" stroke-width="0.5"/>
<circle cx="112.6" cy="751.85" r="1.8" fill="#a2a2a2" stroke="#454545" stroke-width="0.5"/>
<circle cx="132.31" cy="736.14" r="1.8" fill="#a2a2a2" stroke="#454545" stroke-width="0.5"/>
<circle cx="128.14" cy="726.93" r="1.8" fill="#a2a2a2" stroke="#454545" stroke-width="0.5"/>
<circle cx="134.11" cy="728.35" r="1.8" fill="#a2a2a2" stroke="#454545" stroke-width="0.5"/>
<circle cx="112.87" cy="765.17" r="1.8" fill="#a2a2a2" stroke="#454545" stroke-width="0.5"/>
<circle cx="127.19" cy="737.33" r="1.8" fill="#a2a2a2" stroke="#454545" stroke-width="0.5"/>
<circle cx="124.92" cy="740.98" r="1.8" fill="#a2a2a2" stroke="#454545" stroke-width="0.5"/>
<circle cx="128.61" cy="747.73" r="1.8" fill="#a2a2a2" stroke="#454545" stroke-width="0.5"/>
<circle cx="122.07" cy="749.16" r="1.8" fill="#a2a2a2" stroke="#454545" stroke-width="0.5"/>
<circle cx="136.58" cy="743.11" r="1.8" fill="#a2a2a2" stroke="#454545" stroke-width="0.5"/>
<circle cx="115.69" cy="748.57" r="1.8" fill="#a2a2a2" stroke="#454545" stroke-width="0.5"/>
<circle cx="125.9" cy="737.6" r="1.8" fill="#a2a2a2" stroke="#454545" stroke-width="0.5"/>
<circle cx="128.71" cy="740.62" r="1.8" fill="#a2a2a2" stroke="#454545" stroke-width="0.5"/>
<circle cx="132.04" cy="713.85" r="1.8" fill="#a2a2a2" stroke="#454545" stroke-width="0.5"/>
<circle cx="128.71" cy="743.68" r="1.8" fill="#a2a2a2" stroke="#454545" stroke-width="0.5"/>
<circle cx="128.18" cy="741.84" r="1.8" fill="#a2a2a2" stroke="#454545" stroke-width="0.5"/>
<circle cx="129.7" cy="738.41" r="1.8" fill="#a2a2a2" stroke="#454545" stroke-width="0.5"/>
<circle cx="132.45" cy="726.57" r="1.8" fill="#a2a2a2" stroke="#454545" stroke-width="0.5"/>
<circle cx="122.7" cy="744.73" r="1.8" fill="#a2a2a2" stroke="#454545" stroke-width="0.5"/>
<circle cx="127.9" cy="745.1" r="1.8" fill="#a2a2a2" stroke="#454545" stroke-width="0.5"/>
<circle cx="132.06" cy="730.64" r="1.8" fill="#a2a2a2" stroke="#454545" stroke-width="0.5"/>
<circle cx="131.31" cy="734.39" r="1.8" fill="#a2a2a2" stroke="#454545" stroke-width="0.5"/>
<circle cx="123.85" cy="738.33" r="1.8" fill="#a2a2a2" stroke="#454545" stroke-width="0.5"/>
<circle cx="129.64" cy="736.89" r="1.8" fill="#a2a2a2" stroke="#454545" stroke-width="0.5"/>
<circle cx="131.13" cy="737.64" r="1.8" fill="#a2a2a2" stroke="#454545" stroke-width="0.5"/>
<circle cx="126.29" cy="729.74" r="1.8" fill="#a2a2a2" stroke="#454545" stroke-width="0.5"/>
<circle cx="127.03" cy="734.98" r="1.8" fill="#a2a2a2" stroke="#454545" stroke-width="0.5"/>
<circle cx="123.25" cy="740.16" r="1.8" fill="#a2a2a2" stroke="#454545" stroke-width="0.5"/>
<circle cx="126.43" cy="737.52" r="1.8" fill="#a2a2a2" stroke="#454545" stroke-width="0.5"/>
<circle cx="126.81" cy="734.22" r="1.8" fill="#a2a2a2" stroke="#454545" stroke-width="0.5"/>
<circle cx="115.89" cy="746.9" r="1.8" fill="#a2a2a2" stroke="#454545" stroke-width="0.5"/>
<circle cx="127.23" cy="743.9" r="1.8" fill="#a2a2a2" stroke="#454545" stroke-width="0.5"/>
<circle cx="135.99" cy="735.45" r="1.8" fill="#a2a2a2" stroke="#454545" stroke-width="0.5"/>
<circle cx="131.52" cy="745.79" r="1.8" fill="#a2a2a2" stroke="#454545" stroke-width="0.5"/>
<circle cx="128.57" cy="744.54" r="1.8" fill="#a2a2a2" stroke="#454545" stroke-width="0.5"/>
<circle cx="123.36" cy="735.38" r="1.8" fill="#a2a2a2" stroke="#454545" stroke-width="0.5"/>
<circle cx="60.58" cy="743.92" r="1.8" fill="#a2a2a2" stroke="#454545" stroke-width="0.5"/>
<circle cx="84.33" cy="746.26" r="1.8" fill="#a2a2a2" stroke="#454545" stroke-width="0.5"/>
<circle cx="135.79" cy="722.82" r="1.8" fill="#a2a2a2" stroke="#454545" stroke-width="0.5"/>
<circle cx="134.21" cy="725.16" r="1.8" fill="#a2a2a2" stroke="#454545" stroke-width="0.5"/>
<circle cx="123.91" cy="741.58" r="1.8" fill="#a2a2a2" stroke="#454545" stroke-width="0.5"/>
<circle cx="127.87" cy="747.44" r="1.8" fill="#a2a2a2" stroke="#454545" stroke-width="0.5"/>
<circle cx="130.25" cy="727.5" r="1.8" fill="#a2a2a2" stroke="#454545" stroke-width="0.5"/>
<circle cx="131.83" cy="729.85" r="1.8" fill="#a2a2a2" stroke="#454545" stroke-width="0.5"/>
</g>
<rect x="39.25" y="717" width="100.75" height="75.5" fill="none" stroke="#3a3a3a" stroke-width="0.7"/>
<line x1="40" y1="792.5" x2="40" y2="795" stroke="#3a3a3a" stroke-width="0.7" />
<text x="40" y="802.7" font-size="8" font-family="Liberation Sans" fill="#262626" text-anchor="middle" textLength="4.5" lengthAdjust="spacingAndGlyphs" stroke="#262626" stroke-width="0.22">0</text>
<line x1="71.67" y1="792.5" x2="71.67" y2="795" stroke="#3a3a3a" stroke-width="0.7" />
<text x="71.67" y="802.7" font-size="8" font-family="Liberation Sans" fill="#262626" text-anchor="middle" textLength="9" lengthAdjust="spacingAndGlyphs" stroke="#262626" stroke-width="0.22">20</text>
<line x1="103.33" y1="792.5" x2="103.33" y2="795" stroke="#3a3a3a" stroke-width="0.7" />
<text x="103.33" y="802.7" font-size="8" font-family="Liberation Sans" fill="#262626" text-anchor="middle" textLength="9" lengthAdjust="spacingAndGlyphs" stroke="#262626" stroke-width="0.22">40</text>
<line x1="135" y1="792.5" x2="135" y2="795" stroke="#3a3a3a" stroke-width="0.7" />
<text x="135" y="802.7" font-size="8" font-family="Liberation Sans" fill="#262626" text-anchor="middle" textLength="9" lengthAdjust="spacingAndGlyphs" stroke="#262626" stroke-width="0.22">60</text>
<line x1="36.75" y1="776.75" x2="39.25" y2="776.75" stroke="#3a3a3a" stroke-width="0.7" />
<text x="35.25" y="779.65" font-size="8" font-family="Liberation Sans" fill="#262626" text-anchor="end" textLength="15.9" lengthAdjust="spacingAndGlyphs" stroke="#262626" stroke-width="0.22">0.02</text>
<line x1="36.75" y1="753.3" x2="39.25" y2="753.3" stroke="#3a3a3a" stroke-width="0.7" />
<text x="35.25" y="756.2" font-size="8" font-family="Liberation Sans" fill="#262626" text-anchor="end" textLength="15.9" lengthAdjust="spacingAndGlyphs" stroke="#262626" stroke-width="0.22">0.04</text>
<line x1="36.75" y1="729.85" x2="39.25" y2="729.85" stroke="#3a3a3a" stroke-width="0.7" />
<text x="35.25" y="732.75" font-size="8" font-family="Liberation Sans" fill="#262626" text-anchor="end" textLength="15.9" lengthAdjust="spacingAndGlyphs" stroke="#262626" stroke-width="0.22">0.06</text>
<text x="89.62" y="812.7" font-size="8" font-family="Liberation Sans" fill="#262626" text-anchor="middle" textLength="102.5" lengthAdjust="spacingAndGlyphs" stroke="#262626" stroke-width="0.22">max. yielding contacts [%]</text>
<text x="14" y="755.3" font-size="8" font-family="Liberation Sans" fill="#262626" text-anchor="middle" textLength="65" lengthAdjust="spacingAndGlyphs" transform="rotate(-90 14 755.3)" stroke="#262626" stroke-width="0.22">settlement [mm]</text>
<line x1="186.5" y1="717" x2="186.5" y2="793" stroke="#d4d4d4" stroke-width="0.8" />
<line x1="217.92" y1="717" x2="217.92" y2="793" stroke="#d4d4d4" stroke-width="0.8" />
<line x1="249.33" y1="717" x2="249.33" y2="793" stroke="#d4d4d4" stroke-width="0.8" />
<line x1="280.75" y1="717" x2="280.75" y2="793" stroke="#d4d4d4" stroke-width="0.8" />
<line x1="186.25" y1="778.75" x2="286.75" y2="778.75" stroke="#d4d4d4" stroke-width="0.8" />
<line x1="186.25" y1="749.5" x2="286.75" y2="749.5" stroke="#d4d4d4" stroke-width="0.8" />
<line x1="186.25" y1="720.25" x2="286.75" y2="720.25" stroke="#d4d4d4" stroke-width="0.8" />
<g clip-path="url(#c186_717)">
<circle cx="198.24" cy="722.22" r="1.8" fill="#a2a2a2" stroke="#454545" stroke-width="0.5"/>
<circle cx="200.1" cy="723.33" r="1.8" fill="#a2a2a2" stroke="#454545" stroke-width="0.5"/>
<circle cx="206.4" cy="726.07" r="1.8" fill="#a2a2a2" stroke="#454545" stroke-width="0.5"/>
<circle cx="198.47" cy="723.6" r="1.8" fill="#a2a2a2" stroke="#454545" stroke-width="0.5"/>
<circle cx="199.2" cy="720.83" r="1.8" fill="#a2a2a2" stroke="#454545" stroke-width="0.5"/>
<circle cx="200.58" cy="724.9" r="1.8" fill="#a2a2a2" stroke="#454545" stroke-width="0.5"/>
<circle cx="193.62" cy="726.52" r="1.8" fill="#a2a2a2" stroke="#454545" stroke-width="0.5"/>
<circle cx="199.27" cy="725.22" r="1.8" fill="#a2a2a2" stroke="#454545" stroke-width="0.5"/>
<circle cx="201.31" cy="727.23" r="1.8" fill="#a2a2a2" stroke="#454545" stroke-width="0.5"/>
<circle cx="204.13" cy="725.81" r="1.8" fill="#a2a2a2" stroke="#454545" stroke-width="0.5"/>
<circle cx="192.05" cy="722.91" r="1.8" fill="#a2a2a2" stroke="#454545" stroke-width="0.5"/>
<circle cx="195.67" cy="721.02" r="1.8" fill="#a2a2a2" stroke="#454545" stroke-width="0.5"/>
<circle cx="191.99" cy="723.54" r="1.8" fill="#a2a2a2" stroke="#454545" stroke-width="0.5"/>
<circle cx="204.42" cy="721.88" r="1.8" fill="#a2a2a2" stroke="#454545" stroke-width="0.5"/>
<circle cx="202.41" cy="722.67" r="1.8" fill="#a2a2a2" stroke="#454545" stroke-width="0.5"/>
<circle cx="191.15" cy="720.83" r="1.8" fill="#a2a2a2" stroke="#454545" stroke-width="0.5"/>
<circle cx="207.4" cy="720.83" r="1.8" fill="#a2a2a2" stroke="#454545" stroke-width="0.5"/>
<circle cx="207.1" cy="721.76" r="1.8" fill="#a2a2a2" stroke="#454545" stroke-width="0.5"/>
<circle cx="201.73" cy="721.95" r="1.8" fill="#a2a2a2" stroke="#454545" stroke-width="0.5"/>
<circle cx="201.06" cy="722.46" r="1.8" fill="#a2a2a2" stroke="#454545" stroke-width="0.5"/>
<circle cx="193.15" cy="724.72" r="1.8" fill="#a2a2a2" stroke="#454545" stroke-width="0.5"/>
<circle cx="190.69" cy="723.06" r="1.8" fill="#a2a2a2" stroke="#454545" stroke-width="0.5"/>
<circle cx="199.56" cy="720.83" r="1.8" fill="#a2a2a2" stroke="#454545" stroke-width="0.5"/>
<circle cx="191.46" cy="723.87" r="1.8" fill="#a2a2a2" stroke="#454545" stroke-width="0.5"/>
<circle cx="193.71" cy="727.05" r="1.8" fill="#a2a2a2" stroke="#454545" stroke-width="0.5"/>
<circle cx="194.61" cy="728.07" r="1.8" fill="#a2a2a2" stroke="#454545" stroke-width="0.5"/>
<circle cx="190.95" cy="721.25" r="1.8" fill="#a2a2a2" stroke="#454545" stroke-width="0.5"/>
<circle cx="198.44" cy="724.33" r="1.8" fill="#a2a2a2" stroke="#454545" stroke-width="0.5"/>
<circle cx="198.04" cy="722.21" r="1.8" fill="#a2a2a2" stroke="#454545" stroke-width="0.5"/>
<circle cx="204.98" cy="725.29" r="1.8" fill="#a2a2a2" stroke="#454545" stroke-width="0.5"/>
<circle cx="199.4" cy="722.44" r="1.8" fill="#a2a2a2" stroke="#454545" stroke-width="0.5"/>
<circle cx="201.49" cy="722.02" r="1.8" fill="#a2a2a2" stroke="#454545" stroke-width="0.5"/>
<circle cx="199.06" cy="722.44" r="1.8" fill="#a2a2a2" stroke="#454545" stroke-width="0.5"/>
<circle cx="201.87" cy="720.83" r="1.8" fill="#a2a2a2" stroke="#454545" stroke-width="0.5"/>
<circle cx="198.33" cy="728.44" r="1.8" fill="#a2a2a2" stroke="#454545" stroke-width="0.5"/>
<circle cx="195.23" cy="721.85" r="1.8" fill="#a2a2a2" stroke="#454545" stroke-width="0.5"/>
<circle cx="207.67" cy="727.31" r="1.8" fill="#a2a2a2" stroke="#454545" stroke-width="0.5"/>
<circle cx="207.63" cy="723.6" r="1.8" fill="#a2a2a2" stroke="#454545" stroke-width="0.5"/>
<circle cx="204.94" cy="720.83" r="1.8" fill="#a2a2a2" stroke="#454545" stroke-width="0.5"/>
<circle cx="202.66" cy="723.25" r="1.8" fill="#a2a2a2" stroke="#454545" stroke-width="0.5"/>
<circle cx="195.87" cy="720.83" r="1.8" fill="#a2a2a2" stroke="#454545" stroke-width="0.5"/>
<circle cx="194.4" cy="722.93" r="1.8" fill="#a2a2a2" stroke="#454545" stroke-width="0.5"/>
<circle cx="195.42" cy="720.83" r="1.8" fill="#a2a2a2" stroke="#454545" stroke-width="0.5"/>
<circle cx="191.64" cy="720.83" r="1.8" fill="#a2a2a2" stroke="#454545" stroke-width="0.5"/>
<circle cx="203.67" cy="726.74" r="1.8" fill="#a2a2a2" stroke="#454545" stroke-width="0.5"/>
<circle cx="197.35" cy="724.28" r="1.8" fill="#a2a2a2" stroke="#454545" stroke-width="0.5"/>
<circle cx="232.67" cy="723.72" r="1.8" fill="#a2a2a2" stroke="#454545" stroke-width="0.5"/>
<circle cx="220.38" cy="721.43" r="1.8" fill="#a2a2a2" stroke="#454545" stroke-width="0.5"/>
<circle cx="235.65" cy="721.29" r="1.8" fill="#a2a2a2" stroke="#454545" stroke-width="0.5"/>
<circle cx="232.69" cy="721.21" r="1.8" fill="#a2a2a2" stroke="#454545" stroke-width="0.5"/>
<circle cx="210.08" cy="723.36" r="1.8" fill="#a2a2a2" stroke="#454545" stroke-width="0.5"/>
<circle cx="215.66" cy="723.21" r="1.8" fill="#a2a2a2" stroke="#454545" stroke-width="0.5"/>
<circle cx="234.37" cy="725.62" r="1.8" fill="#a2a2a2" stroke="#454545" stroke-width="0.5"/>
<circle cx="222.61" cy="724.37" r="1.8" fill="#a2a2a2" stroke="#454545" stroke-width="0.5"/>
<circle cx="236.24" cy="725.22" r="1.8" fill="#a2a2a2" stroke="#454545" stroke-width="0.5"/>
<circle cx="220.67" cy="720.83" r="1.8" fill="#a2a2a2" stroke="#454545" stroke-width="0.5"/>
<circle cx="212.01" cy="720.83" r="1.8" fill="#a2a2a2" stroke="#454545" stroke-width="0.5"/>
<circle cx="226.87" cy="725.22" r="1.8" fill="#a2a2a2" stroke="#454545" stroke-width="0.5"/>
<circle cx="230.85" cy="721.1" r="1.8" fill="#a2a2a2" stroke="#454545" stroke-width="0.5"/>
<circle cx="217.27" cy="727.67" r="1.8" fill="#a2a2a2" stroke="#454545" stroke-width="0.5"/>
<circle cx="212.39" cy="723.05" r="1.8" fill="#a2a2a2" stroke="#454545" stroke-width="0.5"/>
<circle cx="218.94" cy="722.16" r="1.8" fill="#a2a2a2" stroke="#454545" stroke-width="0.5"/>
<circle cx="235.81" cy="724.8" r="1.8" fill="#a2a2a2" stroke="#454545" stroke-width="0.5"/>
<circle cx="230.3" cy="721.69" r="1.8" fill="#a2a2a2" stroke="#454545" stroke-width="0.5"/>
<circle cx="213.21" cy="723.39" r="1.8" fill="#a2a2a2" stroke="#454545" stroke-width="0.5"/>
<circle cx="216.64" cy="722.02" r="1.8" fill="#a2a2a2" stroke="#454545" stroke-width="0.5"/>
<circle cx="212.76" cy="723.15" r="1.8" fill="#a2a2a2" stroke="#454545" stroke-width="0.5"/>
<circle cx="211.66" cy="727.2" r="1.8" fill="#a2a2a2" stroke="#454545" stroke-width="0.5"/>
<circle cx="231.35" cy="725.53" r="1.8" fill="#a2a2a2" stroke="#454545" stroke-width="0.5"/>
<circle cx="214.81" cy="722.97" r="1.8" fill="#a2a2a2" stroke="#454545" stroke-width="0.5"/>
<circle cx="225" cy="727.53" r="1.8" fill="#a2a2a2" stroke="#454545" stroke-width="0.5"/>
<circle cx="222.01" cy="724.65" r="1.8" fill="#a2a2a2" stroke="#454545" stroke-width="0.5"/>
<circle cx="215.15" cy="720.83" r="1.8" fill="#a2a2a2" stroke="#454545" stroke-width="0.5"/>
<circle cx="229.61" cy="725.32" r="1.8" fill="#a2a2a2" stroke="#454545" stroke-width="0.5"/>
<circle cx="213.56" cy="726.68" r="1.8" fill="#a2a2a2" stroke="#454545" stroke-width="0.5"/>
<circle cx="227.25" cy="723.98" r="1.8" fill="#a2a2a2" stroke="#454545" stroke-width="0.5"/>
<circle cx="213.17" cy="722.78" r="1.8" fill="#a2a2a2" stroke="#454545" stroke-width="0.5"/>
<circle cx="221.3" cy="720.83" r="1.8" fill="#a2a2a2" stroke="#454545" stroke-width="0.5"/>
<circle cx="215.75" cy="725.52" r="1.8" fill="#a2a2a2" stroke="#454545" stroke-width="0.5"/>
<circle cx="217.27" cy="722.97" r="1.8" fill="#a2a2a2" stroke="#454545" stroke-width="0.5"/>
<circle cx="235.99" cy="724.03" r="1.8" fill="#a2a2a2" stroke="#454545" stroke-width="0.5"/>
<circle cx="231.52" cy="720.83" r="1.8" fill="#a2a2a2" stroke="#454545" stroke-width="0.5"/>
<circle cx="218.18" cy="722.23" r="1.8" fill="#a2a2a2" stroke="#454545" stroke-width="0.5"/>
<circle cx="233.69" cy="724.06" r="1.8" fill="#a2a2a2" stroke="#454545" stroke-width="0.5"/>
<circle cx="215.69" cy="723.05" r="1.8" fill="#a2a2a2" stroke="#454545" stroke-width="0.5"/>
<circle cx="220.59" cy="725.28" r="1.8" fill="#a2a2a2" stroke="#454545" stroke-width="0.5"/>
<circle cx="255.55" cy="730.84" r="1.8" fill="#a2a2a2" stroke="#454545" stroke-width="0.5"/>
<circle cx="250.88" cy="730.12" r="1.8" fill="#a2a2a2" stroke="#454545" stroke-width="0.5"/>
<circle cx="238.97" cy="725.5" r="1.8" fill="#a2a2a2" stroke="#454545" stroke-width="0.5"/>
<circle cx="258.52" cy="740.87" r="1.8" fill="#a2a2a2" stroke="#454545" stroke-width="0.5"/>
<circle cx="241.46" cy="725.42" r="1.8" fill="#a2a2a2" stroke="#454545" stroke-width="0.5"/>
<circle cx="242.45" cy="722.87" r="1.8" fill="#a2a2a2" stroke="#454545" stroke-width="0.5"/>
<circle cx="253.76" cy="732.49" r="1.8" fill="#a2a2a2" stroke="#454545" stroke-width="0.5"/>
<circle cx="244" cy="724.39" r="1.8" fill="#a2a2a2" stroke="#454545" stroke-width="0.5"/>
<circle cx="243.28" cy="726.71" r="1.8" fill="#a2a2a2" stroke="#454545" stroke-width="0.5"/>
<circle cx="238.38" cy="727.36" r="1.8" fill="#a2a2a2" stroke="#454545" stroke-width="0.5"/>
<circle cx="238.75" cy="725.59" r="1.8" fill="#a2a2a2" stroke="#454545" stroke-width="0.5"/>
<circle cx="249.58" cy="727.89" r="1.8" fill="#a2a2a2" stroke="#454545" stroke-width="0.5"/>
<circle cx="242.11" cy="724.8" r="1.8" fill="#a2a2a2" stroke="#454545" stroke-width="0.5"/>
<circle cx="249.99" cy="730.13" r="1.8" fill="#a2a2a2" stroke="#454545" stroke-width="0.5"/>
<circle cx="244.94" cy="727.05" r="1.8" fill="#a2a2a2" stroke="#454545" stroke-width="0.5"/>
<circle cx="246.73" cy="724.33" r="1.8" fill="#a2a2a2" stroke="#454545" stroke-width="0.5"/>
<circle cx="257.86" cy="731.55" r="1.8" fill="#a2a2a2" stroke="#454545" stroke-width="0.5"/>
<circle cx="247.4" cy="729.6" r="1.8" fill="#a2a2a2" stroke="#454545" stroke-width="0.5"/>
<circle cx="249.4" cy="721.96" r="1.8" fill="#a2a2a2" stroke="#454545" stroke-width="0.5"/>
<circle cx="255.82" cy="733.07" r="1.8" fill="#a2a2a2" stroke="#454545" stroke-width="0.5"/>
<circle cx="240.79" cy="726.34" r="1.8" fill="#a2a2a2" stroke="#454545" stroke-width="0.5"/>
<circle cx="240.16" cy="723.55" r="1.8" fill="#a2a2a2" stroke="#454545" stroke-width="0.5"/>
<circle cx="256.74" cy="732.05" r="1.8" fill="#a2a2a2" stroke="#454545" stroke-width="0.5"/>
<circle cx="254.75" cy="736.94" r="1.8" fill="#a2a2a2" stroke="#454545" stroke-width="0.5"/>
<circle cx="242.25" cy="729.12" r="1.8" fill="#a2a2a2" stroke="#454545" stroke-width="0.5"/>
<circle cx="240.94" cy="724.8" r="1.8" fill="#a2a2a2" stroke="#454545" stroke-width="0.5"/>
<circle cx="253.03" cy="736.98" r="1.8" fill="#a2a2a2" stroke="#454545" stroke-width="0.5"/>
<circle cx="257.45" cy="746.34" r="1.8" fill="#a2a2a2" stroke="#454545" stroke-width="0.5"/>
<circle cx="241.09" cy="722.94" r="1.8" fill="#a2a2a2" stroke="#454545" stroke-width="0.5"/>
<circle cx="257.66" cy="737.02" r="1.8" fill="#a2a2a2" stroke="#454545" stroke-width="0.5"/>
<circle cx="256.17" cy="734.45" r="1.8" fill="#a2a2a2" stroke="#454545" stroke-width="0.5"/>
<circle cx="250.04" cy="727.99" r="1.8" fill="#a2a2a2" stroke="#454545" stroke-width="0.5"/>
<circle cx="269.76" cy="746.66" r="1.8" fill="#a2a2a2" stroke="#454545" stroke-width="0.5"/>
<circle cx="262.64" cy="736.94" r="1.8" fill="#a2a2a2" stroke="#454545" stroke-width="0.5"/>
<circle cx="259.9" cy="742.43" r="1.8" fill="#a2a2a2" stroke="#454545" stroke-width="0.5"/>
<circle cx="279.87" cy="770.89" r="1.8" fill="#a2a2a2" stroke="#454545" stroke-width="0.5"/>
<circle cx="266.26" cy="748.75" r="1.8" fill="#a2a2a2" stroke="#454545" stroke-width="0.5"/>
<circle cx="274" cy="752.41" r="1.8" fill="#a2a2a2" stroke="#454545" stroke-width="0.5"/>
<circle cx="266.66" cy="738.52" r="1.8" fill="#a2a2a2" stroke="#454545" stroke-width="0.5"/>
<circle cx="276.07" cy="765.66" r="1.8" fill="#a2a2a2" stroke="#454545" stroke-width="0.5"/>
<circle cx="272.45" cy="756.43" r="1.8" fill="#a2a2a2" stroke="#454545" stroke-width="0.5"/>
<circle cx="267.42" cy="747.89" r="1.8" fill="#a2a2a2" stroke="#454545" stroke-width="0.5"/>
<circle cx="264.74" cy="743.84" r="1.8" fill="#a2a2a2" stroke="#454545" stroke-width="0.5"/>
<circle cx="274.24" cy="755.5" r="1.8" fill="#a2a2a2" stroke="#454545" stroke-width="0.5"/>
<circle cx="261.33" cy="733.59" r="1.8" fill="#a2a2a2" stroke="#454545" stroke-width="0.5"/>
<circle cx="266.03" cy="747.14" r="1.8" fill="#a2a2a2" stroke="#454545" stroke-width="0.5"/>
<circle cx="271.92" cy="753.93" r="1.8" fill="#a2a2a2" stroke="#454545" stroke-width="0.5"/>
<circle cx="276.67" cy="762.48" r="1.8" fill="#a2a2a2" stroke="#454545" stroke-width="0.5"/>
<circle cx="272.7" cy="762.01" r="1.8" fill="#a2a2a2" stroke="#454545" stroke-width="0.5"/>
<circle cx="267.15" cy="752.55" r="1.8" fill="#a2a2a2" stroke="#454545" stroke-width="0.5"/>
<circle cx="278.29" cy="773.36" r="1.8" fill="#a2a2a2" stroke="#454545" stroke-width="0.5"/>
<circle cx="265.46" cy="744.34" r="1.8" fill="#a2a2a2" stroke="#454545" stroke-width="0.5"/>
<circle cx="258.42" cy="733.79" r="1.8" fill="#a2a2a2" stroke="#454545" stroke-width="0.5"/>
<circle cx="266.92" cy="743.04" r="1.8" fill="#a2a2a2" stroke="#454545" stroke-width="0.5"/>
<circle cx="270.17" cy="736.67" r="1.8" fill="#a2a2a2" stroke="#454545" stroke-width="0.5"/>
<circle cx="260.97" cy="732.09" r="1.8" fill="#a2a2a2" stroke="#454545" stroke-width="0.5"/>
<circle cx="264.76" cy="739.84" r="1.8" fill="#a2a2a2" stroke="#454545" stroke-width="0.5"/>
<circle cx="268.85" cy="747.58" r="1.8" fill="#a2a2a2" stroke="#454545" stroke-width="0.5"/>
<circle cx="272.1" cy="744.66" r="1.8" fill="#a2a2a2" stroke="#454545" stroke-width="0.5"/>
<circle cx="263.52" cy="736.29" r="1.8" fill="#a2a2a2" stroke="#454545" stroke-width="0.5"/>
<circle cx="268.73" cy="741.83" r="1.8" fill="#a2a2a2" stroke="#454545" stroke-width="0.5"/>
<circle cx="277.57" cy="751.56" r="1.8" fill="#a2a2a2" stroke="#454545" stroke-width="0.5"/>
<circle cx="280.76" cy="772.09" r="1.8" fill="#a2a2a2" stroke="#454545" stroke-width="0.5"/>
<circle cx="273.29" cy="750.96" r="1.8" fill="#a2a2a2" stroke="#454545" stroke-width="0.5"/>
<circle cx="273.79" cy="756.88" r="1.8" fill="#a2a2a2" stroke="#454545" stroke-width="0.5"/>
<circle cx="272.28" cy="756.5" r="1.8" fill="#a2a2a2" stroke="#454545" stroke-width="0.5"/>
<circle cx="263.78" cy="733.81" r="1.8" fill="#a2a2a2" stroke="#454545" stroke-width="0.5"/>
<circle cx="259.7" cy="733.59" r="1.8" fill="#a2a2a2" stroke="#454545" stroke-width="0.5"/>
<circle cx="258.53" cy="739.94" r="1.8" fill="#a2a2a2" stroke="#454545" stroke-width="0.5"/>
<circle cx="278.08" cy="756.98" r="1.8" fill="#a2a2a2" stroke="#454545" stroke-width="0.5"/>
<circle cx="273.94" cy="755.97" r="1.8" fill="#a2a2a2" stroke="#454545" stroke-width="0.5"/>
<circle cx="279.87" cy="764.59" r="1.8" fill="#a2a2a2" stroke="#454545" stroke-width="0.5"/>
<circle cx="258.79" cy="734.75" r="1.8" fill="#a2a2a2" stroke="#454545" stroke-width="0.5"/>
<circle cx="273" cy="757.87" r="1.8" fill="#a2a2a2" stroke="#454545" stroke-width="0.5"/>
<circle cx="270.75" cy="752.13" r="1.8" fill="#a2a2a2" stroke="#454545" stroke-width="0.5"/>
<circle cx="274.41" cy="758.62" r="1.8" fill="#a2a2a2" stroke="#454545" stroke-width="0.5"/>
<circle cx="267.92" cy="742.57" r="1.8" fill="#a2a2a2" stroke="#454545" stroke-width="0.5"/>
<circle cx="282.32" cy="766.51" r="1.8" fill="#a2a2a2" stroke="#454545" stroke-width="0.5"/>
<circle cx="261.59" cy="734.32" r="1.8" fill="#a2a2a2" stroke="#454545" stroke-width="0.5"/>
<circle cx="271.72" cy="759.16" r="1.8" fill="#a2a2a2" stroke="#454545" stroke-width="0.5"/>
<circle cx="274.51" cy="760.83" r="1.8" fill="#a2a2a2" stroke="#454545" stroke-width="0.5"/>
<circle cx="277.81" cy="761.9" r="1.8" fill="#a2a2a2" stroke="#454545" stroke-width="0.5"/>
<circle cx="274.51" cy="759.98" r="1.8" fill="#a2a2a2" stroke="#454545" stroke-width="0.5"/>
<circle cx="273.98" cy="751.57" r="1.8" fill="#a2a2a2" stroke="#454545" stroke-width="0.5"/>
<circle cx="275.49" cy="755.3" r="1.8" fill="#a2a2a2" stroke="#454545" stroke-width="0.5"/>
<circle cx="278.22" cy="765.99" r="1.8" fill="#a2a2a2" stroke="#454545" stroke-width="0.5"/>
<circle cx="268.54" cy="749.75" r="1.8" fill="#a2a2a2" stroke="#454545" stroke-width="0.5"/>
<circle cx="273.7" cy="763.05" r="1.8" fill="#a2a2a2" stroke="#454545" stroke-width="0.5"/>
<circle cx="277.83" cy="769.03" r="1.8" fill="#a2a2a2" stroke="#454545" stroke-width="0.5"/>
<circle cx="277.09" cy="759.42" r="1.8" fill="#a2a2a2" stroke="#454545" stroke-width="0.5"/>
<circle cx="269.69" cy="752.07" r="1.8" fill="#a2a2a2" stroke="#454545" stroke-width="0.5"/>
<circle cx="275.44" cy="768.44" r="1.8" fill="#a2a2a2" stroke="#454545" stroke-width="0.5"/>
<circle cx="276.91" cy="760.88" r="1.8" fill="#a2a2a2" stroke="#454545" stroke-width="0.5"/>
<circle cx="272.11" cy="754.06" r="1.8" fill="#a2a2a2" stroke="#454545" stroke-width="0.5"/>
<circle cx="272.84" cy="753.56" r="1.8" fill="#a2a2a2" stroke="#454545" stroke-width="0.5"/>
<circle cx="269.09" cy="745.34" r="1.8" fill="#a2a2a2" stroke="#454545" stroke-width="0.5"/>
<circle cx="272.25" cy="759.67" r="1.8" fill="#a2a2a2" stroke="#454545" stroke-width="0.5"/>
<circle cx="272.62" cy="757.57" r="1.8" fill="#a2a2a2" stroke="#454545" stroke-width="0.5"/>
<circle cx="261.79" cy="731.25" r="1.8" fill="#a2a2a2" stroke="#454545" stroke-width="0.5"/>
<circle cx="273.04" cy="764.22" r="1.8" fill="#a2a2a2" stroke="#454545" stroke-width="0.5"/>
<circle cx="281.74" cy="770.73" r="1.8" fill="#a2a2a2" stroke="#454545" stroke-width="0.5"/>
<circle cx="277.3" cy="765.81" r="1.8" fill="#a2a2a2" stroke="#454545" stroke-width="0.5"/>
<circle cx="274.37" cy="752.32" r="1.8" fill="#a2a2a2" stroke="#454545" stroke-width="0.5"/>
<circle cx="269.2" cy="740.09" r="1.8" fill="#a2a2a2" stroke="#454545" stroke-width="0.5"/>
<circle cx="206.92" cy="724.35" r="1.8" fill="#a2a2a2" stroke="#454545" stroke-width="0.5"/>
<circle cx="230.48" cy="722.59" r="1.8" fill="#a2a2a2" stroke="#454545" stroke-width="0.5"/>
<circle cx="281.53" cy="768.22" r="1.8" fill="#a2a2a2" stroke="#454545" stroke-width="0.5"/>
<circle cx="279.96" cy="765.88" r="1.8" fill="#a2a2a2" stroke="#454545" stroke-width="0.5"/>
<circle cx="269.75" cy="789.28" r="1.8" fill="#a2a2a2" stroke="#454545" stroke-width="0.5"/>
<circle cx="273.68" cy="788.69" r="1.8" fill="#a2a2a2" stroke="#454545" stroke-width="0.5"/>
<circle cx="276.04" cy="782.84" r="1.8" fill="#a2a2a2" stroke="#454545" stroke-width="0.5"/>
<circle cx="277.61" cy="784.02" r="1.8" fill="#a2a2a2" stroke="#454545" stroke-width="0.5"/>
</g>
<rect x="186.25" y="717" width="100.5" height="76" fill="none" stroke="#3a3a3a" stroke-width="0.7"/>
<line x1="186.5" y1="793" x2="186.5" y2="795.5" stroke="#3a3a3a" stroke-width="0.7" />
<text x="186.5" y="803.2" font-size="8" font-family="Liberation Sans" fill="#262626" text-anchor="middle" textLength="4.5" lengthAdjust="spacingAndGlyphs" stroke="#262626" stroke-width="0.22">0</text>
<line x1="217.92" y1="793" x2="217.92" y2="795.5" stroke="#3a3a3a" stroke-width="0.7" />
<text x="217.92" y="803.2" font-size="8" font-family="Liberation Sans" fill="#262626" text-anchor="middle" textLength="9" lengthAdjust="spacingAndGlyphs" stroke="#262626" stroke-width="0.22">20</text>
<line x1="249.33" y1="793" x2="249.33" y2="795.5" stroke="#3a3a3a" stroke-width="0.7" />
<text x="249.33" y="803.2" font-size="8" font-family="Liberation Sans" fill="#262626" text-anchor="middle" textLength="9" lengthAdjust="spacingAndGlyphs" stroke="#262626" stroke-width="0.22">40</text>
<line x1="280.75" y1="793" x2="280.75" y2="795.5" stroke="#3a3a3a" stroke-width="0.7" />
<text x="280.75" y="803.2" font-size="8" font-family="Liberation Sans" fill="#262626" text-anchor="middle" textLength="9" lengthAdjust="spacingAndGlyphs" stroke="#262626" stroke-width="0.22">60</text>
<line x1="183.75" y1="778.75" x2="186.25" y2="778.75" stroke="#3a3a3a" stroke-width="0.7" />
<text x="182.25" y="781.65" font-size="8" font-family="Liberation Sans" fill="#262626" text-anchor="end" textLength="20.45" lengthAdjust="spacingAndGlyphs" stroke="#262626" stroke-width="0.22">0.435</text>
<line x1="183.75" y1="749.5" x2="186.25" y2="749.5" stroke="#3a3a3a" stroke-width="0.7" />
<text x="182.25" y="752.4" font-size="8" font-family="Liberation Sans" fill="#262626" text-anchor="end" textLength="20.45" lengthAdjust="spacingAndGlyphs" stroke="#262626" stroke-width="0.22">0.440</text>
<line x1="183.75" y1="720.25" x2="186.25" y2="720.25" stroke="#3a3a3a" stroke-width="0.7" />
<text x="182.25" y="723.15" font-size="8" font-family="Liberation Sans" fill="#262626" text-anchor="end" textLength="20.45" lengthAdjust="spacingAndGlyphs" stroke="#262626" stroke-width="0.22">0.445</text>
<text x="236.5" y="813.2" font-size="8" font-family="Liberation Sans" fill="#262626" text-anchor="middle" textLength="102.5" lengthAdjust="spacingAndGlyphs" stroke="#262626" stroke-width="0.22">max. yielding contacts [%]</text>
<text x="155" y="755.7" font-size="8" font-family="Liberation Sans" fill="#262626" text-anchor="middle" textLength="62" lengthAdjust="spacingAndGlyphs" transform="rotate(-90 155 755.7)" stroke="#262626" stroke-width="0.22">final porosity [-]</text>
<line x1="384.5" y1="622" x2="384.5" y2="793" stroke="#d4d4d4" stroke-width="0.8" />
<line x1="398.8" y1="622" x2="398.8" y2="793" stroke="#d4d4d4" stroke-width="0.8" />
<line x1="413.1" y1="622" x2="413.1" y2="793" stroke="#d4d4d4" stroke-width="0.8" />
<line x1="427.4" y1="622" x2="427.4" y2="793" stroke="#d4d4d4" stroke-width="0.8" />
<line x1="441.7" y1="622" x2="441.7" y2="793" stroke="#d4d4d4" stroke-width="0.8" />
<line x1="374.5" y1="791" x2="444.5" y2="791" stroke="#d4d4d4" stroke-width="0.8" />
<line x1="374.5" y1="753.25" x2="444.5" y2="753.25" stroke="#d4d4d4" stroke-width="0.8" />
<line x1="374.5" y1="715.5" x2="444.5" y2="715.5" stroke="#d4d4d4" stroke-width="0.8" />
<line x1="374.5" y1="677.75" x2="444.5" y2="677.75" stroke="#d4d4d4" stroke-width="0.8" />
<line x1="374.5" y1="640" x2="444.5" y2="640" stroke="#d4d4d4" stroke-width="0.8" />
<line x1="398.8" y1="689.45" x2="398.8" y2="629.43" stroke="#3a3a3a" stroke-width="0.7" />
<line x1="398.8" y1="746.46" x2="398.8" y2="784.96" stroke="#3a3a3a" stroke-width="0.7" />
<line x1="397" y1="629.43" x2="400.6" y2="629.43" stroke="#3a3a3a" stroke-width="0.7" />
<line x1="397" y1="784.96" x2="400.6" y2="784.96" stroke="#3a3a3a" stroke-width="0.7" />
<rect x="395.2" y="689.45" width="7.2" height="57" fill="#add8e6" stroke="#2a2a2a" stroke-width="0.7"/>
<line x1="395.6" y1="717.76" x2="402" y2="717.76" stroke="#ff7f0e" stroke-width="0.8" />
<line x1="413.1" y1="686.05" x2="413.1" y2="633.21" stroke="#3a3a3a" stroke-width="0.7" />
<line x1="413.1" y1="744.95" x2="413.1" y2="778.16" stroke="#3a3a3a" stroke-width="0.7" />
<line x1="411.3" y1="633.21" x2="414.9" y2="633.21" stroke="#3a3a3a" stroke-width="0.7" />
<line x1="411.3" y1="778.16" x2="414.9" y2="778.16" stroke="#3a3a3a" stroke-width="0.7" />
<rect x="409.5" y="686.05" width="7.2" height="58.89" fill="#6495ed" stroke="#2a2a2a" stroke-width="0.7"/>
<line x1="409.9" y1="711.35" x2="416.3" y2="711.35" stroke="#ff7f0e" stroke-width="0.8" />
<polyline points="377.35,725.69 384.5,716.25 398.8,712.48 413.1,710.22 427.4,709.84 441.7,710.59" fill="none" stroke="#2b2be6" stroke-width="1.0" stroke-linejoin="round" />
<circle cx="377.35" cy="725.69" r="1.6" fill="#0c0cb4"/>
<circle cx="384.5" cy="716.25" r="1.6" fill="#0c0cb4"/>
<circle cx="427.4" cy="709.84" r="1.6" fill="#0c0cb4"/>
<circle cx="441.7" cy="710.59" r="1.6" fill="#0c0cb4"/>
<polyline points="377.35,731.36 384.5,726.83 398.8,717.01 413.1,712.48 427.4,710.97 441.7,712.86" fill="none" stroke="#2b2be6" stroke-width="1.0" stroke-linejoin="round" />
<circle cx="377.35" cy="731.36" r="1.6" fill="#0c0cb4"/>
<circle cx="384.5" cy="726.83" r="1.6" fill="#0c0cb4"/>
<circle cx="427.4" cy="710.97" r="1.6" fill="#0c0cb4"/>
<circle cx="441.7" cy="712.86" r="1.6" fill="#0c0cb4"/>
<polyline points="377.35,732.49 384.5,732.11 398.8,721.92 413.1,714.75 427.4,714.75 441.7,716.63" fill="none" stroke="#2b2be6" stroke-width="1.0" stroke-linejoin="round" />
<circle cx="377.35" cy="732.49" r="1.6" fill="#0c0cb4"/>
<circle cx="384.5" cy="732.11" r="1.6" fill="#0c0cb4"/>
<circle cx="427.4" cy="714.75" r="1.6" fill="#0c0cb4"/>
<circle cx="441.7" cy="716.63" r="1.6" fill="#0c0cb4"/>
<rect x="374.5" y="622" width="70" height="171" fill="none" stroke="#3a3a3a" stroke-width="0.7"/>
<line x1="384.5" y1="793" x2="384.5" y2="795.5" stroke="#3a3a3a" stroke-width="0.7" />
<text x="384.5" y="802.2" font-size="8" font-family="Liberation Sans" fill="#262626" text-anchor="middle" textLength="11.2" lengthAdjust="spacingAndGlyphs" stroke="#262626" stroke-width="0.22">0.3</text>
<line x1="398.8" y1="793" x2="398.8" y2="795.5" stroke="#3a3a3a" stroke-width="0.7" />
<text x="398.8" y="802.2" font-size="8" font-family="Liberation Sans" fill="#262626" text-anchor="middle" textLength="11.2" lengthAdjust="spacingAndGlyphs" stroke="#262626" stroke-width="0.22">0.4</text>
<line x1="413.1" y1="793" x2="413.1" y2="795.5" stroke="#3a3a3a" stroke-width="0.7" />
<text x="413.1" y="802.2" font-size="8" font-family="Liberation Sans" fill="#262626" text-anchor="middle" textLength="11.2" lengthAdjust="spacingAndGlyphs" stroke="#262626" stroke-width="0.22">0.5</text>
<line x1="427.4" y1="793" x2="427.4" y2="795.5" stroke="#3a3a3a" stroke-width="0.7" />
<text x="427.4" y="802.2" font-size="8" font-family="Liberation Sans" fill="#262626" text-anchor="middle" textLength="11.2" lengthAdjust="spacingAndGlyphs" stroke="#262626" stroke-width="0.22">0.6</text>
<line x1="441.7" y1="793" x2="441.7" y2="795.5" stroke="#3a3a3a" stroke-width="0.7" />
<text x="441.7" y="802.2" font-size="8" font-family="Liberation Sans" fill="#262626" text-anchor="middle" textLength="11.2" lengthAdjust="spacingAndGlyphs" stroke="#262626" stroke-width="0.22">0.7</text>
<line x1="372" y1="791" x2="374.5" y2="791" stroke="#3a3a3a" stroke-width="0.7" />
<text x="370.5" y="793.9" font-size="8" font-family="Liberation Sans" fill="#262626" text-anchor="end" textLength="13.65" lengthAdjust="spacingAndGlyphs" stroke="#262626" stroke-width="0.22">100</text>
<line x1="372" y1="753.25" x2="374.5" y2="753.25" stroke="#3a3a3a" stroke-width="0.7" />
<text x="370.5" y="756.15" font-size="8" font-family="Liberation Sans" fill="#262626" text-anchor="end" textLength="13.65" lengthAdjust="spacingAndGlyphs" stroke="#262626" stroke-width="0.22">200</text>
<line x1="372" y1="715.5" x2="374.5" y2="715.5" stroke="#3a3a3a" stroke-width="0.7" />
<text x="370.5" y="718.4" font-size="8" font-family="Liberation Sans" fill="#262626" text-anchor="end" textLength="13.65" lengthAdjust="spacingAndGlyphs" stroke="#262626" stroke-width="0.22">300</text>
<line x1="372" y1="677.75" x2="374.5" y2="677.75" stroke="#3a3a3a" stroke-width="0.7" />
<text x="370.5" y="680.65" font-size="8" font-family="Liberation Sans" fill="#262626" text-anchor="end" textLength="13.65" lengthAdjust="spacingAndGlyphs" stroke="#262626" stroke-width="0.22">400</text>
<line x1="372" y1="640" x2="374.5" y2="640" stroke="#3a3a3a" stroke-width="0.7" />
<text x="370.5" y="642.9" font-size="8" font-family="Liberation Sans" fill="#262626" text-anchor="end" textLength="13.65" lengthAdjust="spacingAndGlyphs" stroke="#262626" stroke-width="0.22">500</text>
<text x="403" y="812" font-size="7.4" font-family="Liberation Sans" fill="#262626" font-style="italic" stroke="#262626" stroke-width="0.22">μ</text>
<text x="409" y="812" font-size="7.4" font-family="Liberation Sans" fill="#262626" textLength="8.5" lengthAdjust="spacingAndGlyphs" stroke="#262626" stroke-width="0.22">[-]</text>
<text x="352.5" y="707.5" font-size="8" font-family="Liberation Sans" fill="#262626" text-anchor="middle" textLength="57" lengthAdjust="spacingAndGlyphs" transform="rotate(-90 352.5 707.5)" stroke="#262626" stroke-width="0.22">slope [kN/mm]</text>
<line x1="494.5" y1="622" x2="494.5" y2="793" stroke="#d4d4d4" stroke-width="0.8" />
<line x1="508.88" y1="622" x2="508.88" y2="793" stroke="#d4d4d4" stroke-width="0.8" />
<line x1="523.25" y1="622" x2="523.25" y2="793" stroke="#d4d4d4" stroke-width="0.8" />
<line x1="537.62" y1="622" x2="537.62" y2="793" stroke="#d4d4d4" stroke-width="0.8" />
<line x1="552" y1="622" x2="552" y2="793" stroke="#d4d4d4" stroke-width="0.8" />
<line x1="484.5" y1="787.25" x2="554.5" y2="787.25" stroke="#d4d4d4" stroke-width="0.8" />
<line x1="484.5" y1="758.95" x2="554.5" y2="758.95" stroke="#d4d4d4" stroke-width="0.8" />
<line x1="484.5" y1="730.65" x2="554.5" y2="730.65" stroke="#d4d4d4" stroke-width="0.8" />
<line x1="484.5" y1="702.35" x2="554.5" y2="702.35" stroke="#d4d4d4" stroke-width="0.8" />
<line x1="484.5" y1="674.05" x2="554.5" y2="674.05" stroke="#d4d4d4" stroke-width="0.8" />
<line x1="484.5" y1="645.75" x2="554.5" y2="645.75" stroke="#d4d4d4" stroke-width="0.8" />
<line x1="508.88" y1="740.27" x2="508.88" y2="701.5" stroke="#3a3a3a" stroke-width="0.7" />
<line x1="508.88" y1="777.63" x2="508.88" y2="783" stroke="#3a3a3a" stroke-width="0.7" />
<line x1="507.07" y1="701.5" x2="510.68" y2="701.5" stroke="#3a3a3a" stroke-width="0.7" />
<line x1="507.07" y1="783" x2="510.68" y2="783" stroke="#3a3a3a" stroke-width="0.7" />
<rect x="505.27" y="740.27" width="7.2" height="37.36" fill="#add8e6" stroke="#2a2a2a" stroke-width="0.7"/>
<line x1="505.67" y1="766.02" x2="512.08" y2="766.02" stroke="#ff7f0e" stroke-width="0.8" />
<circle cx="508.88" cy="629.62" r="1.9" fill="none" stroke="#3a3a3a" stroke-width="0.7"/>
<circle cx="508.88" cy="667.82" r="1.9" fill="none" stroke="#3a3a3a" stroke-width="0.7"/>
<circle cx="508.88" cy="680.56" r="1.9" fill="none" stroke="#3a3a3a" stroke-width="0.7"/>
<line x1="523.25" y1="747.06" x2="523.25" y2="698.95" stroke="#3a3a3a" stroke-width="0.7" />
<line x1="523.25" y1="780.46" x2="523.25" y2="784.99" stroke="#3a3a3a" stroke-width="0.7" />
<line x1="521.45" y1="698.95" x2="525.05" y2="698.95" stroke="#3a3a3a" stroke-width="0.7" />
<line x1="521.45" y1="784.99" x2="525.05" y2="784.99" stroke="#3a3a3a" stroke-width="0.7" />
<rect x="519.65" y="747.06" width="7.2" height="33.39" fill="#6495ed" stroke="#2a2a2a" stroke-width="0.7"/>
<line x1="520.05" y1="769.99" x2="526.45" y2="769.99" stroke="#ff7f0e" stroke-width="0.8" />
<circle cx="523.25" cy="655.65" r="1.9" fill="none" stroke="#3a3a3a" stroke-width="0.7"/>
<circle cx="523.25" cy="654.24" r="1.9" fill="none" stroke="#3a3a3a" stroke-width="0.7"/>
<circle cx="523.25" cy="691.6" r="1.9" fill="none" stroke="#3a3a3a" stroke-width="0.7"/>
<circle cx="523.25" cy="693.29" r="1.9" fill="none" stroke="#3a3a3a" stroke-width="0.7"/>
<polyline points="487.31,721.31 494.5,744.8 508.88,747.06 523.25,752.72 537.62,761.78 552,753.29" fill="none" stroke="#2b2be6" stroke-width="1.0" stroke-linejoin="round" />
<circle cx="487.31" cy="721.31" r="1.6" fill="#0c0cb4"/>
<circle cx="494.5" cy="744.8" r="1.6" fill="#0c0cb4"/>
<circle cx="508.88" cy="747.06" r="1.6" fill="#0c0cb4"/>
<circle cx="523.25" cy="752.72" r="1.6" fill="#0c0cb4"/>
<circle cx="537.62" cy="761.78" r="1.6" fill="#0c0cb4"/>
<circle cx="552" cy="753.29" r="1.6" fill="#0c0cb4"/>
<polyline points="487.31,741.97 494.5,728.39 508.88,732.63 523.25,751.88 537.62,763.2 552,758.95" fill="none" stroke="#2b2be6" stroke-width="1.0" stroke-linejoin="round" />
<circle cx="487.31" cy="741.97" r="1.6" fill="#0c0cb4"/>
<circle cx="494.5" cy="728.39" r="1.6" fill="#0c0cb4"/>
<circle cx="508.88" cy="732.63" r="1.6" fill="#0c0cb4"/>
<circle cx="523.25" cy="751.88" r="1.6" fill="#0c0cb4"/>
<circle cx="537.62" cy="763.2" r="1.6" fill="#0c0cb4"/>
<circle cx="552" cy="758.95" r="1.6" fill="#0c0cb4"/>
<polyline points="487.31,748.48 494.5,746.22 508.88,748.2 523.25,754.71 537.62,764.61 552,766.02" fill="none" stroke="#2b2be6" stroke-width="1.0" stroke-linejoin="round" />
<circle cx="487.31" cy="748.48" r="1.6" fill="#0c0cb4"/>
<circle cx="494.5" cy="746.22" r="1.6" fill="#0c0cb4"/>
<circle cx="508.88" cy="748.2" r="1.6" fill="#0c0cb4"/>
<circle cx="523.25" cy="754.71" r="1.6" fill="#0c0cb4"/>
<circle cx="537.62" cy="764.61" r="1.6" fill="#0c0cb4"/>
<circle cx="552" cy="766.02" r="1.6" fill="#0c0cb4"/>
<rect x="484.5" y="622" width="70" height="171" fill="none" stroke="#3a3a3a" stroke-width="0.7"/>
<line x1="494.5" y1="793" x2="494.5" y2="795.5" stroke="#3a3a3a" stroke-width="0.7" />
<text x="494.5" y="802.2" font-size="8" font-family="Liberation Sans" fill="#262626" text-anchor="middle" textLength="11.2" lengthAdjust="spacingAndGlyphs" stroke="#262626" stroke-width="0.22">0.3</text>
<line x1="508.88" y1="793" x2="508.88" y2="795.5" stroke="#3a3a3a" stroke-width="0.7" />
<text x="508.88" y="802.2" font-size="8" font-family="Liberation Sans" fill="#262626" text-anchor="middle" textLength="11.2" lengthAdjust="spacingAndGlyphs" stroke="#262626" stroke-width="0.22">0.4</text>
<line x1="523.25" y1="793" x2="523.25" y2="795.5" stroke="#3a3a3a" stroke-width="0.7" />
<text x="523.25" y="802.2" font-size="8" font-family="Liberation Sans" fill="#262626" text-anchor="middle" textLength="11.2" lengthAdjust="spacingAndGlyphs" stroke="#262626" stroke-width="0.22">0.5</text>
<line x1="537.62" y1="793" x2="537.62" y2="795.5" stroke="#3a3a3a" stroke-width="0.7" />
<text x="537.62" y="802.2" font-size="8" font-family="Liberation Sans" fill="#262626" text-anchor="middle" textLength="11.2" lengthAdjust="spacingAndGlyphs" stroke="#262626" stroke-width="0.22">0.6</text>
<line x1="552" y1="793" x2="552" y2="795.5" stroke="#3a3a3a" stroke-width="0.7" />
<text x="552" y="802.2" font-size="8" font-family="Liberation Sans" fill="#262626" text-anchor="middle" textLength="11.2" lengthAdjust="spacingAndGlyphs" stroke="#262626" stroke-width="0.22">0.7</text>
<line x1="482" y1="787.25" x2="484.5" y2="787.25" stroke="#3a3a3a" stroke-width="0.7" />
<text x="480.5" y="790.15" font-size="8" font-family="Liberation Sans" fill="#262626" text-anchor="end" textLength="4.55" lengthAdjust="spacingAndGlyphs" stroke="#262626" stroke-width="0.22">0</text>
<line x1="482" y1="758.95" x2="484.5" y2="758.95" stroke="#3a3a3a" stroke-width="0.7" />
<text x="480.5" y="761.85" font-size="8" font-family="Liberation Sans" fill="#262626" text-anchor="end" textLength="4.55" lengthAdjust="spacingAndGlyphs" stroke="#262626" stroke-width="0.22">1</text>
<line x1="482" y1="730.65" x2="484.5" y2="730.65" stroke="#3a3a3a" stroke-width="0.7" />
<text x="480.5" y="733.55" font-size="8" font-family="Liberation Sans" fill="#262626" text-anchor="end" textLength="4.55" lengthAdjust="spacingAndGlyphs" stroke="#262626" stroke-width="0.22">2</text>
<line x1="482" y1="702.35" x2="484.5" y2="702.35" stroke="#3a3a3a" stroke-width="0.7" />
<text x="480.5" y="705.25" font-size="8" font-family="Liberation Sans" fill="#262626" text-anchor="end" textLength="4.55" lengthAdjust="spacingAndGlyphs" stroke="#262626" stroke-width="0.22">3</text>
<line x1="482" y1="674.05" x2="484.5" y2="674.05" stroke="#3a3a3a" stroke-width="0.7" />
<text x="480.5" y="676.95" font-size="8" font-family="Liberation Sans" fill="#262626" text-anchor="end" textLength="4.55" lengthAdjust="spacingAndGlyphs" stroke="#262626" stroke-width="0.22">4</text>
<line x1="482" y1="645.75" x2="484.5" y2="645.75" stroke="#3a3a3a" stroke-width="0.7" />
<text x="480.5" y="648.65" font-size="8" font-family="Liberation Sans" fill="#262626" text-anchor="end" textLength="4.55" lengthAdjust="spacingAndGlyphs" stroke="#262626" stroke-width="0.22">5</text>
<text x="513" y="812" font-size="7.4" font-family="Liberation Sans" fill="#262626" font-style="italic" stroke="#262626" stroke-width="0.22">μ</text>
<text x="519" y="812" font-size="7.4" font-family="Liberation Sans" fill="#262626" textLength="8.5" lengthAdjust="spacingAndGlyphs" stroke="#262626" stroke-width="0.22">[-]</text>
<text x="472" y="707.5" font-size="8" font-family="Liberation Sans" fill="#262626" text-anchor="middle" textLength="78" lengthAdjust="spacingAndGlyphs" transform="rotate(-90 472 707.5)" stroke="#262626" stroke-width="0.22">linear deviation [kN]</text>
<line x1="604.8" y1="622.25" x2="604.8" y2="793.3" stroke="#d4d4d4" stroke-width="0.8" />
<line x1="619.05" y1="622.25" x2="619.05" y2="793.3" stroke="#d4d4d4" stroke-width="0.8" />
<line x1="633.3" y1="622.25" x2="633.3" y2="793.3" stroke="#d4d4d4" stroke-width="0.8" />
<line x1="647.55" y1="622.25" x2="647.55" y2="793.3" stroke="#d4d4d4" stroke-width="0.8" />
<line x1="661.8" y1="622.25" x2="661.8" y2="793.3" stroke="#d4d4d4" stroke-width="0.8" />
<line x1="594.9" y1="770.4" x2="664.9" y2="770.4" stroke="#d4d4d4" stroke-width="0.8" />
<line x1="594.9" y1="744.2" x2="664.9" y2="744.2" stroke="#d4d4d4" stroke-width="0.8" />
<line x1="594.9" y1="718" x2="664.9" y2="718" stroke="#d4d4d4" stroke-width="0.8" />
<line x1="594.9" y1="691.8" x2="664.9" y2="691.8" stroke="#d4d4d4" stroke-width="0.8" />
<line x1="594.9" y1="665.6" x2="664.9" y2="665.6" stroke="#d4d4d4" stroke-width="0.8" />
<line x1="594.9" y1="639.4" x2="664.9" y2="639.4" stroke="#d4d4d4" stroke-width="0.8" />
<line x1="619.05" y1="721.27" x2="619.05" y2="677.78" stroke="#3a3a3a" stroke-width="0.7" />
<line x1="619.05" y1="754.02" x2="619.05" y2="773.94" stroke="#3a3a3a" stroke-width="0.7" />
<line x1="617.25" y1="677.78" x2="620.85" y2="677.78" stroke="#3a3a3a" stroke-width="0.7" />
<line x1="617.25" y1="773.94" x2="620.85" y2="773.94" stroke="#3a3a3a" stroke-width="0.7" />
<rect x="615.45" y="721.27" width="7.2" height="32.75" fill="#add8e6" stroke="#2a2a2a" stroke-width="0.7"/>
<line x1="615.85" y1="737.13" x2="622.25" y2="737.13" stroke="#ff7f0e" stroke-width="0.8" />
<circle cx="619.05" cy="645.29" r="1.9" fill="none" stroke="#3a3a3a" stroke-width="0.7"/>
<circle cx="619.05" cy="655.12" r="1.9" fill="none" stroke="#3a3a3a" stroke-width="0.7"/>
<line x1="633.3" y1="740.27" x2="633.3" y2="707.52" stroke="#3a3a3a" stroke-width="0.7" />
<line x1="633.3" y1="769.48" x2="633.3" y2="785.47" stroke="#3a3a3a" stroke-width="0.7" />
<line x1="631.5" y1="707.52" x2="635.1" y2="707.52" stroke="#3a3a3a" stroke-width="0.7" />
<line x1="631.5" y1="785.47" x2="635.1" y2="785.47" stroke="#3a3a3a" stroke-width="0.7" />
<rect x="629.7" y="740.27" width="7.2" height="29.21" fill="#6495ed" stroke="#2a2a2a" stroke-width="0.7"/>
<line x1="630.1" y1="755.33" x2="636.5" y2="755.33" stroke="#ff7f0e" stroke-width="0.8" />
<polyline points="597.67,628.92 604.8,692.45 619.05,721.93 633.3,737.65 647.55,750.75 661.8,755.99" fill="none" stroke="#2b2be6" stroke-width="1.0" stroke-linejoin="round" />
<circle cx="597.67" cy="628.92" r="1.6" fill="#0c0cb4"/>
<circle cx="604.8" cy="692.45" r="1.6" fill="#0c0cb4"/>
<circle cx="619.05" cy="721.93" r="1.6" fill="#0c0cb4"/>
<circle cx="633.3" cy="737.65" r="1.6" fill="#0c0cb4"/>
<circle cx="647.55" cy="750.75" r="1.6" fill="#0c0cb4"/>
<circle cx="661.8" cy="755.99" r="1.6" fill="#0c0cb4"/>
<polyline points="597.67,674.77 604.8,664.94 619.05,706.21 633.3,732.41 647.55,746.82 661.8,743.54" fill="none" stroke="#2b2be6" stroke-width="1.0" stroke-linejoin="round" />
<circle cx="597.67" cy="674.77" r="1.6" fill="#0c0cb4"/>
<circle cx="604.8" cy="664.94" r="1.6" fill="#0c0cb4"/>
<circle cx="619.05" cy="706.21" r="1.6" fill="#0c0cb4"/>
<circle cx="633.3" cy="732.41" r="1.6" fill="#0c0cb4"/>
<circle cx="647.55" cy="746.82" r="1.6" fill="#0c0cb4"/>
<circle cx="661.8" cy="743.54" r="1.6" fill="#0c0cb4"/>
<polyline points="597.67,691.8 604.8,716.69 619.05,721.93 633.3,741.58 647.55,753.37 661.8,756.64" fill="none" stroke="#2b2be6" stroke-width="1.0" stroke-linejoin="round" />
<circle cx="597.67" cy="691.8" r="1.6" fill="#0c0cb4"/>
<circle cx="604.8" cy="716.69" r="1.6" fill="#0c0cb4"/>
<circle cx="619.05" cy="721.93" r="1.6" fill="#0c0cb4"/>
<circle cx="633.3" cy="741.58" r="1.6" fill="#0c0cb4"/>
<circle cx="647.55" cy="753.37" r="1.6" fill="#0c0cb4"/>
<circle cx="661.8" cy="756.64" r="1.6" fill="#0c0cb4"/>
<rect x="594.9" y="622.25" width="70" height="171.05" fill="none" stroke="#3a3a3a" stroke-width="0.7"/>
<line x1="604.8" y1="793.3" x2="604.8" y2="795.8" stroke="#3a3a3a" stroke-width="0.7" />
<text x="604.8" y="802.5" font-size="8" font-family="Liberation Sans" fill="#262626" text-anchor="middle" textLength="11.2" lengthAdjust="spacingAndGlyphs" stroke="#262626" stroke-width="0.22">0.3</text>
<line x1="619.05" y1="793.3" x2="619.05" y2="795.8" stroke="#3a3a3a" stroke-width="0.7" />
<text x="619.05" y="802.5" font-size="8" font-family="Liberation Sans" fill="#262626" text-anchor="middle" textLength="11.2" lengthAdjust="spacingAndGlyphs" stroke="#262626" stroke-width="0.22">0.4</text>
<line x1="633.3" y1="793.3" x2="633.3" y2="795.8" stroke="#3a3a3a" stroke-width="0.7" />
<text x="633.3" y="802.5" font-size="8" font-family="Liberation Sans" fill="#262626" text-anchor="middle" textLength="11.2" lengthAdjust="spacingAndGlyphs" stroke="#262626" stroke-width="0.22">0.5</text>
<line x1="647.55" y1="793.3" x2="647.55" y2="795.8" stroke="#3a3a3a" stroke-width="0.7" />
<text x="647.55" y="802.5" font-size="8" font-family="Liberation Sans" fill="#262626" text-anchor="middle" textLength="11.2" lengthAdjust="spacingAndGlyphs" stroke="#262626" stroke-width="0.22">0.6</text>
<line x1="661.8" y1="793.3" x2="661.8" y2="795.8" stroke="#3a3a3a" stroke-width="0.7" />
<text x="661.8" y="802.5" font-size="8" font-family="Liberation Sans" fill="#262626" text-anchor="middle" textLength="11.2" lengthAdjust="spacingAndGlyphs" stroke="#262626" stroke-width="0.22">0.7</text>
<line x1="592.4" y1="770.4" x2="594.9" y2="770.4" stroke="#3a3a3a" stroke-width="0.7" />
<text x="590.9" y="773.3" font-size="8" font-family="Liberation Sans" fill="#262626" text-anchor="end" textLength="15.9" lengthAdjust="spacingAndGlyphs" stroke="#262626" stroke-width="0.22">0.02</text>
<line x1="592.4" y1="744.2" x2="594.9" y2="744.2" stroke="#3a3a3a" stroke-width="0.7" />
<text x="590.9" y="747.1" font-size="8" font-family="Liberation Sans" fill="#262626" text-anchor="end" textLength="15.9" lengthAdjust="spacingAndGlyphs" stroke="#262626" stroke-width="0.22">0.04</text>
<line x1="592.4" y1="718" x2="594.9" y2="718" stroke="#3a3a3a" stroke-width="0.7" />
<text x="590.9" y="720.9" font-size="8" font-family="Liberation Sans" fill="#262626" text-anchor="end" textLength="15.9" lengthAdjust="spacingAndGlyphs" stroke="#262626" stroke-width="0.22">0.06</text>
<line x1="592.4" y1="691.8" x2="594.9" y2="691.8" stroke="#3a3a3a" stroke-width="0.7" />
<text x="590.9" y="694.7" font-size="8" font-family="Liberation Sans" fill="#262626" text-anchor="end" textLength="15.9" lengthAdjust="spacingAndGlyphs" stroke="#262626" stroke-width="0.22">0.08</text>
<line x1="592.4" y1="665.6" x2="594.9" y2="665.6" stroke="#3a3a3a" stroke-width="0.7" />
<text x="590.9" y="668.5" font-size="8" font-family="Liberation Sans" fill="#262626" text-anchor="end" textLength="15.9" lengthAdjust="spacingAndGlyphs" stroke="#262626" stroke-width="0.22">0.10</text>
<line x1="592.4" y1="639.4" x2="594.9" y2="639.4" stroke="#3a3a3a" stroke-width="0.7" />
<text x="590.9" y="642.3" font-size="8" font-family="Liberation Sans" fill="#262626" text-anchor="end" textLength="15.9" lengthAdjust="spacingAndGlyphs" stroke="#262626" stroke-width="0.22">0.12</text>
<text x="623.4" y="812.3" font-size="7.4" font-family="Liberation Sans" fill="#262626" font-style="italic" stroke="#262626" stroke-width="0.22">μ</text>
<text x="629.4" y="812.3" font-size="7.4" font-family="Liberation Sans" fill="#262626" textLength="8.5" lengthAdjust="spacingAndGlyphs" stroke="#262626" stroke-width="0.22">[-]</text>
<text x="570.3" y="707.8" font-size="8" font-family="Liberation Sans" fill="#262626" text-anchor="middle" textLength="64" lengthAdjust="spacingAndGlyphs" transform="rotate(-90 570.3 707.8)" stroke="#262626" stroke-width="0.22">settlement [mm]</text>
<text x="4.5" y="216.4" font-family="Liberation Serif" font-weight="bold" font-size="12.2" fill="#111111">(a)</text>
<text x="25.2" y="216.4" font-family="Liberation Serif" font-size="11.5" fill="#111111" textLength="288.5" lengthAdjust="spacingAndGlyphs">simulated force-path curves using parameter sets <tspan font-style="italic">p</tspan><tspan font-size="70%" dy="2">1</tspan><tspan dy="-2">, </tspan><tspan font-style="italic">p</tspan><tspan font-size="70%" dy="2">2</tspan><tspan dy="-2"> and </tspan><tspan font-style="italic">p</tspan><tspan font-size="70%" dy="2">3</tspan><tspan dy="-2"></tspan></text>
<text x="387.9" y="216.4" font-family="Liberation Serif" font-weight="bold" font-size="12.0" fill="#111111">(b)</text>
<text x="407.1" y="216.4" font-family="Liberation Serif" font-size="11.5" fill="#111111" textLength="203.7" lengthAdjust="spacingAndGlyphs">influence of <tspan font-style="italic">E</tspan> on characteristics for <tspan font-style="italic">μ</tspan> = 0.5</text>
<text x="24.4" y="401.1" font-family="Liberation Serif" font-weight="bold" font-size="12.5" fill="#111111">(c)</text>
<text x="45.5" y="401.1" font-family="Liberation Serif" font-size="11" fill="#111111" textLength="152.2" lengthAdjust="spacingAndGlyphs">slope at <tspan font-style="italic">E</tspan> = 50 GPa and <tspan font-style="italic">μ</tspan> = 0.5</text>
<text x="226.4" y="401.1" font-family="Liberation Serif" font-weight="bold" font-size="12.5" fill="#111111">(d)</text>
<text x="247.7" y="401.1" font-family="Liberation Serif" font-size="11" fill="#111111" textLength="199.9" lengthAdjust="spacingAndGlyphs">linear deviation at <tspan font-style="italic">E</tspan> = 50 GPa and <tspan font-style="italic">μ</tspan> = 0.5</text>
<text x="466.3" y="401.1" font-family="Liberation Serif" font-weight="bold" font-size="12.5" fill="#111111">(e)</text>
<text x="486.6" y="401.1" font-family="Liberation Serif" font-size="11" fill="#111111" textLength="176" lengthAdjust="spacingAndGlyphs">settlement at <tspan font-style="italic">E</tspan> = 50 GPa and <tspan font-style="italic">μ</tspan> = 0.5</text>
<text x="10.7" y="586.8" font-family="Liberation Serif" font-weight="bold" font-size="12.3" fill="#111111">(f)</text>
<text x="26.7" y="586.8" font-family="Liberation Serif" font-size="11" fill="#111111" textLength="190.2" lengthAdjust="spacingAndGlyphs">final porosity at <tspan font-style="italic">E</tspan> = 50 GPa and <tspan font-style="italic">μ</tspan> = 0.5</text>
<text x="228.4" y="586.8" font-family="Liberation Serif" font-weight="bold" font-size="12.3" fill="#111111">(g)</text>
<text x="246.2" y="586.8" font-family="Liberation Serif" font-size="11" fill="#111111" textLength="205.8" lengthAdjust="spacingAndGlyphs">yielding contacts at <tspan font-style="italic">E</tspan> = 50 GPa and <tspan font-style="italic">μ</tspan> = 0.5</text>
<text x="0.9" y="831.9" font-family="Liberation Serif" font-weight="bold" font-size="12.0" fill="#111111">(h)</text>
<text x="19.9" y="831.9" font-family="Liberation Serif" font-size="11.5" fill="#111111" textLength="271.35" lengthAdjust="spacingAndGlyphs">correlations of slope, linear deviation, settlement and per-</text>
<text x="0.9" y="845.0" font-family="Liberation Serif" font-size="11.5" fill="#111111" textLength="268.6" lengthAdjust="spacingAndGlyphs">centage of yielding contacts for simulations using <tspan font-style="italic">μ</tspan> = 0.5</text>
<text x="339.5" y="832" font-family="Liberation Serif" font-weight="bold" font-size="12.0" fill="#111111">(i)</text>
<text x="355.7" y="832" font-family="Liberation Serif" font-size="11.5" fill="#111111" textLength="314.1" lengthAdjust="spacingAndGlyphs">influence of μ on characteristics (DoE results for <tspan font-style="italic">μ</tspan> 0.4 and 0.5 and</text>
<text x="340.5" y="844.6" font-family="Liberation Serif" font-size="11.5" fill="#111111" textLength="200.5" lengthAdjust="spacingAndGlyphs">additionally for <tspan font-style="italic">p</tspan><tspan font-size="70%" dy="2">2</tspan><tspan dy="-2"> for lower and higher </tspan><tspan font-style="italic">μ</tspan> )</text>
</svg></body></html>
